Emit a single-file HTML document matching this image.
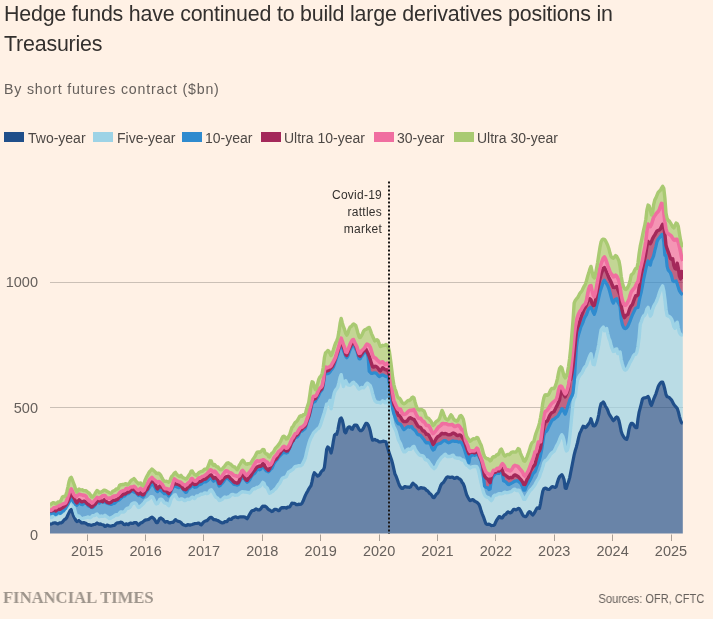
<!DOCTYPE html>
<html><head><meta charset="utf-8"><style>
html,body{margin:0;padding:0;background:#fff1e5;}
body{width:713px;height:619px;position:relative;overflow:hidden;-webkit-font-smoothing:antialiased;font-family:"Liberation Sans",Arial,sans-serif;color:#33302e;}
.chart{position:absolute;left:0;top:0;}
.t,.sub,.leg,.ft,.src,.chart{will-change:transform;}
.t{position:absolute;left:4px;top:-0.3px;font-size:21.4px;letter-spacing:-0.2px;line-height:29.6px;color:#33302e;margin:0;font-weight:normal;white-space:nowrap;}
.sub{position:absolute;left:4px;top:81px;font-size:14.2px;letter-spacing:0.8px;color:#66605c;white-space:nowrap;}
.leg{position:absolute;top:129.5px;left:0;font-size:14px;color:#4d4845;white-space:nowrap;}
.leg span{position:absolute;top:0;}
.leg i{position:absolute;top:1.6px;width:20px;height:10px;}
.ax text{font-family:"Liberation Sans",Arial,sans-serif;font-size:14.5px;fill:#66605c;}
.ann text{font-family:"Liberation Sans",Arial,sans-serif;font-size:12px;letter-spacing:0.25px;fill:#33302e;}
.ft{position:absolute;left:3px;top:586.6px;font-family:"Liberation Serif",serif;font-weight:bold;font-size:17.4px;color:#9e958c;transform:scaleX(0.955);transform-origin:0 0;white-space:nowrap;}
.src{position:absolute;right:9px;top:592px;font-size:12.6px;color:#66605c;transform:scaleX(0.88);transform-origin:100% 0;white-space:nowrap;}
</style></head><body>
<svg class="chart" width="713" height="619" viewBox="0 0 713 619">
<defs><clipPath id="cl"><rect x="50" y="150" width="633" height="384"/></clipPath></defs>
<line x1="50" y1="282.5" x2="683" y2="282.5" stroke="#cbc0b6" stroke-width="1"/>
<line x1="50" y1="407.5" x2="683" y2="407.5" stroke="#cbc0b6" stroke-width="1"/>
<g clip-path="url(#cl)">
<polygon points="50.00,524.2 51.12,524.1 52.24,523.6 53.36,523.0 54.48,522.9 55.60,522.9 56.72,523.6 57.84,524.0 58.96,523.2 60.08,522.8 61.20,522.9 62.32,522.2 63.44,520.8 64.56,519.5 65.68,519.0 66.80,517.5 67.92,514.9 69.04,512.6 70.16,510.4 71.28,509.4 72.40,512.3 73.52,515.7 74.64,517.9 75.76,520.2 76.88,521.6 78.00,521.1 79.12,520.5 80.24,521.5 81.36,522.8 82.48,522.9 83.60,522.6 84.72,522.9 85.84,523.3 86.96,524.2 88.08,524.9 89.20,524.7 90.32,525.0 91.44,525.4 92.56,524.9 93.68,524.5 94.80,524.5 95.92,523.8 97.04,523.0 98.16,523.8 99.28,524.3 100.40,523.9 101.52,524.5 102.64,524.8 103.76,525.1 104.88,526.4 106.00,526.1 107.12,525.0 108.24,525.5 109.36,526.0 110.48,526.1 111.60,526.0 112.72,525.6 113.84,525.5 114.96,525.0 116.08,523.6 117.20,522.9 118.32,522.9 119.44,522.7 120.56,522.2 121.68,522.3 122.80,523.2 123.92,524.5 125.04,524.6 126.16,523.8 127.28,524.3 128.40,524.7 129.52,523.4 130.64,523.0 131.76,523.4 132.88,523.5 134.00,522.7 135.12,522.5 136.24,522.7 137.36,523.9 138.48,525.0 139.60,524.0 140.72,522.9 141.84,522.6 142.96,521.9 144.08,520.9 145.20,520.1 146.32,519.8 147.44,519.7 148.56,519.5 149.68,518.6 150.80,517.6 151.92,517.1 153.04,517.8 154.16,518.9 155.28,520.7 156.40,522.6 157.52,522.6 158.64,520.4 159.76,518.4 160.88,517.9 162.00,518.8 163.12,519.6 164.24,521.1 165.36,522.2 166.48,521.5 167.60,521.5 168.72,522.7 169.84,523.0 170.96,522.5 172.08,522.3 173.20,522.3 174.32,520.8 175.44,519.6 176.56,520.5 177.68,521.2 178.80,521.4 179.92,521.8 181.04,522.5 182.16,523.9 183.28,524.8 184.40,525.1 185.52,525.6 186.64,525.4 187.76,524.6 188.88,524.8 190.00,525.1 191.12,524.8 192.24,524.5 193.36,524.1 194.48,523.7 195.60,523.5 196.72,523.5 197.84,523.2 198.96,523.0 200.08,524.3 201.20,524.9 202.32,523.6 203.44,522.3 204.56,521.4 205.68,520.9 206.80,520.7 207.92,519.7 209.04,518.5 210.16,517.6 211.28,517.3 212.40,518.2 213.52,519.6 214.64,519.6 215.76,519.8 216.88,520.3 218.00,520.6 219.12,521.4 220.24,522.0 221.36,522.6 222.48,522.9 223.60,522.7 224.72,521.7 225.84,521.5 226.96,521.6 228.08,519.9 229.20,518.8 230.32,519.5 231.44,519.3 232.56,517.9 233.68,517.4 234.80,517.0 235.92,516.8 237.04,517.5 238.16,517.7 239.28,517.0 240.40,516.8 241.52,516.8 242.64,516.8 243.76,516.9 244.88,517.0 246.00,518.0 247.12,518.8 248.24,516.9 249.36,514.8 250.48,512.9 251.60,511.1 252.72,510.5 253.84,510.3 254.96,509.6 256.08,508.9 257.20,509.4 258.32,510.0 259.44,510.0 260.56,509.1 261.68,507.4 262.80,506.2 263.92,506.4 265.04,506.2 266.16,506.8 267.28,508.1 268.40,509.4 269.52,510.0 270.64,510.6 271.76,511.6 272.88,511.1 274.00,509.8 275.12,509.3 276.24,509.3 277.36,509.9 278.48,510.7 279.60,510.2 280.72,508.3 281.84,507.6 282.96,508.0 284.08,507.6 285.20,507.6 286.32,508.2 287.44,507.2 288.56,507.1 289.68,507.0 290.80,505.2 291.92,503.1 293.04,503.3 294.16,503.3 295.28,503.7 296.40,504.7 297.52,504.7 298.64,504.2 299.76,504.4 300.88,504.2 302.00,503.3 303.12,501.1 304.24,498.1 305.36,495.4 306.48,493.1 307.60,491.2 308.72,489.1 309.84,487.2 310.96,485.8 312.08,481.4 313.20,475.8 314.32,472.7 315.44,473.8 316.56,474.9 317.68,476.2 318.80,475.6 319.92,474.2 321.04,472.0 322.16,470.7 323.28,470.1 324.40,467.3 325.52,458.7 326.64,449.5 327.76,446.9 328.88,448.0 330.00,449.9 331.12,453.0 332.24,448.2 333.36,441.3 334.48,435.3 335.60,434.0 336.72,434.3 337.84,430.1 338.96,423.9 340.08,418.9 341.20,417.9 342.32,420.2 343.44,425.1 344.56,431.6 345.68,432.9 346.80,430.1 347.92,427.6 349.04,426.9 350.16,427.1 351.28,428.9 352.40,429.3 353.52,426.7 354.64,425.0 355.76,425.1 356.88,425.4 358.00,427.4 359.12,429.5 360.24,430.7 361.36,430.6 362.48,429.8 363.60,427.9 364.72,425.5 365.84,423.4 366.96,423.4 368.08,424.7 369.20,427.3 370.32,431.2 371.44,436.8 372.56,440.2 373.68,439.9 374.80,439.4 375.92,440.2 377.04,440.3 378.16,441.1 379.28,441.8 380.40,441.9 381.52,441.7 382.64,441.4 383.76,441.2 384.88,441.5 386.00,441.8 387.12,446.1 388.24,449.9 389.36,453.4 390.48,456.8 391.60,460.0 392.72,464.1 393.84,469.2 394.96,474.1 396.08,476.2 397.20,479.2 398.32,482.5 399.44,485.3 400.56,487.1 401.68,488.3 402.80,488.3 403.92,487.1 405.04,486.5 406.16,486.9 407.28,487.2 408.40,487.2 409.52,487.4 410.64,486.8 411.76,484.7 412.88,483.1 414.00,484.1 415.12,485.1 416.24,486.0 417.36,487.9 418.48,488.9 419.60,488.3 420.72,487.6 421.84,487.9 422.96,488.2 424.08,488.1 425.20,488.8 426.32,490.2 427.44,490.7 428.56,492.0 429.68,493.5 430.80,494.1 431.92,495.6 433.04,497.4 434.16,497.6 435.28,495.9 436.40,494.2 437.52,493.3 438.64,491.6 439.76,488.2 440.88,485.1 442.00,483.5 443.12,482.7 444.24,481.3 445.36,479.4 446.48,477.6 447.60,476.9 448.72,477.0 449.84,477.4 450.96,477.3 452.08,477.0 453.20,477.5 454.32,478.4 455.44,478.1 456.56,477.3 457.68,477.6 458.80,478.7 459.92,479.1 461.04,480.2 462.16,482.4 463.28,483.8 464.40,486.7 465.52,490.8 466.64,494.8 467.76,497.0 468.88,499.0 470.00,500.6 471.12,500.3 472.24,499.6 473.36,499.9 474.48,501.0 475.60,501.6 476.72,502.2 477.84,503.1 478.96,504.3 480.08,507.1 481.20,511.2 482.32,514.1 483.44,516.8 484.56,520.1 485.68,523.3 486.80,524.4 487.92,524.4 489.04,524.1 490.16,524.6 491.28,525.6 492.40,525.5 493.52,525.4 494.64,524.7 495.76,521.9 496.88,519.7 498.00,518.4 499.12,516.6 500.24,516.9 501.36,518.0 502.48,517.8 503.60,515.8 504.72,514.7 505.84,514.3 506.96,512.7 508.08,511.8 509.20,512.5 510.32,513.0 511.44,512.3 512.56,510.8 513.68,509.3 514.80,509.3 515.92,509.9 517.04,509.3 518.16,508.4 519.28,508.5 520.40,510.3 521.52,512.5 522.64,514.8 523.76,516.1 524.88,516.6 526.00,516.6 527.12,515.1 528.24,512.8 529.36,511.6 530.48,512.2 531.60,513.8 532.72,515.0 533.84,513.8 534.96,511.9 536.08,509.6 537.20,507.9 538.32,508.2 539.44,508.3 540.56,503.3 541.68,496.7 542.80,491.1 543.92,488.6 545.04,488.1 546.16,488.3 547.28,489.2 548.40,489.5 549.52,489.3 550.64,488.0 551.76,486.8 552.88,486.6 554.00,487.1 555.12,487.5 556.24,486.6 557.36,482.4 558.48,479.0 559.60,476.7 560.72,475.6 561.84,474.6 562.96,476.5 564.08,479.7 565.20,488.1 566.32,488.4 567.44,484.5 568.56,481.7 569.68,477.6 570.80,472.0 571.92,466.2 573.04,460.5 574.16,454.9 575.28,450.5 576.40,446.9 577.52,442.7 578.64,437.6 579.76,433.4 580.88,431.1 582.00,428.6 583.12,426.2 584.24,426.5 585.36,427.5 586.48,426.9 587.60,425.2 588.72,423.8 589.84,422.2 590.96,418.7 592.08,422.4 593.20,425.6 594.32,425.9 595.44,425.1 596.56,422.8 597.68,419.5 598.80,414.5 599.92,407.8 601.04,403.7 602.16,403.1 603.28,401.9 604.40,403.7 605.52,406.4 606.64,407.9 607.76,410.3 608.88,413.5 610.00,415.5 611.12,417.2 612.24,419.0 613.36,420.7 614.48,419.6 615.60,417.8 616.72,416.9 617.84,417.8 618.96,420.6 620.08,425.7 621.20,431.4 622.32,434.5 623.44,436.4 624.56,438.1 625.68,439.0 626.80,439.4 627.92,435.7 629.04,429.4 630.16,425.4 631.28,423.3 632.40,423.4 633.52,424.5 634.64,426.4 635.76,427.6 636.88,427.7 638.00,418.8 639.12,412.1 640.24,407.9 641.36,403.6 642.48,399.0 643.60,398.1 644.72,397.8 645.84,397.7 646.96,397.1 648.08,396.5 649.20,398.8 650.32,403.4 651.44,405.4 652.56,402.5 653.68,399.1 654.80,396.5 655.92,393.8 657.04,390.2 658.16,386.8 659.28,384.6 660.40,383.0 661.52,382.1 662.64,382.0 663.76,385.1 664.88,389.5 666.00,394.5 667.12,396.7 668.24,397.0 669.36,397.7 670.48,398.8 671.60,400.1 672.72,402.3 673.84,404.4 674.96,405.9 676.08,407.1 677.20,408.3 678.32,411.7 679.44,416.3 680.56,420.4 681.68,422.9 682.80,423.3 682.80,533.6 681.68,533.6 680.56,533.6 679.44,533.6 678.32,533.6 677.20,533.6 676.08,533.6 674.96,533.6 673.84,533.6 672.72,533.6 671.60,533.6 670.48,533.6 669.36,533.6 668.24,533.6 667.12,533.6 666.00,533.6 664.88,533.6 663.76,533.6 662.64,533.6 661.52,533.6 660.40,533.6 659.28,533.6 658.16,533.6 657.04,533.6 655.92,533.6 654.80,533.6 653.68,533.6 652.56,533.6 651.44,533.6 650.32,533.6 649.20,533.6 648.08,533.6 646.96,533.6 645.84,533.6 644.72,533.6 643.60,533.6 642.48,533.6 641.36,533.6 640.24,533.6 639.12,533.6 638.00,533.6 636.88,533.6 635.76,533.6 634.64,533.6 633.52,533.6 632.40,533.6 631.28,533.6 630.16,533.6 629.04,533.6 627.92,533.6 626.80,533.6 625.68,533.6 624.56,533.6 623.44,533.6 622.32,533.6 621.20,533.6 620.08,533.6 618.96,533.6 617.84,533.6 616.72,533.6 615.60,533.6 614.48,533.6 613.36,533.6 612.24,533.6 611.12,533.6 610.00,533.6 608.88,533.6 607.76,533.6 606.64,533.6 605.52,533.6 604.40,533.6 603.28,533.6 602.16,533.6 601.04,533.6 599.92,533.6 598.80,533.6 597.68,533.6 596.56,533.6 595.44,533.6 594.32,533.6 593.20,533.6 592.08,533.6 590.96,533.6 589.84,533.6 588.72,533.6 587.60,533.6 586.48,533.6 585.36,533.6 584.24,533.6 583.12,533.6 582.00,533.6 580.88,533.6 579.76,533.6 578.64,533.6 577.52,533.6 576.40,533.6 575.28,533.6 574.16,533.6 573.04,533.6 571.92,533.6 570.80,533.6 569.68,533.6 568.56,533.6 567.44,533.6 566.32,533.6 565.20,533.6 564.08,533.6 562.96,533.6 561.84,533.6 560.72,533.6 559.60,533.6 558.48,533.6 557.36,533.6 556.24,533.6 555.12,533.6 554.00,533.6 552.88,533.6 551.76,533.6 550.64,533.6 549.52,533.6 548.40,533.6 547.28,533.6 546.16,533.6 545.04,533.6 543.92,533.6 542.80,533.6 541.68,533.6 540.56,533.6 539.44,533.6 538.32,533.6 537.20,533.6 536.08,533.6 534.96,533.6 533.84,533.6 532.72,533.6 531.60,533.6 530.48,533.6 529.36,533.6 528.24,533.6 527.12,533.6 526.00,533.6 524.88,533.6 523.76,533.6 522.64,533.6 521.52,533.6 520.40,533.6 519.28,533.6 518.16,533.6 517.04,533.6 515.92,533.6 514.80,533.6 513.68,533.6 512.56,533.6 511.44,533.6 510.32,533.6 509.20,533.6 508.08,533.6 506.96,533.6 505.84,533.6 504.72,533.6 503.60,533.6 502.48,533.6 501.36,533.6 500.24,533.6 499.12,533.6 498.00,533.6 496.88,533.6 495.76,533.6 494.64,533.6 493.52,533.6 492.40,533.6 491.28,533.6 490.16,533.6 489.04,533.6 487.92,533.6 486.80,533.6 485.68,533.6 484.56,533.6 483.44,533.6 482.32,533.6 481.20,533.6 480.08,533.6 478.96,533.6 477.84,533.6 476.72,533.6 475.60,533.6 474.48,533.6 473.36,533.6 472.24,533.6 471.12,533.6 470.00,533.6 468.88,533.6 467.76,533.6 466.64,533.6 465.52,533.6 464.40,533.6 463.28,533.6 462.16,533.6 461.04,533.6 459.92,533.6 458.80,533.6 457.68,533.6 456.56,533.6 455.44,533.6 454.32,533.6 453.20,533.6 452.08,533.6 450.96,533.6 449.84,533.6 448.72,533.6 447.60,533.6 446.48,533.6 445.36,533.6 444.24,533.6 443.12,533.6 442.00,533.6 440.88,533.6 439.76,533.6 438.64,533.6 437.52,533.6 436.40,533.6 435.28,533.6 434.16,533.6 433.04,533.6 431.92,533.6 430.80,533.6 429.68,533.6 428.56,533.6 427.44,533.6 426.32,533.6 425.20,533.6 424.08,533.6 422.96,533.6 421.84,533.6 420.72,533.6 419.60,533.6 418.48,533.6 417.36,533.6 416.24,533.6 415.12,533.6 414.00,533.6 412.88,533.6 411.76,533.6 410.64,533.6 409.52,533.6 408.40,533.6 407.28,533.6 406.16,533.6 405.04,533.6 403.92,533.6 402.80,533.6 401.68,533.6 400.56,533.6 399.44,533.6 398.32,533.6 397.20,533.6 396.08,533.6 394.96,533.6 393.84,533.6 392.72,533.6 391.60,533.6 390.48,533.6 389.36,533.6 388.24,533.6 387.12,533.6 386.00,533.6 384.88,533.6 383.76,533.6 382.64,533.6 381.52,533.6 380.40,533.6 379.28,533.6 378.16,533.6 377.04,533.6 375.92,533.6 374.80,533.6 373.68,533.6 372.56,533.6 371.44,533.6 370.32,533.6 369.20,533.6 368.08,533.6 366.96,533.6 365.84,533.6 364.72,533.6 363.60,533.6 362.48,533.6 361.36,533.6 360.24,533.6 359.12,533.6 358.00,533.6 356.88,533.6 355.76,533.6 354.64,533.6 353.52,533.6 352.40,533.6 351.28,533.6 350.16,533.6 349.04,533.6 347.92,533.6 346.80,533.6 345.68,533.6 344.56,533.6 343.44,533.6 342.32,533.6 341.20,533.6 340.08,533.6 338.96,533.6 337.84,533.6 336.72,533.6 335.60,533.6 334.48,533.6 333.36,533.6 332.24,533.6 331.12,533.6 330.00,533.6 328.88,533.6 327.76,533.6 326.64,533.6 325.52,533.6 324.40,533.6 323.28,533.6 322.16,533.6 321.04,533.6 319.92,533.6 318.80,533.6 317.68,533.6 316.56,533.6 315.44,533.6 314.32,533.6 313.20,533.6 312.08,533.6 310.96,533.6 309.84,533.6 308.72,533.6 307.60,533.6 306.48,533.6 305.36,533.6 304.24,533.6 303.12,533.6 302.00,533.6 300.88,533.6 299.76,533.6 298.64,533.6 297.52,533.6 296.40,533.6 295.28,533.6 294.16,533.6 293.04,533.6 291.92,533.6 290.80,533.6 289.68,533.6 288.56,533.6 287.44,533.6 286.32,533.6 285.20,533.6 284.08,533.6 282.96,533.6 281.84,533.6 280.72,533.6 279.60,533.6 278.48,533.6 277.36,533.6 276.24,533.6 275.12,533.6 274.00,533.6 272.88,533.6 271.76,533.6 270.64,533.6 269.52,533.6 268.40,533.6 267.28,533.6 266.16,533.6 265.04,533.6 263.92,533.6 262.80,533.6 261.68,533.6 260.56,533.6 259.44,533.6 258.32,533.6 257.20,533.6 256.08,533.6 254.96,533.6 253.84,533.6 252.72,533.6 251.60,533.6 250.48,533.6 249.36,533.6 248.24,533.6 247.12,533.6 246.00,533.6 244.88,533.6 243.76,533.6 242.64,533.6 241.52,533.6 240.40,533.6 239.28,533.6 238.16,533.6 237.04,533.6 235.92,533.6 234.80,533.6 233.68,533.6 232.56,533.6 231.44,533.6 230.32,533.6 229.20,533.6 228.08,533.6 226.96,533.6 225.84,533.6 224.72,533.6 223.60,533.6 222.48,533.6 221.36,533.6 220.24,533.6 219.12,533.6 218.00,533.6 216.88,533.6 215.76,533.6 214.64,533.6 213.52,533.6 212.40,533.6 211.28,533.6 210.16,533.6 209.04,533.6 207.92,533.6 206.80,533.6 205.68,533.6 204.56,533.6 203.44,533.6 202.32,533.6 201.20,533.6 200.08,533.6 198.96,533.6 197.84,533.6 196.72,533.6 195.60,533.6 194.48,533.6 193.36,533.6 192.24,533.6 191.12,533.6 190.00,533.6 188.88,533.6 187.76,533.6 186.64,533.6 185.52,533.6 184.40,533.6 183.28,533.6 182.16,533.6 181.04,533.6 179.92,533.6 178.80,533.6 177.68,533.6 176.56,533.6 175.44,533.6 174.32,533.6 173.20,533.6 172.08,533.6 170.96,533.6 169.84,533.6 168.72,533.6 167.60,533.6 166.48,533.6 165.36,533.6 164.24,533.6 163.12,533.6 162.00,533.6 160.88,533.6 159.76,533.6 158.64,533.6 157.52,533.6 156.40,533.6 155.28,533.6 154.16,533.6 153.04,533.6 151.92,533.6 150.80,533.6 149.68,533.6 148.56,533.6 147.44,533.6 146.32,533.6 145.20,533.6 144.08,533.6 142.96,533.6 141.84,533.6 140.72,533.6 139.60,533.6 138.48,533.6 137.36,533.6 136.24,533.6 135.12,533.6 134.00,533.6 132.88,533.6 131.76,533.6 130.64,533.6 129.52,533.6 128.40,533.6 127.28,533.6 126.16,533.6 125.04,533.6 123.92,533.6 122.80,533.6 121.68,533.6 120.56,533.6 119.44,533.6 118.32,533.6 117.20,533.6 116.08,533.6 114.96,533.6 113.84,533.6 112.72,533.6 111.60,533.6 110.48,533.6 109.36,533.6 108.24,533.6 107.12,533.6 106.00,533.6 104.88,533.6 103.76,533.6 102.64,533.6 101.52,533.6 100.40,533.6 99.28,533.6 98.16,533.6 97.04,533.6 95.92,533.6 94.80,533.6 93.68,533.6 92.56,533.6 91.44,533.6 90.32,533.6 89.20,533.6 88.08,533.6 86.96,533.6 85.84,533.6 84.72,533.6 83.60,533.6 82.48,533.6 81.36,533.6 80.24,533.6 79.12,533.6 78.00,533.6 76.88,533.6 75.76,533.6 74.64,533.6 73.52,533.6 72.40,533.6 71.28,533.6 70.16,533.6 69.04,533.6 67.92,533.6 66.80,533.6 65.68,533.6 64.56,533.6 63.44,533.6 62.32,533.6 61.20,533.6 60.08,533.6 58.96,533.6 57.84,533.6 56.72,533.6 55.60,533.6 54.48,533.6 53.36,533.6 52.24,533.6 51.12,533.6 50.00,533.6" fill="#204f8a" fill-opacity="0.675"/><polygon points="50.00,517.1 51.12,517.5 52.24,517.1 53.36,515.8 54.48,515.0 55.60,515.6 56.72,515.0 57.84,514.1 58.96,514.1 60.08,513.6 61.20,512.8 62.32,512.3 63.44,511.4 64.56,509.5 65.68,508.4 66.80,507.7 67.92,505.4 69.04,502.3 70.16,500.3 71.28,499.5 72.40,501.9 73.52,505.8 74.64,509.7 75.76,513.7 76.88,516.2 78.00,516.0 79.12,516.2 80.24,517.5 81.36,518.6 82.48,518.8 83.60,518.2 84.72,517.9 85.84,517.8 86.96,517.3 88.08,517.0 89.20,517.6 90.32,517.7 91.44,516.9 92.56,515.7 93.68,515.6 94.80,515.6 95.92,514.6 97.04,514.0 98.16,515.3 99.28,516.7 100.40,516.3 101.52,516.0 102.64,516.4 103.76,516.1 104.88,515.3 106.00,515.9 107.12,516.9 108.24,517.7 109.36,518.5 110.48,518.3 111.60,517.5 112.72,516.9 113.84,516.4 114.96,515.3 116.08,514.7 117.20,515.1 118.32,514.8 119.44,513.2 120.56,512.0 121.68,512.0 122.80,512.1 123.92,511.8 125.04,510.9 126.16,509.1 127.28,508.3 128.40,508.2 129.52,507.6 130.64,506.2 131.76,504.2 132.88,503.3 134.00,502.9 135.12,503.0 136.24,503.8 137.36,506.0 138.48,507.5 139.60,507.1 140.72,505.9 141.84,505.1 142.96,504.1 144.08,502.8 145.20,501.1 146.32,500.2 147.44,499.9 148.56,499.1 149.68,498.2 150.80,496.7 151.92,496.6 153.04,497.6 154.16,500.0 155.28,502.4 156.40,503.9 157.52,503.5 158.64,501.7 159.76,499.4 160.88,499.2 162.00,499.6 163.12,501.0 164.24,502.8 165.36,503.3 166.48,503.2 167.60,504.5 168.72,505.7 169.84,503.3 170.96,499.6 172.08,497.3 173.20,496.3 174.32,495.0 175.44,494.8 176.56,497.4 177.68,499.2 178.80,499.5 179.92,499.6 181.04,498.8 182.16,499.0 183.28,499.7 184.40,500.6 185.52,500.5 186.64,499.6 187.76,499.1 188.88,499.5 190.00,499.2 191.12,497.9 192.24,497.1 193.36,497.7 194.48,498.5 195.60,497.3 196.72,495.9 197.84,495.9 198.96,495.7 200.08,494.7 201.20,494.1 202.32,494.2 203.44,493.8 204.56,493.0 205.68,492.9 206.80,493.7 207.92,493.4 209.04,492.0 210.16,490.3 211.28,489.8 212.40,491.4 213.52,493.2 214.64,495.3 215.76,497.2 216.88,497.7 218.00,498.6 219.12,500.5 220.24,500.4 221.36,499.7 222.48,499.2 223.60,497.9 224.72,496.9 225.84,497.5 226.96,497.6 228.08,497.0 229.20,496.8 230.32,495.9 231.44,494.7 232.56,494.4 233.68,494.7 234.80,495.2 235.92,495.1 237.04,495.0 238.16,494.8 239.28,493.7 240.40,492.9 241.52,492.1 242.64,491.6 243.76,491.8 244.88,492.0 246.00,492.2 247.12,492.4 248.24,492.5 249.36,493.0 250.48,492.3 251.60,490.8 252.72,489.4 253.84,488.7 254.96,488.7 256.08,488.0 257.20,487.3 258.32,487.1 259.44,486.7 260.56,485.8 261.68,484.1 262.80,482.4 263.92,483.2 265.04,486.3 266.16,487.1 267.28,488.2 268.40,490.9 269.52,493.3 270.64,492.7 271.76,491.7 272.88,491.3 274.00,490.0 275.12,489.1 276.24,488.2 277.36,486.2 278.48,484.5 279.60,483.3 280.72,481.3 281.84,478.9 282.96,477.8 284.08,477.5 285.20,477.2 286.32,476.5 287.44,474.3 288.56,472.0 289.68,471.5 290.80,470.8 291.92,469.9 293.04,469.3 294.16,467.7 295.28,466.5 296.40,466.6 297.52,466.0 298.64,465.6 299.76,465.8 300.88,465.7 302.00,464.9 303.12,462.7 304.24,460.6 305.36,458.0 306.48,452.9 307.60,448.1 308.72,444.1 309.84,440.5 310.96,437.8 312.08,436.0 313.20,433.6 314.32,432.1 315.44,431.2 316.56,429.9 317.68,428.8 318.80,428.2 319.92,426.2 321.04,423.1 322.16,419.6 323.28,415.9 324.40,412.4 325.52,408.6 326.64,404.1 327.76,404.0 328.88,403.2 330.00,400.4 331.12,408.8 332.24,402.8 333.36,397.2 334.48,392.4 335.60,390.1 336.72,388.7 337.84,387.0 338.96,382.7 340.08,377.6 341.20,374.7 342.32,380.8 343.44,386.6 344.56,383.1 345.68,380.8 346.80,383.3 347.92,384.9 349.04,385.1 350.16,385.2 351.28,384.3 352.40,382.7 353.52,382.2 354.64,383.5 355.76,384.4 356.88,385.6 358.00,387.8 359.12,389.1 360.24,388.4 361.36,387.4 362.48,387.6 363.60,387.9 364.72,386.7 365.84,384.6 366.96,383.2 368.08,383.6 369.20,384.8 370.32,385.8 371.44,389.0 372.56,393.6 373.68,397.5 374.80,400.5 375.92,401.7 377.04,402.4 378.16,402.3 379.28,402.5 380.40,403.0 381.52,401.9 382.64,400.8 383.76,401.3 384.88,402.7 386.00,402.8 387.12,400.4 388.24,399.6 389.36,405.7 390.48,411.7 391.60,417.8 392.72,423.5 393.84,426.8 394.96,428.9 396.08,431.4 397.20,435.5 398.32,439.5 399.44,441.7 400.56,443.8 401.68,447.0 402.80,449.9 403.92,451.8 405.04,451.8 406.16,450.9 407.28,449.5 408.40,449.0 409.52,449.4 410.64,449.4 411.76,448.2 412.88,446.8 414.00,446.4 415.12,448.9 416.24,451.1 417.36,452.6 418.48,454.1 419.60,455.1 420.72,455.5 421.84,455.6 422.96,455.9 424.08,457.2 425.20,459.5 426.32,460.1 427.44,460.0 428.56,461.3 429.68,463.1 430.80,464.8 431.92,466.5 433.04,467.5 434.16,468.6 435.28,467.6 436.40,465.5 437.52,463.2 438.64,461.2 439.76,459.9 440.88,458.1 442.00,457.0 443.12,456.3 444.24,454.9 445.36,454.2 446.48,455.8 447.60,456.7 448.72,456.5 449.84,456.5 450.96,456.3 452.08,455.4 453.20,455.3 454.32,457.0 455.44,457.9 456.56,457.9 457.68,458.3 458.80,458.1 459.92,458.1 461.04,459.4 462.16,460.0 463.28,459.9 464.40,461.1 465.52,463.8 466.64,465.2 467.76,465.6 468.88,467.0 470.00,468.0 471.12,467.2 472.24,466.8 473.36,466.7 474.48,466.4 475.60,466.5 476.72,466.7 477.84,468.6 478.96,472.6 480.08,477.8 481.20,483.2 482.32,487.6 483.44,492.1 484.56,495.0 485.68,496.3 486.80,497.2 487.92,497.4 489.04,498.0 490.16,499.5 491.28,500.6 492.40,499.2 493.52,496.3 494.64,495.3 495.76,495.2 496.88,494.9 498.00,494.0 499.12,493.6 500.24,493.7 501.36,493.9 502.48,493.7 503.60,492.8 504.72,492.1 505.84,492.6 506.96,492.7 508.08,492.5 509.20,492.2 510.32,491.8 511.44,491.6 512.56,490.6 513.68,489.4 514.80,489.2 515.92,490.1 517.04,490.6 518.16,490.1 519.28,490.4 520.40,492.4 521.52,494.2 522.64,496.4 523.76,499.4 524.88,499.4 526.00,497.3 527.12,495.2 528.24,493.4 529.36,491.6 530.48,490.1 531.60,489.2 532.72,487.8 533.84,486.2 534.96,484.8 536.08,482.5 537.20,480.5 538.32,478.9 539.44,476.8 540.56,473.1 541.68,470.3 542.80,466.7 543.92,462.6 545.04,460.9 546.16,460.4 547.28,459.3 548.40,457.8 549.52,456.0 550.64,454.2 551.76,453.0 552.88,452.1 554.00,451.4 555.12,449.3 556.24,446.7 557.36,444.7 558.48,442.5 559.60,439.5 560.72,436.8 561.84,434.8 562.96,436.7 564.08,440.7 565.20,447.0 566.32,450.9 567.44,449.9 568.56,445.8 569.68,437.6 570.80,426.2 571.92,414.4 573.04,403.2 574.16,398.4 575.28,396.6 576.40,386.7 577.52,380.1 578.64,377.3 579.76,375.4 580.88,374.0 582.00,372.8 583.12,370.6 584.24,367.9 585.36,366.7 586.48,365.1 587.60,361.9 588.72,358.7 589.84,355.8 590.96,353.7 592.08,359.2 593.20,364.4 594.32,364.7 595.44,360.2 596.56,354.7 597.68,350.1 598.80,344.6 599.92,337.0 601.04,330.2 602.16,328.3 603.28,327.1 604.40,330.7 605.52,330.2 606.64,328.5 607.76,333.8 608.88,338.4 610.00,340.8 611.12,345.7 612.24,348.8 613.36,351.5 614.48,351.1 615.60,349.1 616.72,349.0 617.84,353.6 618.96,352.7 620.08,352.1 621.20,359.6 622.32,364.0 623.44,367.7 624.56,369.8 625.68,370.1 626.80,369.0 627.92,367.0 629.04,364.6 630.16,362.1 631.28,360.3 632.40,358.2 633.52,355.6 634.64,354.5 635.76,354.3 636.88,352.0 638.00,346.3 639.12,337.6 640.24,324.4 641.36,321.6 642.48,318.3 643.60,315.9 644.72,315.2 645.84,312.9 646.96,308.9 648.08,307.4 649.20,311.8 650.32,316.0 651.44,314.4 652.56,309.6 653.68,306.4 654.80,304.4 655.92,302.5 657.04,300.0 658.16,296.8 659.28,293.2 660.40,290.1 661.52,287.8 662.64,285.9 663.76,290.8 664.88,299.0 666.00,309.5 667.12,315.7 668.24,316.0 669.36,316.5 670.48,317.5 671.60,319.2 672.72,322.2 673.84,326.5 674.96,328.3 676.08,323.8 677.20,322.2 678.32,328.1 679.44,332.6 680.56,334.3 681.68,335.0 682.80,335.4 682.80,423.3 681.68,422.9 680.56,420.4 679.44,416.3 678.32,411.7 677.20,408.3 676.08,407.1 674.96,405.9 673.84,404.4 672.72,402.3 671.60,400.1 670.48,398.8 669.36,397.7 668.24,397.0 667.12,396.7 666.00,394.5 664.88,389.5 663.76,385.1 662.64,382.0 661.52,382.1 660.40,383.0 659.28,384.6 658.16,386.8 657.04,390.2 655.92,393.8 654.80,396.5 653.68,399.1 652.56,402.5 651.44,405.4 650.32,403.4 649.20,398.8 648.08,396.5 646.96,397.1 645.84,397.7 644.72,397.8 643.60,398.1 642.48,399.0 641.36,403.6 640.24,407.9 639.12,412.1 638.00,418.8 636.88,427.7 635.76,427.6 634.64,426.4 633.52,424.5 632.40,423.4 631.28,423.3 630.16,425.4 629.04,429.4 627.92,435.7 626.80,439.4 625.68,439.0 624.56,438.1 623.44,436.4 622.32,434.5 621.20,431.4 620.08,425.7 618.96,420.6 617.84,417.8 616.72,416.9 615.60,417.8 614.48,419.6 613.36,420.7 612.24,419.0 611.12,417.2 610.00,415.5 608.88,413.5 607.76,410.3 606.64,407.9 605.52,406.4 604.40,403.7 603.28,401.9 602.16,403.1 601.04,403.7 599.92,407.8 598.80,414.5 597.68,419.5 596.56,422.8 595.44,425.1 594.32,425.9 593.20,425.6 592.08,422.4 590.96,418.7 589.84,422.2 588.72,423.8 587.60,425.2 586.48,426.9 585.36,427.5 584.24,426.5 583.12,426.2 582.00,428.6 580.88,431.1 579.76,433.4 578.64,437.6 577.52,442.7 576.40,446.9 575.28,450.5 574.16,454.9 573.04,460.5 571.92,466.2 570.80,472.0 569.68,477.6 568.56,481.7 567.44,484.5 566.32,488.4 565.20,488.1 564.08,479.7 562.96,476.5 561.84,474.6 560.72,475.6 559.60,476.7 558.48,479.0 557.36,482.4 556.24,486.6 555.12,487.5 554.00,487.1 552.88,486.6 551.76,486.8 550.64,488.0 549.52,489.3 548.40,489.5 547.28,489.2 546.16,488.3 545.04,488.1 543.92,488.6 542.80,491.1 541.68,496.7 540.56,503.3 539.44,508.3 538.32,508.2 537.20,507.9 536.08,509.6 534.96,511.9 533.84,513.8 532.72,515.0 531.60,513.8 530.48,512.2 529.36,511.6 528.24,512.8 527.12,515.1 526.00,516.6 524.88,516.6 523.76,516.1 522.64,514.8 521.52,512.5 520.40,510.3 519.28,508.5 518.16,508.4 517.04,509.3 515.92,509.9 514.80,509.3 513.68,509.3 512.56,510.8 511.44,512.3 510.32,513.0 509.20,512.5 508.08,511.8 506.96,512.7 505.84,514.3 504.72,514.7 503.60,515.8 502.48,517.8 501.36,518.0 500.24,516.9 499.12,516.6 498.00,518.4 496.88,519.7 495.76,521.9 494.64,524.7 493.52,525.4 492.40,525.5 491.28,525.6 490.16,524.6 489.04,524.1 487.92,524.4 486.80,524.4 485.68,523.3 484.56,520.1 483.44,516.8 482.32,514.1 481.20,511.2 480.08,507.1 478.96,504.3 477.84,503.1 476.72,502.2 475.60,501.6 474.48,501.0 473.36,499.9 472.24,499.6 471.12,500.3 470.00,500.6 468.88,499.0 467.76,497.0 466.64,494.8 465.52,490.8 464.40,486.7 463.28,483.8 462.16,482.4 461.04,480.2 459.92,479.1 458.80,478.7 457.68,477.6 456.56,477.3 455.44,478.1 454.32,478.4 453.20,477.5 452.08,477.0 450.96,477.3 449.84,477.4 448.72,477.0 447.60,476.9 446.48,477.6 445.36,479.4 444.24,481.3 443.12,482.7 442.00,483.5 440.88,485.1 439.76,488.2 438.64,491.6 437.52,493.3 436.40,494.2 435.28,495.9 434.16,497.6 433.04,497.4 431.92,495.6 430.80,494.1 429.68,493.5 428.56,492.0 427.44,490.7 426.32,490.2 425.20,488.8 424.08,488.1 422.96,488.2 421.84,487.9 420.72,487.6 419.60,488.3 418.48,488.9 417.36,487.9 416.24,486.0 415.12,485.1 414.00,484.1 412.88,483.1 411.76,484.7 410.64,486.8 409.52,487.4 408.40,487.2 407.28,487.2 406.16,486.9 405.04,486.5 403.92,487.1 402.80,488.3 401.68,488.3 400.56,487.1 399.44,485.3 398.32,482.5 397.20,479.2 396.08,476.2 394.96,474.1 393.84,469.2 392.72,464.1 391.60,460.0 390.48,456.8 389.36,453.4 388.24,449.9 387.12,446.1 386.00,441.8 384.88,441.5 383.76,441.2 382.64,441.4 381.52,441.7 380.40,441.9 379.28,441.8 378.16,441.1 377.04,440.3 375.92,440.2 374.80,439.4 373.68,439.9 372.56,440.2 371.44,436.8 370.32,431.2 369.20,427.3 368.08,424.7 366.96,423.4 365.84,423.4 364.72,425.5 363.60,427.9 362.48,429.8 361.36,430.6 360.24,430.7 359.12,429.5 358.00,427.4 356.88,425.4 355.76,425.1 354.64,425.0 353.52,426.7 352.40,429.3 351.28,428.9 350.16,427.1 349.04,426.9 347.92,427.6 346.80,430.1 345.68,432.9 344.56,431.6 343.44,425.1 342.32,420.2 341.20,417.9 340.08,418.9 338.96,423.9 337.84,430.1 336.72,434.3 335.60,434.0 334.48,435.3 333.36,441.3 332.24,448.2 331.12,453.0 330.00,449.9 328.88,448.0 327.76,446.9 326.64,449.5 325.52,458.7 324.40,467.3 323.28,470.1 322.16,470.7 321.04,472.0 319.92,474.2 318.80,475.6 317.68,476.2 316.56,474.9 315.44,473.8 314.32,472.7 313.20,475.8 312.08,481.4 310.96,485.8 309.84,487.2 308.72,489.1 307.60,491.2 306.48,493.1 305.36,495.4 304.24,498.1 303.12,501.1 302.00,503.3 300.88,504.2 299.76,504.4 298.64,504.2 297.52,504.7 296.40,504.7 295.28,503.7 294.16,503.3 293.04,503.3 291.92,503.1 290.80,505.2 289.68,507.0 288.56,507.1 287.44,507.2 286.32,508.2 285.20,507.6 284.08,507.6 282.96,508.0 281.84,507.6 280.72,508.3 279.60,510.2 278.48,510.7 277.36,509.9 276.24,509.3 275.12,509.3 274.00,509.8 272.88,511.1 271.76,511.6 270.64,510.6 269.52,510.0 268.40,509.4 267.28,508.1 266.16,506.8 265.04,506.2 263.92,506.4 262.80,506.2 261.68,507.4 260.56,509.1 259.44,510.0 258.32,510.0 257.20,509.4 256.08,508.9 254.96,509.6 253.84,510.3 252.72,510.5 251.60,511.1 250.48,512.9 249.36,514.8 248.24,516.9 247.12,518.8 246.00,518.0 244.88,517.0 243.76,516.9 242.64,516.8 241.52,516.8 240.40,516.8 239.28,517.0 238.16,517.7 237.04,517.5 235.92,516.8 234.80,517.0 233.68,517.4 232.56,517.9 231.44,519.3 230.32,519.5 229.20,518.8 228.08,519.9 226.96,521.6 225.84,521.5 224.72,521.7 223.60,522.7 222.48,522.9 221.36,522.6 220.24,522.0 219.12,521.4 218.00,520.6 216.88,520.3 215.76,519.8 214.64,519.6 213.52,519.6 212.40,518.2 211.28,517.3 210.16,517.6 209.04,518.5 207.92,519.7 206.80,520.7 205.68,520.9 204.56,521.4 203.44,522.3 202.32,523.6 201.20,524.9 200.08,524.3 198.96,523.0 197.84,523.2 196.72,523.5 195.60,523.5 194.48,523.7 193.36,524.1 192.24,524.5 191.12,524.8 190.00,525.1 188.88,524.8 187.76,524.6 186.64,525.4 185.52,525.6 184.40,525.1 183.28,524.8 182.16,523.9 181.04,522.5 179.92,521.8 178.80,521.4 177.68,521.2 176.56,520.5 175.44,519.6 174.32,520.8 173.20,522.3 172.08,522.3 170.96,522.5 169.84,523.0 168.72,522.7 167.60,521.5 166.48,521.5 165.36,522.2 164.24,521.1 163.12,519.6 162.00,518.8 160.88,517.9 159.76,518.4 158.64,520.4 157.52,522.6 156.40,522.6 155.28,520.7 154.16,518.9 153.04,517.8 151.92,517.1 150.80,517.6 149.68,518.6 148.56,519.5 147.44,519.7 146.32,519.8 145.20,520.1 144.08,520.9 142.96,521.9 141.84,522.6 140.72,522.9 139.60,524.0 138.48,525.0 137.36,523.9 136.24,522.7 135.12,522.5 134.00,522.7 132.88,523.5 131.76,523.4 130.64,523.0 129.52,523.4 128.40,524.7 127.28,524.3 126.16,523.8 125.04,524.6 123.92,524.5 122.80,523.2 121.68,522.3 120.56,522.2 119.44,522.7 118.32,522.9 117.20,522.9 116.08,523.6 114.96,525.0 113.84,525.5 112.72,525.6 111.60,526.0 110.48,526.1 109.36,526.0 108.24,525.5 107.12,525.0 106.00,526.1 104.88,526.4 103.76,525.1 102.64,524.8 101.52,524.5 100.40,523.9 99.28,524.3 98.16,523.8 97.04,523.0 95.92,523.8 94.80,524.5 93.68,524.5 92.56,524.9 91.44,525.4 90.32,525.0 89.20,524.7 88.08,524.9 86.96,524.2 85.84,523.3 84.72,522.9 83.60,522.6 82.48,522.9 81.36,522.8 80.24,521.5 79.12,520.5 78.00,521.1 76.88,521.6 75.76,520.2 74.64,517.9 73.52,515.7 72.40,512.3 71.28,509.4 70.16,510.4 69.04,512.6 67.92,514.9 66.80,517.5 65.68,519.0 64.56,519.5 63.44,520.8 62.32,522.2 61.20,522.9 60.08,522.8 58.96,523.2 57.84,524.0 56.72,523.6 55.60,522.9 54.48,522.9 53.36,523.0 52.24,523.6 51.12,524.1 50.00,524.2" fill="#9dd3e6" fill-opacity="0.7"/><polygon points="50.00,513.9 51.12,513.4 52.24,513.1 53.36,512.8 54.48,513.5 55.60,514.6 56.72,514.0 57.84,512.7 58.96,512.8 60.08,513.5 61.20,512.8 62.32,511.4 63.44,511.0 64.56,509.5 65.68,508.3 66.80,506.3 67.92,504.4 69.04,502.2 70.16,499.9 71.28,498.8 72.40,500.4 73.52,502.1 74.64,503.2 75.76,504.7 76.88,505.3 78.00,503.8 79.12,503.0 80.24,503.6 81.36,504.4 82.48,504.6 83.60,503.8 84.72,503.2 85.84,503.1 86.96,503.9 88.08,505.6 89.20,506.3 90.32,506.6 91.44,507.4 92.56,507.6 93.68,506.7 94.80,505.4 95.92,503.4 97.04,501.4 98.16,502.1 99.28,503.1 100.40,501.7 101.52,501.5 102.64,502.1 103.76,501.9 104.88,501.9 106.00,502.6 107.12,503.3 108.24,503.6 109.36,503.8 110.48,504.4 111.60,504.3 112.72,503.7 113.84,503.5 114.96,503.0 116.08,501.8 117.20,500.8 118.32,500.5 119.44,499.7 120.56,498.6 121.68,497.6 122.80,496.5 123.92,496.2 125.04,495.7 126.16,494.1 127.28,493.8 128.40,493.7 129.52,492.6 130.64,491.4 131.76,491.0 132.88,491.5 134.00,491.9 135.12,492.6 136.24,493.0 137.36,494.2 138.48,495.6 139.60,495.5 140.72,495.4 141.84,496.5 142.96,497.2 144.08,495.8 145.20,493.2 146.32,491.9 147.44,490.4 148.56,488.6 149.68,487.1 150.80,485.0 151.92,483.1 153.04,484.5 154.16,486.2 155.28,487.9 156.40,490.6 157.52,491.6 158.64,490.3 159.76,489.9 160.88,490.6 162.00,491.5 163.12,492.5 164.24,493.7 165.36,493.7 166.48,493.1 167.60,494.3 168.72,496.0 169.84,494.4 170.96,491.7 172.08,488.9 173.20,486.9 174.32,486.1 175.44,486.3 176.56,486.6 177.68,487.3 178.80,487.6 179.92,486.8 181.04,486.8 182.16,488.1 183.28,489.7 184.40,490.9 185.52,492.4 186.64,492.1 187.76,489.6 188.88,488.6 190.00,488.1 191.12,485.8 192.24,485.1 193.36,486.4 194.48,487.3 195.60,487.2 196.72,486.9 197.84,485.8 198.96,484.7 200.08,484.6 201.20,484.1 202.32,482.9 203.44,482.1 204.56,482.0 205.68,481.9 206.80,481.1 207.92,480.4 209.04,479.2 210.16,478.1 211.28,478.4 212.40,479.9 213.52,481.2 214.64,479.1 215.76,478.9 216.88,480.8 218.00,483.4 219.12,486.1 220.24,485.6 221.36,484.1 222.48,483.1 223.60,481.6 224.72,479.6 225.84,478.5 226.96,478.2 228.08,478.4 229.20,479.7 230.32,480.8 231.44,481.8 232.56,483.0 233.68,484.2 234.80,484.6 235.92,484.5 237.04,485.1 238.16,484.8 239.28,482.4 240.40,480.0 241.52,478.5 242.64,477.9 243.76,478.2 244.88,479.3 246.00,481.0 247.12,482.3 248.24,481.4 249.36,480.2 250.48,478.2 251.60,476.1 252.72,474.9 253.84,473.9 254.96,473.0 256.08,471.1 257.20,469.2 258.32,469.2 259.44,469.8 260.56,469.4 261.68,467.9 262.80,466.1 263.92,466.4 265.04,469.4 266.16,470.9 267.28,471.1 268.40,471.8 269.52,470.8 270.64,469.2 271.76,468.4 272.88,466.2 274.00,463.7 275.12,461.9 276.24,460.4 277.36,459.1 278.48,457.4 279.60,456.1 280.72,455.1 281.84,453.8 282.96,452.7 284.08,452.4 285.20,452.6 286.32,453.1 287.44,452.6 288.56,450.0 289.68,447.5 290.80,445.2 291.92,442.6 293.04,440.7 294.16,438.7 295.28,437.5 296.40,437.4 297.52,436.7 298.64,434.9 299.76,432.4 300.88,430.9 302.00,431.2 303.12,430.1 304.24,429.3 305.36,428.1 306.48,424.4 307.60,420.5 308.72,417.4 309.84,413.7 310.96,409.1 312.08,404.0 313.20,401.7 314.32,401.9 315.44,401.1 316.56,398.8 317.68,397.1 318.80,395.1 319.92,392.6 321.04,391.1 322.16,389.7 323.28,385.4 324.40,376.2 325.52,372.2 326.64,373.5 327.76,373.7 328.88,373.1 330.00,371.9 331.12,370.1 332.24,368.9 333.36,367.2 334.48,364.2 335.60,360.7 336.72,357.3 337.84,353.9 338.96,349.4 340.08,344.9 341.20,343.3 342.32,347.0 343.44,350.7 344.56,353.1 345.68,356.3 346.80,357.8 347.92,355.9 349.04,352.6 350.16,349.7 351.28,347.4 352.40,344.6 353.52,344.0 354.64,346.7 355.76,348.9 356.88,351.1 358.00,355.2 359.12,358.9 360.24,358.8 361.36,356.6 362.48,355.2 363.60,353.3 364.72,351.8 365.84,350.4 366.96,353.0 368.08,356.8 369.20,371.4 370.32,372.4 371.44,373.5 372.56,373.3 373.68,372.9 374.80,372.8 375.92,373.0 377.04,374.1 378.16,375.6 379.28,376.6 380.40,375.9 381.52,375.0 382.64,374.9 383.76,375.2 384.88,376.1 386.00,376.6 387.12,376.4 388.24,377.1 389.36,383.6 390.48,393.0 391.60,401.6 392.72,409.2 393.84,413.8 394.96,417.1 396.08,420.2 397.20,422.3 398.32,423.9 399.44,423.8 400.56,424.4 401.68,426.1 402.80,428.3 403.92,429.6 405.04,428.9 406.16,427.8 407.28,426.9 408.40,426.5 409.52,427.3 410.64,426.8 411.76,426.6 412.88,428.7 414.00,429.6 415.12,430.4 416.24,432.2 417.36,434.2 418.48,434.9 419.60,434.9 420.72,435.6 421.84,437.1 422.96,438.5 424.08,439.8 425.20,441.6 426.32,442.8 427.44,442.6 428.56,442.8 429.68,443.1 430.80,444.9 431.92,448.1 433.04,450.0 434.16,449.4 435.28,447.2 436.40,445.1 437.52,444.4 438.64,443.9 439.76,443.4 440.88,443.0 442.00,442.1 443.12,441.1 444.24,440.5 445.36,440.6 446.48,441.4 447.60,442.3 448.72,442.8 449.84,442.3 450.96,441.6 452.08,441.1 453.20,440.9 454.32,441.3 455.44,441.4 456.56,441.3 457.68,441.8 458.80,442.1 459.92,441.8 461.04,442.2 462.16,444.0 463.28,446.2 464.40,449.3 465.52,452.9 466.64,456.4 467.76,459.5 468.88,462.8 470.00,456.2 471.12,456.0 472.24,454.7 473.36,454.9 474.48,455.4 475.60,454.6 476.72,454.3 477.84,454.9 478.96,456.3 480.08,458.8 481.20,461.9 482.32,465.7 483.44,475.8 484.56,486.1 485.68,487.2 486.80,487.6 487.92,487.9 489.04,489.5 490.16,489.1 491.28,479.7 492.40,477.6 493.52,475.6 494.64,474.6 495.76,473.4 496.88,472.5 498.00,473.5 499.12,473.4 500.24,470.9 501.36,469.6 502.48,474.7 503.60,480.9 504.72,481.4 505.84,481.9 506.96,483.1 508.08,484.4 509.20,484.6 510.32,483.7 511.44,483.2 512.56,482.6 513.68,481.9 514.80,481.2 515.92,481.1 517.04,480.7 518.16,481.2 519.28,482.2 520.40,483.0 521.52,485.1 522.64,487.4 523.76,490.2 524.88,490.2 526.00,487.1 527.12,484.7 528.24,483.2 529.36,481.3 530.48,479.3 531.60,476.9 532.72,474.2 533.84,472.8 534.96,471.8 536.08,469.0 537.20,465.6 538.32,462.9 539.44,460.0 540.56,455.3 541.68,449.8 542.80,442.7 543.92,435.1 545.04,432.2 546.16,431.6 547.28,430.1 548.40,427.6 549.52,425.3 550.64,423.1 551.76,420.8 552.88,419.6 554.00,419.2 555.12,418.2 556.24,417.3 557.36,416.7 558.48,415.1 559.60,413.0 560.72,411.2 561.84,408.6 562.96,409.4 564.08,412.2 565.20,414.1 566.32,411.3 567.44,407.4 568.56,403.7 569.68,400.3 570.80,398.0 571.92,395.8 573.04,392.9 574.16,382.1 575.28,365.1 576.40,347.6 577.52,338.9 578.64,334.4 579.76,330.7 580.88,326.8 582.00,324.5 583.12,322.1 584.24,318.6 585.36,316.5 586.48,314.7 587.60,311.4 588.72,308.9 589.84,307.8 590.96,307.2 592.08,309.5 593.20,312.5 594.32,314.3 595.44,311.3 596.56,306.3 597.68,302.1 598.80,297.4 599.92,292.4 601.04,288.6 602.16,285.4 603.28,281.6 604.40,280.3 605.52,282.2 606.64,283.9 607.76,285.8 608.88,288.7 610.00,292.5 611.12,296.9 612.24,301.2 613.36,303.1 614.48,300.5 615.60,299.1 616.72,298.6 617.84,302.0 618.96,303.8 620.08,306.5 621.20,319.0 622.32,324.3 623.44,327.1 624.56,328.4 625.68,328.6 626.80,327.7 627.92,326.0 629.04,323.5 630.16,320.8 631.28,317.8 632.40,314.9 633.52,312.6 634.64,310.2 635.76,308.1 636.88,307.6 638.00,307.5 639.12,301.4 640.24,296.0 641.36,291.5 642.48,285.6 643.60,279.4 644.72,274.1 645.84,268.9 646.96,263.6 648.08,261.0 649.20,264.4 650.32,265.1 651.44,260.4 652.56,258.5 653.68,255.6 654.80,250.6 655.92,246.3 657.04,241.5 658.16,239.2 659.28,238.0 660.40,236.4 661.52,234.8 662.64,234.3 663.76,242.0 664.88,255.4 666.00,255.3 667.12,266.4 668.24,270.2 669.36,271.4 670.48,272.9 671.60,276.1 672.72,280.6 673.84,281.6 674.96,281.3 676.08,281.0 677.20,283.9 678.32,287.6 679.44,290.9 680.56,292.5 681.68,293.9 682.80,294.6 682.80,335.4 681.68,335.0 680.56,334.3 679.44,332.6 678.32,328.1 677.20,322.2 676.08,323.8 674.96,328.3 673.84,326.5 672.72,322.2 671.60,319.2 670.48,317.5 669.36,316.5 668.24,316.0 667.12,315.7 666.00,309.5 664.88,299.0 663.76,290.8 662.64,285.9 661.52,287.8 660.40,290.1 659.28,293.2 658.16,296.8 657.04,300.0 655.92,302.5 654.80,304.4 653.68,306.4 652.56,309.6 651.44,314.4 650.32,316.0 649.20,311.8 648.08,307.4 646.96,308.9 645.84,312.9 644.72,315.2 643.60,315.9 642.48,318.3 641.36,321.6 640.24,324.4 639.12,337.6 638.00,346.3 636.88,352.0 635.76,354.3 634.64,354.5 633.52,355.6 632.40,358.2 631.28,360.3 630.16,362.1 629.04,364.6 627.92,367.0 626.80,369.0 625.68,370.1 624.56,369.8 623.44,367.7 622.32,364.0 621.20,359.6 620.08,352.1 618.96,352.7 617.84,353.6 616.72,349.0 615.60,349.1 614.48,351.1 613.36,351.5 612.24,348.8 611.12,345.7 610.00,340.8 608.88,338.4 607.76,333.8 606.64,328.5 605.52,330.2 604.40,330.7 603.28,327.1 602.16,328.3 601.04,330.2 599.92,337.0 598.80,344.6 597.68,350.1 596.56,354.7 595.44,360.2 594.32,364.7 593.20,364.4 592.08,359.2 590.96,353.7 589.84,355.8 588.72,358.7 587.60,361.9 586.48,365.1 585.36,366.7 584.24,367.9 583.12,370.6 582.00,372.8 580.88,374.0 579.76,375.4 578.64,377.3 577.52,380.1 576.40,386.7 575.28,396.6 574.16,398.4 573.04,403.2 571.92,414.4 570.80,426.2 569.68,437.6 568.56,445.8 567.44,449.9 566.32,450.9 565.20,447.0 564.08,440.7 562.96,436.7 561.84,434.8 560.72,436.8 559.60,439.5 558.48,442.5 557.36,444.7 556.24,446.7 555.12,449.3 554.00,451.4 552.88,452.1 551.76,453.0 550.64,454.2 549.52,456.0 548.40,457.8 547.28,459.3 546.16,460.4 545.04,460.9 543.92,462.6 542.80,466.7 541.68,470.3 540.56,473.1 539.44,476.8 538.32,478.9 537.20,480.5 536.08,482.5 534.96,484.8 533.84,486.2 532.72,487.8 531.60,489.2 530.48,490.1 529.36,491.6 528.24,493.4 527.12,495.2 526.00,497.3 524.88,499.4 523.76,499.4 522.64,496.4 521.52,494.2 520.40,492.4 519.28,490.4 518.16,490.1 517.04,490.6 515.92,490.1 514.80,489.2 513.68,489.4 512.56,490.6 511.44,491.6 510.32,491.8 509.20,492.2 508.08,492.5 506.96,492.7 505.84,492.6 504.72,492.1 503.60,492.8 502.48,493.7 501.36,493.9 500.24,493.7 499.12,493.6 498.00,494.0 496.88,494.9 495.76,495.2 494.64,495.3 493.52,496.3 492.40,499.2 491.28,500.6 490.16,499.5 489.04,498.0 487.92,497.4 486.80,497.2 485.68,496.3 484.56,495.0 483.44,492.1 482.32,487.6 481.20,483.2 480.08,477.8 478.96,472.6 477.84,468.6 476.72,466.7 475.60,466.5 474.48,466.4 473.36,466.7 472.24,466.8 471.12,467.2 470.00,468.0 468.88,467.0 467.76,465.6 466.64,465.2 465.52,463.8 464.40,461.1 463.28,459.9 462.16,460.0 461.04,459.4 459.92,458.1 458.80,458.1 457.68,458.3 456.56,457.9 455.44,457.9 454.32,457.0 453.20,455.3 452.08,455.4 450.96,456.3 449.84,456.5 448.72,456.5 447.60,456.7 446.48,455.8 445.36,454.2 444.24,454.9 443.12,456.3 442.00,457.0 440.88,458.1 439.76,459.9 438.64,461.2 437.52,463.2 436.40,465.5 435.28,467.6 434.16,468.6 433.04,467.5 431.92,466.5 430.80,464.8 429.68,463.1 428.56,461.3 427.44,460.0 426.32,460.1 425.20,459.5 424.08,457.2 422.96,455.9 421.84,455.6 420.72,455.5 419.60,455.1 418.48,454.1 417.36,452.6 416.24,451.1 415.12,448.9 414.00,446.4 412.88,446.8 411.76,448.2 410.64,449.4 409.52,449.4 408.40,449.0 407.28,449.5 406.16,450.9 405.04,451.8 403.92,451.8 402.80,449.9 401.68,447.0 400.56,443.8 399.44,441.7 398.32,439.5 397.20,435.5 396.08,431.4 394.96,428.9 393.84,426.8 392.72,423.5 391.60,417.8 390.48,411.7 389.36,405.7 388.24,399.6 387.12,400.4 386.00,402.8 384.88,402.7 383.76,401.3 382.64,400.8 381.52,401.9 380.40,403.0 379.28,402.5 378.16,402.3 377.04,402.4 375.92,401.7 374.80,400.5 373.68,397.5 372.56,393.6 371.44,389.0 370.32,385.8 369.20,384.8 368.08,383.6 366.96,383.2 365.84,384.6 364.72,386.7 363.60,387.9 362.48,387.6 361.36,387.4 360.24,388.4 359.12,389.1 358.00,387.8 356.88,385.6 355.76,384.4 354.64,383.5 353.52,382.2 352.40,382.7 351.28,384.3 350.16,385.2 349.04,385.1 347.92,384.9 346.80,383.3 345.68,380.8 344.56,383.1 343.44,386.6 342.32,380.8 341.20,374.7 340.08,377.6 338.96,382.7 337.84,387.0 336.72,388.7 335.60,390.1 334.48,392.4 333.36,397.2 332.24,402.8 331.12,408.8 330.00,400.4 328.88,403.2 327.76,404.0 326.64,404.1 325.52,408.6 324.40,412.4 323.28,415.9 322.16,419.6 321.04,423.1 319.92,426.2 318.80,428.2 317.68,428.8 316.56,429.9 315.44,431.2 314.32,432.1 313.20,433.6 312.08,436.0 310.96,437.8 309.84,440.5 308.72,444.1 307.60,448.1 306.48,452.9 305.36,458.0 304.24,460.6 303.12,462.7 302.00,464.9 300.88,465.7 299.76,465.8 298.64,465.6 297.52,466.0 296.40,466.6 295.28,466.5 294.16,467.7 293.04,469.3 291.92,469.9 290.80,470.8 289.68,471.5 288.56,472.0 287.44,474.3 286.32,476.5 285.20,477.2 284.08,477.5 282.96,477.8 281.84,478.9 280.72,481.3 279.60,483.3 278.48,484.5 277.36,486.2 276.24,488.2 275.12,489.1 274.00,490.0 272.88,491.3 271.76,491.7 270.64,492.7 269.52,493.3 268.40,490.9 267.28,488.2 266.16,487.1 265.04,486.3 263.92,483.2 262.80,482.4 261.68,484.1 260.56,485.8 259.44,486.7 258.32,487.1 257.20,487.3 256.08,488.0 254.96,488.7 253.84,488.7 252.72,489.4 251.60,490.8 250.48,492.3 249.36,493.0 248.24,492.5 247.12,492.4 246.00,492.2 244.88,492.0 243.76,491.8 242.64,491.6 241.52,492.1 240.40,492.9 239.28,493.7 238.16,494.8 237.04,495.0 235.92,495.1 234.80,495.2 233.68,494.7 232.56,494.4 231.44,494.7 230.32,495.9 229.20,496.8 228.08,497.0 226.96,497.6 225.84,497.5 224.72,496.9 223.60,497.9 222.48,499.2 221.36,499.7 220.24,500.4 219.12,500.5 218.00,498.6 216.88,497.7 215.76,497.2 214.64,495.3 213.52,493.2 212.40,491.4 211.28,489.8 210.16,490.3 209.04,492.0 207.92,493.4 206.80,493.7 205.68,492.9 204.56,493.0 203.44,493.8 202.32,494.2 201.20,494.1 200.08,494.7 198.96,495.7 197.84,495.9 196.72,495.9 195.60,497.3 194.48,498.5 193.36,497.7 192.24,497.1 191.12,497.9 190.00,499.2 188.88,499.5 187.76,499.1 186.64,499.6 185.52,500.5 184.40,500.6 183.28,499.7 182.16,499.0 181.04,498.8 179.92,499.6 178.80,499.5 177.68,499.2 176.56,497.4 175.44,494.8 174.32,495.0 173.20,496.3 172.08,497.3 170.96,499.6 169.84,503.3 168.72,505.7 167.60,504.5 166.48,503.2 165.36,503.3 164.24,502.8 163.12,501.0 162.00,499.6 160.88,499.2 159.76,499.4 158.64,501.7 157.52,503.5 156.40,503.9 155.28,502.4 154.16,500.0 153.04,497.6 151.92,496.6 150.80,496.7 149.68,498.2 148.56,499.1 147.44,499.9 146.32,500.2 145.20,501.1 144.08,502.8 142.96,504.1 141.84,505.1 140.72,505.9 139.60,507.1 138.48,507.5 137.36,506.0 136.24,503.8 135.12,503.0 134.00,502.9 132.88,503.3 131.76,504.2 130.64,506.2 129.52,507.6 128.40,508.2 127.28,508.3 126.16,509.1 125.04,510.9 123.92,511.8 122.80,512.1 121.68,512.0 120.56,512.0 119.44,513.2 118.32,514.8 117.20,515.1 116.08,514.7 114.96,515.3 113.84,516.4 112.72,516.9 111.60,517.5 110.48,518.3 109.36,518.5 108.24,517.7 107.12,516.9 106.00,515.9 104.88,515.3 103.76,516.1 102.64,516.4 101.52,516.0 100.40,516.3 99.28,516.7 98.16,515.3 97.04,514.0 95.92,514.6 94.80,515.6 93.68,515.6 92.56,515.7 91.44,516.9 90.32,517.7 89.20,517.6 88.08,517.0 86.96,517.3 85.84,517.8 84.72,517.9 83.60,518.2 82.48,518.8 81.36,518.6 80.24,517.5 79.12,516.2 78.00,516.0 76.88,516.2 75.76,513.7 74.64,509.7 73.52,505.8 72.40,501.9 71.28,499.5 70.16,500.3 69.04,502.3 67.92,505.4 66.80,507.7 65.68,508.4 64.56,509.5 63.44,511.4 62.32,512.3 61.20,512.8 60.08,513.6 58.96,514.1 57.84,514.1 56.72,515.0 55.60,515.6 54.48,515.0 53.36,515.8 52.24,517.1 51.12,517.5 50.00,517.1" fill="#2f8bcf" fill-opacity="0.7"/><polygon points="50.00,511.3 51.12,510.9 52.24,510.9 53.36,510.3 54.48,510.1 55.60,511.0 56.72,510.3 57.84,508.9 58.96,509.2 60.08,509.3 61.20,508.6 62.32,507.7 63.44,507.0 64.56,506.2 65.68,505.1 66.80,503.3 67.92,501.2 69.04,498.4 70.16,495.4 71.28,493.6 72.40,495.4 73.52,497.6 74.64,499.1 75.76,501.6 76.88,503.0 78.00,501.2 79.12,499.8 80.24,500.8 81.36,501.8 82.48,501.7 83.60,501.2 84.72,501.1 85.84,502.3 86.96,503.5 88.08,504.4 89.20,504.9 90.32,505.9 91.44,507.0 92.56,506.6 93.68,505.1 94.80,504.3 95.92,503.4 97.04,500.9 98.16,500.4 99.28,501.0 100.40,500.5 101.52,501.4 102.64,501.7 103.76,500.1 104.88,499.5 106.00,501.1 107.12,502.3 108.24,502.8 109.36,503.0 110.48,502.6 111.60,501.9 112.72,500.7 113.84,500.4 114.96,500.4 116.08,499.8 117.20,499.6 118.32,498.4 119.44,496.6 120.56,496.3 121.68,496.1 122.80,494.6 123.92,493.7 125.04,494.0 126.16,493.4 127.28,492.3 128.40,492.0 129.52,491.9 130.64,490.7 131.76,489.4 132.88,489.2 134.00,489.4 135.12,490.4 136.24,491.5 137.36,493.3 138.48,494.1 139.60,492.7 140.72,492.9 141.84,494.4 142.96,494.9 144.08,493.9 145.20,491.2 146.32,489.9 147.44,488.9 148.56,485.7 149.68,483.2 150.80,482.4 151.92,480.9 153.04,481.1 154.16,482.1 155.28,484.1 156.40,487.5 157.52,489.0 158.64,487.2 159.76,486.1 160.88,486.9 162.00,487.5 163.12,488.5 164.24,490.6 165.36,490.8 166.48,490.8 167.60,492.5 168.72,493.6 169.84,491.9 170.96,489.7 172.08,487.3 173.20,485.0 174.32,483.5 175.44,483.6 176.56,484.1 177.68,484.1 178.80,484.6 179.92,485.5 181.04,486.0 182.16,487.1 183.28,489.0 184.40,489.4 185.52,489.7 186.64,489.1 187.76,487.2 188.88,486.9 190.00,486.0 191.12,483.2 192.24,482.6 193.36,483.9 194.48,484.5 195.60,484.4 196.72,483.9 197.84,482.5 198.96,481.7 200.08,481.6 201.20,481.2 202.32,480.3 203.44,479.4 204.56,479.3 205.68,478.9 206.80,478.0 207.92,476.7 209.04,475.9 210.16,475.2 211.28,475.0 212.40,476.6 213.52,478.5 214.64,477.5 215.76,477.8 216.88,478.6 218.00,480.5 219.12,483.6 220.24,483.3 221.36,481.7 222.48,480.2 223.60,478.8 224.72,477.5 225.84,477.0 226.96,476.7 228.08,476.2 229.20,477.0 230.32,478.4 231.44,479.4 232.56,480.5 233.68,481.8 234.80,482.5 235.92,482.7 237.04,483.2 238.16,482.9 239.28,480.9 240.40,477.6 241.52,474.5 242.64,474.0 243.76,476.0 244.88,478.3 246.00,479.9 247.12,480.3 248.24,478.5 249.36,477.4 250.48,476.3 251.60,474.3 252.72,472.2 253.84,471.1 254.96,469.9 256.08,468.0 257.20,467.1 258.32,466.5 259.44,466.0 260.56,466.4 261.68,465.6 262.80,463.6 263.92,463.9 265.04,466.9 266.16,468.2 267.28,469.2 268.40,470.3 269.52,469.0 270.64,466.6 271.76,464.9 272.88,462.8 274.00,460.7 275.12,459.6 276.24,458.8 277.36,457.1 278.48,455.2 279.60,454.0 280.72,452.4 281.84,450.5 282.96,449.5 284.08,449.7 285.20,450.4 286.32,451.1 287.44,450.9 288.56,449.5 289.68,447.4 290.80,444.3 291.92,441.8 293.04,440.7 294.16,438.2 295.28,436.1 296.40,435.4 297.52,434.5 298.64,433.0 299.76,431.3 300.88,429.8 302.00,429.0 303.12,427.6 304.24,427.0 305.36,425.9 306.48,422.4 307.60,419.1 308.72,416.6 309.84,412.1 310.96,406.5 312.08,401.5 313.20,399.1 314.32,399.1 315.44,398.5 316.56,396.1 317.68,394.0 318.80,392.2 319.92,390.5 321.04,389.7 322.16,387.8 323.28,382.9 324.40,374.1 325.52,370.1 326.64,370.6 327.76,370.7 328.88,370.2 330.00,368.8 331.12,367.7 332.24,366.4 333.36,364.1 334.48,361.4 335.60,357.9 336.72,354.5 337.84,351.7 338.96,348.0 340.08,343.4 341.20,341.1 342.32,344.3 343.44,347.4 344.56,350.2 345.68,354.4 346.80,355.4 347.92,352.4 349.04,349.2 350.16,347.0 351.28,344.9 352.40,342.5 353.52,342.0 354.64,343.9 355.76,346.2 356.88,349.0 358.00,352.5 359.12,355.6 360.24,356.2 361.36,354.4 362.48,352.7 363.60,350.8 364.72,349.6 365.84,349.0 366.96,351.6 368.08,353.6 369.20,356.4 370.32,359.8 371.44,363.4 372.56,366.6 373.68,367.1 374.80,366.3 375.92,366.4 377.04,367.1 378.16,368.3 379.28,370.1 380.40,371.0 381.52,369.4 382.64,367.8 383.76,368.5 384.88,369.7 386.00,369.9 387.12,369.8 388.24,371.6 389.36,375.1 390.48,382.1 391.60,391.0 392.72,398.7 393.84,404.4 394.96,406.7 396.08,408.9 397.20,412.7 398.32,415.3 399.44,415.7 400.56,417.1 401.68,419.3 402.80,420.8 403.92,421.6 405.04,421.5 406.16,421.5 407.28,420.9 408.40,419.1 409.52,417.9 410.64,417.8 411.76,418.6 412.88,419.2 414.00,419.4 415.12,421.4 416.24,423.3 417.36,425.4 418.48,426.8 419.60,427.1 420.72,427.5 421.84,429.5 422.96,431.0 424.08,431.0 425.20,432.5 426.32,434.4 427.44,434.3 428.56,434.9 429.68,437.0 430.80,438.9 431.92,441.7 433.04,444.4 434.16,443.1 435.28,440.3 436.40,438.4 437.52,437.0 438.64,436.2 439.76,435.6 440.88,434.2 442.00,433.3 443.12,433.9 444.24,433.8 445.36,433.5 446.48,433.9 447.60,434.6 448.72,434.8 449.84,434.8 450.96,434.6 452.08,433.5 453.20,433.0 454.32,433.4 455.44,434.2 456.56,435.1 457.68,435.6 458.80,435.2 459.92,434.9 461.04,435.7 462.16,437.2 463.28,439.0 464.40,441.5 465.52,444.5 466.64,448.0 467.76,451.0 468.88,453.7 470.00,452.1 471.12,452.3 472.24,452.4 473.36,452.3 474.48,452.9 475.60,452.4 476.72,451.1 477.84,451.7 478.96,454.7 480.08,457.6 481.20,459.9 482.32,463.8 483.44,470.2 484.56,475.9 485.68,477.7 486.80,478.5 487.92,479.2 489.04,481.2 490.16,482.6 491.28,476.6 492.40,473.9 493.52,472.6 494.64,472.4 495.76,472.1 496.88,470.9 498.00,470.8 499.12,471.0 500.24,469.5 501.36,467.9 502.48,470.8 503.60,474.6 504.72,474.7 505.84,475.6 506.96,476.4 508.08,477.3 509.20,478.1 510.32,477.5 511.44,477.7 512.56,477.3 513.68,475.7 514.80,474.9 515.92,475.4 517.04,475.9 518.16,476.5 519.28,477.9 520.40,479.1 521.52,480.4 522.64,482.1 523.76,484.4 524.88,484.5 526.00,482.0 527.12,479.3 528.24,477.6 529.36,474.4 530.48,470.9 531.60,468.8 532.72,466.8 533.84,465.9 534.96,464.6 536.08,459.9 537.20,455.5 538.32,452.3 539.44,450.9 540.56,448.1 541.68,441.1 542.80,433.4 543.92,425.8 545.04,422.2 546.16,421.6 547.28,420.9 548.40,418.7 549.52,415.9 550.64,414.0 551.76,412.7 552.88,412.2 554.00,411.6 555.12,409.5 556.24,407.1 557.36,405.1 558.48,402.4 559.60,399.8 560.72,391.8 561.84,390.1 562.96,392.0 564.08,395.1 565.20,396.9 566.32,394.4 567.44,391.7 568.56,387.6 569.68,380.2 570.80,379.2 571.92,373.3 573.04,365.5 574.16,355.0 575.28,343.2 576.40,332.0 577.52,327.6 578.64,324.8 579.76,321.2 580.88,317.7 582.00,314.5 583.12,311.4 584.24,308.8 585.36,307.2 586.48,304.8 587.60,301.4 588.72,299.4 589.84,298.8 590.96,299.8 592.08,303.4 593.20,305.6 594.32,305.4 595.44,300.7 596.56,294.2 597.68,289.2 598.80,283.9 599.92,278.7 601.04,274.5 602.16,271.4 603.28,268.4 604.40,267.6 605.52,269.8 606.64,272.0 607.76,274.9 608.88,277.8 610.00,279.9 611.12,282.1 612.24,285.1 613.36,287.4 614.48,287.5 615.60,287.2 616.72,286.5 617.84,289.7 618.96,292.3 620.08,295.2 621.20,305.7 622.32,311.3 623.44,315.5 624.56,317.6 625.68,315.8 626.80,314.9 627.92,314.2 629.04,310.7 630.16,307.6 631.28,305.7 632.40,304.6 633.52,301.4 634.64,298.3 635.76,295.6 636.88,295.7 638.00,295.1 639.12,287.4 640.24,279.8 641.36,273.7 642.48,268.6 643.60,263.7 644.72,258.9 645.84,253.2 646.96,245.9 648.08,241.4 649.20,243.0 650.32,243.7 651.44,241.6 652.56,238.6 653.68,236.6 654.80,235.1 655.92,232.8 657.04,231.0 658.16,230.4 659.28,230.2 660.40,229.0 661.52,226.4 662.64,224.3 663.76,226.4 664.88,234.2 666.00,245.2 667.12,248.9 668.24,251.8 669.36,254.9 670.48,258.6 671.60,259.3 672.72,258.8 673.84,265.4 674.96,268.4 676.08,269.0 677.20,263.2 678.32,268.2 679.44,276.2 680.56,278.9 681.68,271.4 682.80,279.1 682.80,294.6 681.68,293.9 680.56,292.5 679.44,290.9 678.32,287.6 677.20,283.9 676.08,281.0 674.96,281.3 673.84,281.6 672.72,280.6 671.60,276.1 670.48,272.9 669.36,271.4 668.24,270.2 667.12,266.4 666.00,255.3 664.88,255.4 663.76,242.0 662.64,234.3 661.52,234.8 660.40,236.4 659.28,238.0 658.16,239.2 657.04,241.5 655.92,246.3 654.80,250.6 653.68,255.6 652.56,258.5 651.44,260.4 650.32,265.1 649.20,264.4 648.08,261.0 646.96,263.6 645.84,268.9 644.72,274.1 643.60,279.4 642.48,285.6 641.36,291.5 640.24,296.0 639.12,301.4 638.00,307.5 636.88,307.6 635.76,308.1 634.64,310.2 633.52,312.6 632.40,314.9 631.28,317.8 630.16,320.8 629.04,323.5 627.92,326.0 626.80,327.7 625.68,328.6 624.56,328.4 623.44,327.1 622.32,324.3 621.20,319.0 620.08,306.5 618.96,303.8 617.84,302.0 616.72,298.6 615.60,299.1 614.48,300.5 613.36,303.1 612.24,301.2 611.12,296.9 610.00,292.5 608.88,288.7 607.76,285.8 606.64,283.9 605.52,282.2 604.40,280.3 603.28,281.6 602.16,285.4 601.04,288.6 599.92,292.4 598.80,297.4 597.68,302.1 596.56,306.3 595.44,311.3 594.32,314.3 593.20,312.5 592.08,309.5 590.96,307.2 589.84,307.8 588.72,308.9 587.60,311.4 586.48,314.7 585.36,316.5 584.24,318.6 583.12,322.1 582.00,324.5 580.88,326.8 579.76,330.7 578.64,334.4 577.52,338.9 576.40,347.6 575.28,365.1 574.16,382.1 573.04,392.9 571.92,395.8 570.80,398.0 569.68,400.3 568.56,403.7 567.44,407.4 566.32,411.3 565.20,414.1 564.08,412.2 562.96,409.4 561.84,408.6 560.72,411.2 559.60,413.0 558.48,415.1 557.36,416.7 556.24,417.3 555.12,418.2 554.00,419.2 552.88,419.6 551.76,420.8 550.64,423.1 549.52,425.3 548.40,427.6 547.28,430.1 546.16,431.6 545.04,432.2 543.92,435.1 542.80,442.7 541.68,449.8 540.56,455.3 539.44,460.0 538.32,462.9 537.20,465.6 536.08,469.0 534.96,471.8 533.84,472.8 532.72,474.2 531.60,476.9 530.48,479.3 529.36,481.3 528.24,483.2 527.12,484.7 526.00,487.1 524.88,490.2 523.76,490.2 522.64,487.4 521.52,485.1 520.40,483.0 519.28,482.2 518.16,481.2 517.04,480.7 515.92,481.1 514.80,481.2 513.68,481.9 512.56,482.6 511.44,483.2 510.32,483.7 509.20,484.6 508.08,484.4 506.96,483.1 505.84,481.9 504.72,481.4 503.60,480.9 502.48,474.7 501.36,469.6 500.24,470.9 499.12,473.4 498.00,473.5 496.88,472.5 495.76,473.4 494.64,474.6 493.52,475.6 492.40,477.6 491.28,479.7 490.16,489.1 489.04,489.5 487.92,487.9 486.80,487.6 485.68,487.2 484.56,486.1 483.44,475.8 482.32,465.7 481.20,461.9 480.08,458.8 478.96,456.3 477.84,454.9 476.72,454.3 475.60,454.6 474.48,455.4 473.36,454.9 472.24,454.7 471.12,456.0 470.00,456.2 468.88,462.8 467.76,459.5 466.64,456.4 465.52,452.9 464.40,449.3 463.28,446.2 462.16,444.0 461.04,442.2 459.92,441.8 458.80,442.1 457.68,441.8 456.56,441.3 455.44,441.4 454.32,441.3 453.20,440.9 452.08,441.1 450.96,441.6 449.84,442.3 448.72,442.8 447.60,442.3 446.48,441.4 445.36,440.6 444.24,440.5 443.12,441.1 442.00,442.1 440.88,443.0 439.76,443.4 438.64,443.9 437.52,444.4 436.40,445.1 435.28,447.2 434.16,449.4 433.04,450.0 431.92,448.1 430.80,444.9 429.68,443.1 428.56,442.8 427.44,442.6 426.32,442.8 425.20,441.6 424.08,439.8 422.96,438.5 421.84,437.1 420.72,435.6 419.60,434.9 418.48,434.9 417.36,434.2 416.24,432.2 415.12,430.4 414.00,429.6 412.88,428.7 411.76,426.6 410.64,426.8 409.52,427.3 408.40,426.5 407.28,426.9 406.16,427.8 405.04,428.9 403.92,429.6 402.80,428.3 401.68,426.1 400.56,424.4 399.44,423.8 398.32,423.9 397.20,422.3 396.08,420.2 394.96,417.1 393.84,413.8 392.72,409.2 391.60,401.6 390.48,393.0 389.36,383.6 388.24,377.1 387.12,376.4 386.00,376.6 384.88,376.1 383.76,375.2 382.64,374.9 381.52,375.0 380.40,375.9 379.28,376.6 378.16,375.6 377.04,374.1 375.92,373.0 374.80,372.8 373.68,372.9 372.56,373.3 371.44,373.5 370.32,372.4 369.20,371.4 368.08,356.8 366.96,353.0 365.84,350.4 364.72,351.8 363.60,353.3 362.48,355.2 361.36,356.6 360.24,358.8 359.12,358.9 358.00,355.2 356.88,351.1 355.76,348.9 354.64,346.7 353.52,344.0 352.40,344.6 351.28,347.4 350.16,349.7 349.04,352.6 347.92,355.9 346.80,357.8 345.68,356.3 344.56,353.1 343.44,350.7 342.32,347.0 341.20,343.3 340.08,344.9 338.96,349.4 337.84,353.9 336.72,357.3 335.60,360.7 334.48,364.2 333.36,367.2 332.24,368.9 331.12,370.1 330.00,371.9 328.88,373.1 327.76,373.7 326.64,373.5 325.52,372.2 324.40,376.2 323.28,385.4 322.16,389.7 321.04,391.1 319.92,392.6 318.80,395.1 317.68,397.1 316.56,398.8 315.44,401.1 314.32,401.9 313.20,401.7 312.08,404.0 310.96,409.1 309.84,413.7 308.72,417.4 307.60,420.5 306.48,424.4 305.36,428.1 304.24,429.3 303.12,430.1 302.00,431.2 300.88,430.9 299.76,432.4 298.64,434.9 297.52,436.7 296.40,437.4 295.28,437.5 294.16,438.7 293.04,440.7 291.92,442.6 290.80,445.2 289.68,447.5 288.56,450.0 287.44,452.6 286.32,453.1 285.20,452.6 284.08,452.4 282.96,452.7 281.84,453.8 280.72,455.1 279.60,456.1 278.48,457.4 277.36,459.1 276.24,460.4 275.12,461.9 274.00,463.7 272.88,466.2 271.76,468.4 270.64,469.2 269.52,470.8 268.40,471.8 267.28,471.1 266.16,470.9 265.04,469.4 263.92,466.4 262.80,466.1 261.68,467.9 260.56,469.4 259.44,469.8 258.32,469.2 257.20,469.2 256.08,471.1 254.96,473.0 253.84,473.9 252.72,474.9 251.60,476.1 250.48,478.2 249.36,480.2 248.24,481.4 247.12,482.3 246.00,481.0 244.88,479.3 243.76,478.2 242.64,477.9 241.52,478.5 240.40,480.0 239.28,482.4 238.16,484.8 237.04,485.1 235.92,484.5 234.80,484.6 233.68,484.2 232.56,483.0 231.44,481.8 230.32,480.8 229.20,479.7 228.08,478.4 226.96,478.2 225.84,478.5 224.72,479.6 223.60,481.6 222.48,483.1 221.36,484.1 220.24,485.6 219.12,486.1 218.00,483.4 216.88,480.8 215.76,478.9 214.64,479.1 213.52,481.2 212.40,479.9 211.28,478.4 210.16,478.1 209.04,479.2 207.92,480.4 206.80,481.1 205.68,481.9 204.56,482.0 203.44,482.1 202.32,482.9 201.20,484.1 200.08,484.6 198.96,484.7 197.84,485.8 196.72,486.9 195.60,487.2 194.48,487.3 193.36,486.4 192.24,485.1 191.12,485.8 190.00,488.1 188.88,488.6 187.76,489.6 186.64,492.1 185.52,492.4 184.40,490.9 183.28,489.7 182.16,488.1 181.04,486.8 179.92,486.8 178.80,487.6 177.68,487.3 176.56,486.6 175.44,486.3 174.32,486.1 173.20,486.9 172.08,488.9 170.96,491.7 169.84,494.4 168.72,496.0 167.60,494.3 166.48,493.1 165.36,493.7 164.24,493.7 163.12,492.5 162.00,491.5 160.88,490.6 159.76,489.9 158.64,490.3 157.52,491.6 156.40,490.6 155.28,487.9 154.16,486.2 153.04,484.5 151.92,483.1 150.80,485.0 149.68,487.1 148.56,488.6 147.44,490.4 146.32,491.9 145.20,493.2 144.08,495.8 142.96,497.2 141.84,496.5 140.72,495.4 139.60,495.5 138.48,495.6 137.36,494.2 136.24,493.0 135.12,492.6 134.00,491.9 132.88,491.5 131.76,491.0 130.64,491.4 129.52,492.6 128.40,493.7 127.28,493.8 126.16,494.1 125.04,495.7 123.92,496.2 122.80,496.5 121.68,497.6 120.56,498.6 119.44,499.7 118.32,500.5 117.20,500.8 116.08,501.8 114.96,503.0 113.84,503.5 112.72,503.7 111.60,504.3 110.48,504.4 109.36,503.8 108.24,503.6 107.12,503.3 106.00,502.6 104.88,501.9 103.76,501.9 102.64,502.1 101.52,501.5 100.40,501.7 99.28,503.1 98.16,502.1 97.04,501.4 95.92,503.4 94.80,505.4 93.68,506.7 92.56,507.6 91.44,507.4 90.32,506.6 89.20,506.3 88.08,505.6 86.96,503.9 85.84,503.1 84.72,503.2 83.60,503.8 82.48,504.6 81.36,504.4 80.24,503.6 79.12,503.0 78.00,503.8 76.88,505.3 75.76,504.7 74.64,503.2 73.52,502.1 72.40,500.4 71.28,498.8 70.16,499.9 69.04,502.2 67.92,504.4 66.80,506.3 65.68,508.3 64.56,509.5 63.44,511.0 62.32,511.4 61.20,512.8 60.08,513.5 58.96,512.8 57.84,512.7 56.72,514.0 55.60,514.6 54.48,513.5 53.36,512.8 52.24,513.1 51.12,513.4 50.00,513.9" fill="#a4285a" fill-opacity="0.7"/><polygon points="50.00,510.1 51.12,510.1 52.24,509.4 53.36,508.3 54.48,507.5 55.60,507.8 56.72,507.2 57.84,505.4 58.96,505.1 60.08,505.4 61.20,504.7 62.32,504.0 63.44,503.9 64.56,503.5 65.68,502.9 66.80,500.2 67.92,496.6 69.04,493.1 70.16,490.4 71.28,488.9 72.40,491.0 73.52,493.8 74.64,495.5 75.76,496.6 76.88,496.3 78.00,494.7 79.12,494.1 80.24,494.5 81.36,494.8 82.48,495.0 83.60,495.5 84.72,495.4 85.84,496.0 86.96,498.0 88.08,499.5 89.20,500.1 90.32,501.3 91.44,502.6 92.56,502.9 93.68,501.5 94.80,500.1 95.92,498.9 97.04,497.3 98.16,497.8 99.28,498.5 100.40,497.6 101.52,496.5 102.64,495.8 103.76,495.5 104.88,495.5 106.00,496.8 107.12,498.3 108.24,498.4 109.36,498.1 110.48,498.1 111.60,497.7 112.72,496.7 113.84,496.1 114.96,496.0 116.08,495.9 117.20,495.6 118.32,494.6 119.44,493.0 120.56,491.9 121.68,491.4 122.80,490.9 123.92,490.8 125.04,490.1 126.16,488.5 127.28,488.3 128.40,489.0 129.52,488.0 130.64,487.0 131.76,487.0 132.88,486.9 134.00,486.3 135.12,487.1 136.24,488.6 137.36,489.9 138.48,490.4 139.60,489.1 140.72,488.2 141.84,489.3 142.96,490.8 144.08,490.2 145.20,487.3 146.32,485.1 147.44,483.7 148.56,481.5 149.68,479.6 150.80,478.6 151.92,477.4 153.04,478.8 154.16,479.6 155.28,480.4 156.40,482.1 157.52,482.2 158.64,481.5 159.76,481.9 160.88,483.2 162.00,484.1 163.12,485.7 164.24,487.9 165.36,488.8 166.48,488.6 167.60,488.9 168.72,489.3 169.84,490.1 170.96,489.2 172.08,486.1 173.20,481.9 174.32,478.9 175.44,479.7 176.56,480.8 177.68,481.2 178.80,481.7 179.92,482.0 181.04,482.5 182.16,483.6 183.28,484.7 184.40,484.8 185.52,485.2 186.64,484.8 187.76,483.3 188.88,482.5 190.00,481.6 191.12,479.0 192.24,478.5 193.36,480.0 194.48,480.8 195.60,481.1 196.72,480.4 197.84,478.6 198.96,477.8 200.08,477.9 201.20,477.2 202.32,476.5 203.44,476.1 204.56,475.6 205.68,474.8 206.80,474.0 207.92,472.6 209.04,470.9 210.16,469.9 211.28,470.0 212.40,471.1 213.52,472.0 214.64,471.2 215.76,472.2 216.88,473.7 218.00,474.9 219.12,477.1 220.24,477.9 221.36,477.3 222.48,475.4 223.60,473.8 224.72,472.0 225.84,470.8 226.96,471.0 228.08,471.5 229.20,472.5 230.32,472.9 231.44,473.0 232.56,474.0 233.68,475.2 234.80,475.7 235.92,475.8 237.04,476.2 238.16,476.5 239.28,475.7 240.40,473.9 241.52,471.4 242.64,470.5 243.76,471.8 244.88,473.5 246.00,474.9 247.12,475.2 248.24,473.3 249.36,472.3 250.48,471.1 251.60,469.3 252.72,467.3 253.84,465.1 254.96,463.3 256.08,461.5 257.20,460.8 258.32,461.2 259.44,461.1 260.56,460.6 261.68,460.5 262.80,459.9 263.92,459.9 265.04,460.7 266.16,461.9 267.28,462.0 268.40,463.6 269.52,465.1 270.64,464.6 271.76,462.8 272.88,460.1 274.00,457.5 275.12,456.1 276.24,455.2 277.36,453.7 278.48,451.7 279.60,450.8 280.72,450.0 281.84,448.6 282.96,447.0 284.08,446.3 285.20,447.0 286.32,448.3 287.44,447.9 288.56,446.1 289.68,444.3 290.80,441.6 291.92,438.8 293.04,437.5 294.16,435.5 295.28,433.8 296.40,433.4 297.52,432.2 298.64,430.1 299.76,428.4 300.88,427.3 302.00,427.2 303.12,426.1 304.24,425.1 305.36,423.6 306.48,420.3 307.60,417.2 308.72,413.3 309.84,408.4 310.96,404.5 312.08,399.7 313.20,396.5 314.32,396.2 315.44,396.1 316.56,394.9 317.68,392.3 318.80,389.5 319.92,388.1 321.04,387.3 322.16,385.7 323.28,380.2 324.40,370.6 325.52,367.0 326.64,367.9 327.76,367.6 328.88,367.0 330.00,366.7 331.12,365.6 332.24,363.5 333.36,361.6 334.48,359.4 335.60,357.0 336.72,353.3 337.84,349.5 338.96,346.0 340.08,341.1 341.20,338.1 342.32,341.4 343.44,344.6 344.56,347.4 345.68,351.8 346.80,352.4 347.92,349.8 349.04,347.0 350.16,343.9 351.28,341.7 352.40,339.9 353.52,339.6 354.64,342.2 355.76,344.7 356.88,346.7 358.00,350.4 359.12,353.4 360.24,353.0 361.36,351.1 362.48,350.0 363.60,349.0 364.72,347.6 365.84,345.6 366.96,344.1 368.08,344.7 369.20,345.4 370.32,347.3 371.44,351.1 372.56,355.1 373.68,357.4 374.80,357.8 375.92,358.4 377.04,359.8 378.16,360.8 379.28,362.0 380.40,362.8 381.52,362.2 382.64,361.8 383.76,363.0 384.88,364.5 386.00,364.3 387.12,363.2 388.24,364.3 389.36,367.2 390.48,374.8 391.60,384.7 392.72,393.3 393.84,400.4 394.96,403.0 396.08,405.6 397.20,408.1 398.32,409.6 399.44,408.9 400.56,409.3 401.68,412.0 402.80,414.0 403.92,414.4 405.04,414.2 406.16,413.6 407.28,412.4 408.40,411.2 409.52,410.5 410.64,410.3 411.76,410.5 412.88,410.0 414.00,409.6 415.12,412.1 416.24,414.5 417.36,416.6 418.48,418.3 419.60,418.5 420.72,418.4 421.84,420.2 422.96,421.6 424.08,421.6 425.20,423.4 426.32,425.5 427.44,425.4 428.56,425.6 429.68,427.1 430.80,429.4 431.92,432.1 433.04,433.6 434.16,432.7 435.28,431.4 436.40,430.0 437.52,428.2 438.64,426.9 439.76,426.2 440.88,425.3 442.00,423.8 443.12,423.5 444.24,423.7 445.36,423.8 446.48,423.8 447.60,424.4 448.72,424.7 449.84,424.8 450.96,424.7 452.08,424.4 453.20,425.2 454.32,426.4 455.44,426.4 456.56,425.8 457.68,425.3 458.80,425.6 459.92,426.9 461.04,428.7 462.16,429.9 463.28,430.0 464.40,433.5 465.52,440.1 466.64,443.0 467.76,445.6 468.88,449.3 470.00,451.4 471.12,450.8 472.24,450.7 473.36,450.9 474.48,450.9 475.60,449.9 476.72,448.2 477.84,448.8 478.96,452.5 480.08,455.7 481.20,458.2 482.32,461.6 483.44,465.6 484.56,468.9 485.68,471.7 486.80,473.2 487.92,473.4 489.04,474.4 490.16,475.7 491.28,475.1 492.40,472.6 493.52,470.3 494.64,470.2 495.76,470.1 496.88,468.5 498.00,468.3 499.12,468.7 500.24,467.3 501.36,465.1 502.48,463.7 503.60,464.9 504.72,466.9 505.84,469.3 506.96,469.9 508.08,469.9 509.20,470.6 510.32,470.9 511.44,469.9 512.56,468.1 513.68,466.2 514.80,465.4 515.92,465.8 517.04,466.0 518.16,466.6 519.28,468.2 520.40,469.6 521.52,470.8 522.64,472.4 523.76,475.1 524.88,476.1 526.00,474.6 527.12,472.9 528.24,471.0 529.36,468.1 530.48,465.1 531.60,462.1 532.72,459.5 533.84,456.4 534.96,451.9 536.08,451.9 537.20,446.9 538.32,442.1 539.44,442.1 540.56,441.7 541.68,433.5 542.80,424.6 543.92,415.8 545.04,411.7 546.16,411.2 547.28,410.2 548.40,408.5 549.52,406.6 550.64,404.9 551.76,403.5 552.88,402.5 554.00,401.6 555.12,400.7 556.24,399.5 557.36,396.2 558.48,390.6 559.60,386.8 560.72,386.0 561.84,386.8 562.96,389.1 564.08,391.8 565.20,393.9 566.32,392.4 567.44,389.0 568.56,384.7 569.68,378.6 570.80,369.9 571.92,358.7 573.04,347.3 574.16,335.3 575.28,326.8 576.40,320.9 577.52,316.8 578.64,313.7 579.76,311.5 580.88,310.2 582.00,308.0 583.12,306.0 584.24,304.8 585.36,303.7 586.48,300.4 587.60,294.1 588.72,288.9 589.84,286.0 590.96,285.7 592.08,290.9 593.20,295.0 594.32,296.8 595.44,293.1 596.56,286.7 597.68,280.2 598.80,273.6 599.92,268.2 601.04,263.9 602.16,261.0 603.28,258.1 604.40,256.8 605.52,258.9 606.64,262.1 607.76,265.5 608.88,268.6 610.00,271.8 611.12,273.8 612.24,275.0 613.36,276.9 614.48,276.5 615.60,275.2 616.72,276.2 617.84,278.2 618.96,281.0 620.08,286.5 621.20,295.2 622.32,300.1 623.44,303.6 624.56,305.2 625.68,305.2 626.80,303.6 627.92,301.6 629.04,299.2 630.16,295.0 631.28,291.8 632.40,290.3 633.52,288.8 634.64,287.8 635.76,285.4 636.88,283.1 638.00,281.6 639.12,275.1 640.24,268.9 641.36,264.9 642.48,260.2 643.60,253.7 644.72,248.2 645.84,241.5 646.96,230.8 648.08,224.1 649.20,226.0 650.32,226.6 651.44,224.5 652.56,220.7 653.68,217.1 654.80,215.6 655.92,213.9 657.04,212.6 658.16,211.5 659.28,209.8 660.40,206.3 661.52,203.4 662.64,203.7 663.76,212.3 664.88,222.0 666.00,228.9 667.12,232.8 668.24,233.6 669.36,234.5 670.48,235.2 671.60,236.3 672.72,238.3 673.84,240.0 674.96,240.2 676.08,239.2 677.20,239.2 678.32,242.3 679.44,246.9 680.56,252.0 681.68,258.0 682.80,260.9 682.80,279.1 681.68,271.4 680.56,278.9 679.44,276.2 678.32,268.2 677.20,263.2 676.08,269.0 674.96,268.4 673.84,265.4 672.72,258.8 671.60,259.3 670.48,258.6 669.36,254.9 668.24,251.8 667.12,248.9 666.00,245.2 664.88,234.2 663.76,226.4 662.64,224.3 661.52,226.4 660.40,229.0 659.28,230.2 658.16,230.4 657.04,231.0 655.92,232.8 654.80,235.1 653.68,236.6 652.56,238.6 651.44,241.6 650.32,243.7 649.20,243.0 648.08,241.4 646.96,245.9 645.84,253.2 644.72,258.9 643.60,263.7 642.48,268.6 641.36,273.7 640.24,279.8 639.12,287.4 638.00,295.1 636.88,295.7 635.76,295.6 634.64,298.3 633.52,301.4 632.40,304.6 631.28,305.7 630.16,307.6 629.04,310.7 627.92,314.2 626.80,314.9 625.68,315.8 624.56,317.6 623.44,315.5 622.32,311.3 621.20,305.7 620.08,295.2 618.96,292.3 617.84,289.7 616.72,286.5 615.60,287.2 614.48,287.5 613.36,287.4 612.24,285.1 611.12,282.1 610.00,279.9 608.88,277.8 607.76,274.9 606.64,272.0 605.52,269.8 604.40,267.6 603.28,268.4 602.16,271.4 601.04,274.5 599.92,278.7 598.80,283.9 597.68,289.2 596.56,294.2 595.44,300.7 594.32,305.4 593.20,305.6 592.08,303.4 590.96,299.8 589.84,298.8 588.72,299.4 587.60,301.4 586.48,304.8 585.36,307.2 584.24,308.8 583.12,311.4 582.00,314.5 580.88,317.7 579.76,321.2 578.64,324.8 577.52,327.6 576.40,332.0 575.28,343.2 574.16,355.0 573.04,365.5 571.92,373.3 570.80,379.2 569.68,380.2 568.56,387.6 567.44,391.7 566.32,394.4 565.20,396.9 564.08,395.1 562.96,392.0 561.84,390.1 560.72,391.8 559.60,399.8 558.48,402.4 557.36,405.1 556.24,407.1 555.12,409.5 554.00,411.6 552.88,412.2 551.76,412.7 550.64,414.0 549.52,415.9 548.40,418.7 547.28,420.9 546.16,421.6 545.04,422.2 543.92,425.8 542.80,433.4 541.68,441.1 540.56,448.1 539.44,450.9 538.32,452.3 537.20,455.5 536.08,459.9 534.96,464.6 533.84,465.9 532.72,466.8 531.60,468.8 530.48,470.9 529.36,474.4 528.24,477.6 527.12,479.3 526.00,482.0 524.88,484.5 523.76,484.4 522.64,482.1 521.52,480.4 520.40,479.1 519.28,477.9 518.16,476.5 517.04,475.9 515.92,475.4 514.80,474.9 513.68,475.7 512.56,477.3 511.44,477.7 510.32,477.5 509.20,478.1 508.08,477.3 506.96,476.4 505.84,475.6 504.72,474.7 503.60,474.6 502.48,470.8 501.36,467.9 500.24,469.5 499.12,471.0 498.00,470.8 496.88,470.9 495.76,472.1 494.64,472.4 493.52,472.6 492.40,473.9 491.28,476.6 490.16,482.6 489.04,481.2 487.92,479.2 486.80,478.5 485.68,477.7 484.56,475.9 483.44,470.2 482.32,463.8 481.20,459.9 480.08,457.6 478.96,454.7 477.84,451.7 476.72,451.1 475.60,452.4 474.48,452.9 473.36,452.3 472.24,452.4 471.12,452.3 470.00,452.1 468.88,453.7 467.76,451.0 466.64,448.0 465.52,444.5 464.40,441.5 463.28,439.0 462.16,437.2 461.04,435.7 459.92,434.9 458.80,435.2 457.68,435.6 456.56,435.1 455.44,434.2 454.32,433.4 453.20,433.0 452.08,433.5 450.96,434.6 449.84,434.8 448.72,434.8 447.60,434.6 446.48,433.9 445.36,433.5 444.24,433.8 443.12,433.9 442.00,433.3 440.88,434.2 439.76,435.6 438.64,436.2 437.52,437.0 436.40,438.4 435.28,440.3 434.16,443.1 433.04,444.4 431.92,441.7 430.80,438.9 429.68,437.0 428.56,434.9 427.44,434.3 426.32,434.4 425.20,432.5 424.08,431.0 422.96,431.0 421.84,429.5 420.72,427.5 419.60,427.1 418.48,426.8 417.36,425.4 416.24,423.3 415.12,421.4 414.00,419.4 412.88,419.2 411.76,418.6 410.64,417.8 409.52,417.9 408.40,419.1 407.28,420.9 406.16,421.5 405.04,421.5 403.92,421.6 402.80,420.8 401.68,419.3 400.56,417.1 399.44,415.7 398.32,415.3 397.20,412.7 396.08,408.9 394.96,406.7 393.84,404.4 392.72,398.7 391.60,391.0 390.48,382.1 389.36,375.1 388.24,371.6 387.12,369.8 386.00,369.9 384.88,369.7 383.76,368.5 382.64,367.8 381.52,369.4 380.40,371.0 379.28,370.1 378.16,368.3 377.04,367.1 375.92,366.4 374.80,366.3 373.68,367.1 372.56,366.6 371.44,363.4 370.32,359.8 369.20,356.4 368.08,353.6 366.96,351.6 365.84,349.0 364.72,349.6 363.60,350.8 362.48,352.7 361.36,354.4 360.24,356.2 359.12,355.6 358.00,352.5 356.88,349.0 355.76,346.2 354.64,343.9 353.52,342.0 352.40,342.5 351.28,344.9 350.16,347.0 349.04,349.2 347.92,352.4 346.80,355.4 345.68,354.4 344.56,350.2 343.44,347.4 342.32,344.3 341.20,341.1 340.08,343.4 338.96,348.0 337.84,351.7 336.72,354.5 335.60,357.9 334.48,361.4 333.36,364.1 332.24,366.4 331.12,367.7 330.00,368.8 328.88,370.2 327.76,370.7 326.64,370.6 325.52,370.1 324.40,374.1 323.28,382.9 322.16,387.8 321.04,389.7 319.92,390.5 318.80,392.2 317.68,394.0 316.56,396.1 315.44,398.5 314.32,399.1 313.20,399.1 312.08,401.5 310.96,406.5 309.84,412.1 308.72,416.6 307.60,419.1 306.48,422.4 305.36,425.9 304.24,427.0 303.12,427.6 302.00,429.0 300.88,429.8 299.76,431.3 298.64,433.0 297.52,434.5 296.40,435.4 295.28,436.1 294.16,438.2 293.04,440.7 291.92,441.8 290.80,444.3 289.68,447.4 288.56,449.5 287.44,450.9 286.32,451.1 285.20,450.4 284.08,449.7 282.96,449.5 281.84,450.5 280.72,452.4 279.60,454.0 278.48,455.2 277.36,457.1 276.24,458.8 275.12,459.6 274.00,460.7 272.88,462.8 271.76,464.9 270.64,466.6 269.52,469.0 268.40,470.3 267.28,469.2 266.16,468.2 265.04,466.9 263.92,463.9 262.80,463.6 261.68,465.6 260.56,466.4 259.44,466.0 258.32,466.5 257.20,467.1 256.08,468.0 254.96,469.9 253.84,471.1 252.72,472.2 251.60,474.3 250.48,476.3 249.36,477.4 248.24,478.5 247.12,480.3 246.00,479.9 244.88,478.3 243.76,476.0 242.64,474.0 241.52,474.5 240.40,477.6 239.28,480.9 238.16,482.9 237.04,483.2 235.92,482.7 234.80,482.5 233.68,481.8 232.56,480.5 231.44,479.4 230.32,478.4 229.20,477.0 228.08,476.2 226.96,476.7 225.84,477.0 224.72,477.5 223.60,478.8 222.48,480.2 221.36,481.7 220.24,483.3 219.12,483.6 218.00,480.5 216.88,478.6 215.76,477.8 214.64,477.5 213.52,478.5 212.40,476.6 211.28,475.0 210.16,475.2 209.04,475.9 207.92,476.7 206.80,478.0 205.68,478.9 204.56,479.3 203.44,479.4 202.32,480.3 201.20,481.2 200.08,481.6 198.96,481.7 197.84,482.5 196.72,483.9 195.60,484.4 194.48,484.5 193.36,483.9 192.24,482.6 191.12,483.2 190.00,486.0 188.88,486.9 187.76,487.2 186.64,489.1 185.52,489.7 184.40,489.4 183.28,489.0 182.16,487.1 181.04,486.0 179.92,485.5 178.80,484.6 177.68,484.1 176.56,484.1 175.44,483.6 174.32,483.5 173.20,485.0 172.08,487.3 170.96,489.7 169.84,491.9 168.72,493.6 167.60,492.5 166.48,490.8 165.36,490.8 164.24,490.6 163.12,488.5 162.00,487.5 160.88,486.9 159.76,486.1 158.64,487.2 157.52,489.0 156.40,487.5 155.28,484.1 154.16,482.1 153.04,481.1 151.92,480.9 150.80,482.4 149.68,483.2 148.56,485.7 147.44,488.9 146.32,489.9 145.20,491.2 144.08,493.9 142.96,494.9 141.84,494.4 140.72,492.9 139.60,492.7 138.48,494.1 137.36,493.3 136.24,491.5 135.12,490.4 134.00,489.4 132.88,489.2 131.76,489.4 130.64,490.7 129.52,491.9 128.40,492.0 127.28,492.3 126.16,493.4 125.04,494.0 123.92,493.7 122.80,494.6 121.68,496.1 120.56,496.3 119.44,496.6 118.32,498.4 117.20,499.6 116.08,499.8 114.96,500.4 113.84,500.4 112.72,500.7 111.60,501.9 110.48,502.6 109.36,503.0 108.24,502.8 107.12,502.3 106.00,501.1 104.88,499.5 103.76,500.1 102.64,501.7 101.52,501.4 100.40,500.5 99.28,501.0 98.16,500.4 97.04,500.9 95.92,503.4 94.80,504.3 93.68,505.1 92.56,506.6 91.44,507.0 90.32,505.9 89.20,504.9 88.08,504.4 86.96,503.5 85.84,502.3 84.72,501.1 83.60,501.2 82.48,501.7 81.36,501.8 80.24,500.8 79.12,499.8 78.00,501.2 76.88,503.0 75.76,501.6 74.64,499.1 73.52,497.6 72.40,495.4 71.28,493.6 70.16,495.4 69.04,498.4 67.92,501.2 66.80,503.3 65.68,505.1 64.56,506.2 63.44,507.0 62.32,507.7 61.20,508.6 60.08,509.3 58.96,509.2 57.84,508.9 56.72,510.3 55.60,511.0 54.48,510.1 53.36,510.3 52.24,510.9 51.12,510.9 50.00,511.3" fill="#f06ea0" fill-opacity="0.7"/><polygon points="50.00,504.9 51.12,504.1 52.24,503.2 53.36,502.6 54.48,502.8 55.60,503.8 56.72,503.4 57.84,501.9 58.96,501.9 60.08,501.8 61.20,499.8 62.32,497.2 63.44,496.4 64.56,496.5 65.68,495.5 66.80,491.9 67.92,487.1 69.04,481.5 70.16,478.3 71.28,477.3 72.40,480.0 73.52,483.0 74.64,485.9 75.76,489.8 76.88,492.0 78.00,490.2 79.12,489.0 80.24,489.9 81.36,489.9 82.48,489.8 83.60,490.6 84.72,490.6 85.84,490.7 86.96,491.6 88.08,492.6 89.20,493.1 90.32,494.8 91.44,496.9 92.56,497.0 93.68,495.7 94.80,494.1 95.92,492.1 97.04,490.5 98.16,491.2 99.28,492.6 100.40,492.4 101.52,491.8 102.64,491.3 103.76,490.2 104.88,490.1 106.00,490.8 107.12,491.5 108.24,492.1 109.36,492.7 110.48,493.2 111.60,492.8 112.72,491.3 113.84,490.8 114.96,490.4 116.08,489.0 117.20,489.0 118.32,488.4 119.44,485.5 120.56,484.8 121.68,484.9 122.80,484.4 123.92,484.6 125.04,483.8 126.16,483.8 127.28,484.7 128.40,484.2 129.52,482.6 130.64,480.9 131.76,479.9 132.88,479.5 134.00,478.6 135.12,479.9 136.24,481.6 137.36,482.6 138.48,483.7 139.60,483.2 140.72,483.0 141.84,484.9 142.96,485.4 144.08,483.2 145.20,479.9 146.32,477.4 147.44,475.4 148.56,473.2 149.68,471.5 150.80,470.4 151.92,469.0 153.04,470.0 154.16,471.0 155.28,472.0 156.40,473.4 157.52,473.6 158.64,473.1 159.76,474.0 160.88,475.5 162.00,477.9 163.12,479.9 164.24,481.3 165.36,481.4 166.48,481.2 167.60,481.7 168.72,482.2 169.84,481.0 170.96,477.9 172.08,475.9 173.20,474.9 174.32,473.1 175.44,472.4 176.56,474.2 177.68,475.3 178.80,476.1 179.92,476.6 181.04,475.4 182.16,477.0 183.28,477.9 184.40,478.1 185.52,479.1 186.64,478.9 187.76,477.0 188.88,475.3 190.00,473.6 191.12,471.2 192.24,471.0 193.36,473.0 194.48,474.4 195.60,475.0 196.72,475.3 197.84,473.8 198.96,472.5 200.08,472.0 201.20,471.5 202.32,471.3 203.44,470.4 204.56,469.1 205.68,469.2 206.80,468.8 207.92,466.8 209.04,463.9 210.16,460.8 211.28,461.0 212.40,464.1 213.52,465.2 214.64,464.6 215.76,466.0 216.88,466.8 218.00,467.0 219.12,468.7 220.24,469.5 221.36,469.8 222.48,468.8 223.60,467.3 224.72,466.0 225.84,464.5 226.96,463.1 228.08,462.8 229.20,463.5 230.32,464.0 231.44,464.8 232.56,466.1 233.68,466.8 234.80,467.0 235.92,468.3 237.04,469.8 238.16,468.1 239.28,465.2 240.40,463.6 241.52,461.6 242.64,460.2 243.76,461.1 244.88,463.0 246.00,464.0 247.12,464.2 248.24,463.6 249.36,463.7 250.48,463.5 251.60,461.8 252.72,459.8 253.84,458.1 254.96,456.5 256.08,454.1 257.20,452.1 258.32,451.9 259.44,452.4 260.56,451.7 261.68,450.7 262.80,449.5 263.92,449.6 265.04,452.9 266.16,454.0 267.28,453.9 268.40,456.4 269.52,457.0 270.64,454.6 271.76,453.3 272.88,452.7 274.00,451.0 275.12,448.6 276.24,447.4 277.36,446.3 278.48,444.8 279.60,443.3 280.72,441.2 281.84,438.6 282.96,436.5 284.08,436.1 285.20,437.2 286.32,439.0 287.44,438.6 288.56,436.4 289.68,434.8 290.80,431.1 291.92,427.5 293.04,426.5 294.16,424.2 295.28,422.4 296.40,421.7 297.52,420.4 298.64,418.3 299.76,416.3 300.88,415.8 302.00,416.3 303.12,414.8 304.24,414.9 305.36,414.0 306.48,409.3 307.60,405.9 308.72,402.5 309.84,395.0 310.96,386.9 312.08,381.8 313.20,382.5 314.32,386.9 315.44,389.7 316.56,387.6 317.68,383.4 318.80,379.2 319.92,376.9 321.04,375.9 322.16,373.3 323.28,367.2 324.40,357.7 325.52,353.0 326.64,351.8 327.76,350.5 328.88,351.2 330.00,353.5 331.12,355.6 332.24,353.1 333.36,349.8 334.48,346.2 335.60,343.1 336.72,340.9 337.84,337.8 338.96,331.4 340.08,323.4 341.20,318.5 342.32,323.0 343.44,326.7 344.56,329.5 345.68,333.4 346.80,335.1 347.92,333.0 349.04,329.3 350.16,327.1 351.28,326.5 352.40,325.0 353.52,323.9 354.64,324.7 355.76,325.6 356.88,329.2 358.00,333.6 359.12,337.1 360.24,337.6 361.36,335.9 362.48,333.7 363.60,331.1 364.72,329.8 365.84,329.4 366.96,328.9 368.08,327.8 369.20,327.5 370.32,330.1 371.44,333.6 372.56,336.0 373.68,338.6 374.80,340.9 375.92,340.5 377.04,339.7 378.16,340.8 379.28,343.8 380.40,346.5 381.52,346.2 382.64,345.3 383.76,345.6 384.88,345.3 386.00,344.5 387.12,345.2 388.24,347.0 389.36,351.5 390.48,359.4 391.60,368.5 392.72,377.9 393.84,384.6 394.96,388.8 396.08,391.7 397.20,395.7 398.32,398.0 399.44,398.2 400.56,399.5 401.68,401.9 402.80,403.3 403.92,403.8 405.04,403.2 406.16,402.4 407.28,401.2 408.40,400.4 409.52,400.6 410.64,399.6 411.76,397.8 412.88,397.1 414.00,397.9 415.12,402.2 416.24,406.1 417.36,408.7 418.48,409.8 419.60,410.1 420.72,409.4 421.84,409.6 422.96,410.5 424.08,411.1 425.20,413.7 426.32,417.1 427.44,417.9 428.56,418.3 429.68,419.8 430.80,421.0 431.92,423.3 433.04,425.6 434.16,424.6 435.28,422.7 436.40,421.4 437.52,420.7 438.64,419.9 439.76,417.8 440.88,414.1 442.00,410.4 443.12,412.5 444.24,415.8 445.36,418.3 446.48,419.1 447.60,419.9 448.72,418.9 449.84,416.7 450.96,414.8 452.08,416.1 453.20,418.4 454.32,420.2 455.44,420.2 456.56,421.1 457.68,420.9 458.80,418.4 459.92,416.1 461.04,415.6 462.16,416.9 463.28,419.2 464.40,424.7 465.52,431.9 466.64,436.3 467.76,438.2 468.88,439.5 470.00,441.3 471.12,440.6 472.24,439.5 473.36,438.8 474.48,438.9 475.60,438.7 476.72,437.5 477.84,437.8 478.96,440.5 480.08,443.0 481.20,445.2 482.32,449.1 483.44,453.7 484.56,456.5 485.68,457.8 486.80,458.8 487.92,458.8 489.04,459.5 490.16,460.9 491.28,460.1 492.40,457.5 493.52,456.6 494.64,457.0 495.76,456.0 496.88,454.7 498.00,454.8 499.12,453.0 500.24,450.1 501.36,449.1 502.48,451.4 503.60,454.4 504.72,456.1 505.84,455.6 506.96,454.6 508.08,454.4 509.20,454.7 510.32,453.7 511.44,452.4 512.56,452.0 513.68,452.0 514.80,452.1 515.92,452.1 517.04,450.4 518.16,448.6 519.28,449.3 520.40,453.1 521.52,455.7 522.64,457.8 523.76,460.8 524.88,461.2 526.00,459.3 527.12,456.6 528.24,453.7 529.36,450.4 530.48,446.4 531.60,443.5 532.72,442.1 533.84,441.4 534.96,436.8 536.08,433.0 537.20,430.0 538.32,427.1 539.44,423.1 540.56,417.5 541.68,411.0 542.80,403.0 543.92,397.6 545.04,394.9 546.16,394.8 547.28,395.4 548.40,394.6 549.52,392.6 550.64,389.9 551.76,388.4 552.88,388.4 554.00,388.5 555.12,386.5 556.24,383.3 557.36,379.1 558.48,373.1 559.60,368.5 560.72,366.9 561.84,367.8 562.96,372.0 564.08,376.1 565.20,377.9 566.32,375.9 567.44,372.4 568.56,366.3 569.68,358.2 570.80,347.5 571.92,333.6 573.04,320.1 574.16,303.1 575.28,300.4 576.40,298.9 577.52,297.8 578.64,295.9 579.76,293.5 580.88,292.2 582.00,290.8 583.12,288.2 584.24,286.1 585.36,284.3 586.48,280.8 587.60,276.6 588.72,273.1 589.84,269.2 590.96,266.4 592.08,271.6 593.20,276.7 594.32,278.0 595.44,274.1 596.56,268.2 597.68,262.2 598.80,254.8 599.92,247.7 601.04,242.0 602.16,239.7 603.28,239.1 604.40,239.3 605.52,240.8 606.64,243.0 607.76,245.5 608.88,248.7 610.00,253.3 611.12,256.6 612.24,257.7 613.36,258.2 614.48,257.0 615.60,255.6 616.72,256.4 617.84,258.6 618.96,260.9 620.08,266.7 621.20,276.2 622.32,282.6 623.44,286.5 624.56,288.6 625.68,289.6 626.80,288.9 627.92,286.9 629.04,284.4 630.16,280.2 631.28,274.9 632.40,274.1 633.52,273.0 634.64,270.2 635.76,268.5 636.88,268.4 638.00,262.8 639.12,253.5 640.24,246.2 641.36,241.0 642.48,235.5 643.60,230.2 644.72,225.5 645.84,219.2 646.96,209.8 648.08,205.1 649.20,205.9 650.32,210.0 651.44,214.9 652.56,212.9 653.68,204.6 654.80,199.9 655.92,197.9 657.04,195.1 658.16,192.4 659.28,191.3 660.40,190.2 661.52,188.1 662.64,186.3 663.76,188.3 664.88,197.9 666.00,213.1 667.12,218.5 668.24,220.3 669.36,221.2 670.48,222.9 671.60,224.8 672.72,226.8 673.84,227.9 674.96,225.7 676.08,223.1 677.20,223.7 678.32,226.5 679.44,233.7 680.56,240.2 681.68,244.6 682.80,247.2 682.80,260.9 681.68,258.0 680.56,252.0 679.44,246.9 678.32,242.3 677.20,239.2 676.08,239.2 674.96,240.2 673.84,240.0 672.72,238.3 671.60,236.3 670.48,235.2 669.36,234.5 668.24,233.6 667.12,232.8 666.00,228.9 664.88,222.0 663.76,212.3 662.64,203.7 661.52,203.4 660.40,206.3 659.28,209.8 658.16,211.5 657.04,212.6 655.92,213.9 654.80,215.6 653.68,217.1 652.56,220.7 651.44,224.5 650.32,226.6 649.20,226.0 648.08,224.1 646.96,230.8 645.84,241.5 644.72,248.2 643.60,253.7 642.48,260.2 641.36,264.9 640.24,268.9 639.12,275.1 638.00,281.6 636.88,283.1 635.76,285.4 634.64,287.8 633.52,288.8 632.40,290.3 631.28,291.8 630.16,295.0 629.04,299.2 627.92,301.6 626.80,303.6 625.68,305.2 624.56,305.2 623.44,303.6 622.32,300.1 621.20,295.2 620.08,286.5 618.96,281.0 617.84,278.2 616.72,276.2 615.60,275.2 614.48,276.5 613.36,276.9 612.24,275.0 611.12,273.8 610.00,271.8 608.88,268.6 607.76,265.5 606.64,262.1 605.52,258.9 604.40,256.8 603.28,258.1 602.16,261.0 601.04,263.9 599.92,268.2 598.80,273.6 597.68,280.2 596.56,286.7 595.44,293.1 594.32,296.8 593.20,295.0 592.08,290.9 590.96,285.7 589.84,286.0 588.72,288.9 587.60,294.1 586.48,300.4 585.36,303.7 584.24,304.8 583.12,306.0 582.00,308.0 580.88,310.2 579.76,311.5 578.64,313.7 577.52,316.8 576.40,320.9 575.28,326.8 574.16,335.3 573.04,347.3 571.92,358.7 570.80,369.9 569.68,378.6 568.56,384.7 567.44,389.0 566.32,392.4 565.20,393.9 564.08,391.8 562.96,389.1 561.84,386.8 560.72,386.0 559.60,386.8 558.48,390.6 557.36,396.2 556.24,399.5 555.12,400.7 554.00,401.6 552.88,402.5 551.76,403.5 550.64,404.9 549.52,406.6 548.40,408.5 547.28,410.2 546.16,411.2 545.04,411.7 543.92,415.8 542.80,424.6 541.68,433.5 540.56,441.7 539.44,442.1 538.32,442.1 537.20,446.9 536.08,451.9 534.96,451.9 533.84,456.4 532.72,459.5 531.60,462.1 530.48,465.1 529.36,468.1 528.24,471.0 527.12,472.9 526.00,474.6 524.88,476.1 523.76,475.1 522.64,472.4 521.52,470.8 520.40,469.6 519.28,468.2 518.16,466.6 517.04,466.0 515.92,465.8 514.80,465.4 513.68,466.2 512.56,468.1 511.44,469.9 510.32,470.9 509.20,470.6 508.08,469.9 506.96,469.9 505.84,469.3 504.72,466.9 503.60,464.9 502.48,463.7 501.36,465.1 500.24,467.3 499.12,468.7 498.00,468.3 496.88,468.5 495.76,470.1 494.64,470.2 493.52,470.3 492.40,472.6 491.28,475.1 490.16,475.7 489.04,474.4 487.92,473.4 486.80,473.2 485.68,471.7 484.56,468.9 483.44,465.6 482.32,461.6 481.20,458.2 480.08,455.7 478.96,452.5 477.84,448.8 476.72,448.2 475.60,449.9 474.48,450.9 473.36,450.9 472.24,450.7 471.12,450.8 470.00,451.4 468.88,449.3 467.76,445.6 466.64,443.0 465.52,440.1 464.40,433.5 463.28,430.0 462.16,429.9 461.04,428.7 459.92,426.9 458.80,425.6 457.68,425.3 456.56,425.8 455.44,426.4 454.32,426.4 453.20,425.2 452.08,424.4 450.96,424.7 449.84,424.8 448.72,424.7 447.60,424.4 446.48,423.8 445.36,423.8 444.24,423.7 443.12,423.5 442.00,423.8 440.88,425.3 439.76,426.2 438.64,426.9 437.52,428.2 436.40,430.0 435.28,431.4 434.16,432.7 433.04,433.6 431.92,432.1 430.80,429.4 429.68,427.1 428.56,425.6 427.44,425.4 426.32,425.5 425.20,423.4 424.08,421.6 422.96,421.6 421.84,420.2 420.72,418.4 419.60,418.5 418.48,418.3 417.36,416.6 416.24,414.5 415.12,412.1 414.00,409.6 412.88,410.0 411.76,410.5 410.64,410.3 409.52,410.5 408.40,411.2 407.28,412.4 406.16,413.6 405.04,414.2 403.92,414.4 402.80,414.0 401.68,412.0 400.56,409.3 399.44,408.9 398.32,409.6 397.20,408.1 396.08,405.6 394.96,403.0 393.84,400.4 392.72,393.3 391.60,384.7 390.48,374.8 389.36,367.2 388.24,364.3 387.12,363.2 386.00,364.3 384.88,364.5 383.76,363.0 382.64,361.8 381.52,362.2 380.40,362.8 379.28,362.0 378.16,360.8 377.04,359.8 375.92,358.4 374.80,357.8 373.68,357.4 372.56,355.1 371.44,351.1 370.32,347.3 369.20,345.4 368.08,344.7 366.96,344.1 365.84,345.6 364.72,347.6 363.60,349.0 362.48,350.0 361.36,351.1 360.24,353.0 359.12,353.4 358.00,350.4 356.88,346.7 355.76,344.7 354.64,342.2 353.52,339.6 352.40,339.9 351.28,341.7 350.16,343.9 349.04,347.0 347.92,349.8 346.80,352.4 345.68,351.8 344.56,347.4 343.44,344.6 342.32,341.4 341.20,338.1 340.08,341.1 338.96,346.0 337.84,349.5 336.72,353.3 335.60,357.0 334.48,359.4 333.36,361.6 332.24,363.5 331.12,365.6 330.00,366.7 328.88,367.0 327.76,367.6 326.64,367.9 325.52,367.0 324.40,370.6 323.28,380.2 322.16,385.7 321.04,387.3 319.92,388.1 318.80,389.5 317.68,392.3 316.56,394.9 315.44,396.1 314.32,396.2 313.20,396.5 312.08,399.7 310.96,404.5 309.84,408.4 308.72,413.3 307.60,417.2 306.48,420.3 305.36,423.6 304.24,425.1 303.12,426.1 302.00,427.2 300.88,427.3 299.76,428.4 298.64,430.1 297.52,432.2 296.40,433.4 295.28,433.8 294.16,435.5 293.04,437.5 291.92,438.8 290.80,441.6 289.68,444.3 288.56,446.1 287.44,447.9 286.32,448.3 285.20,447.0 284.08,446.3 282.96,447.0 281.84,448.6 280.72,450.0 279.60,450.8 278.48,451.7 277.36,453.7 276.24,455.2 275.12,456.1 274.00,457.5 272.88,460.1 271.76,462.8 270.64,464.6 269.52,465.1 268.40,463.6 267.28,462.0 266.16,461.9 265.04,460.7 263.92,459.9 262.80,459.9 261.68,460.5 260.56,460.6 259.44,461.1 258.32,461.2 257.20,460.8 256.08,461.5 254.96,463.3 253.84,465.1 252.72,467.3 251.60,469.3 250.48,471.1 249.36,472.3 248.24,473.3 247.12,475.2 246.00,474.9 244.88,473.5 243.76,471.8 242.64,470.5 241.52,471.4 240.40,473.9 239.28,475.7 238.16,476.5 237.04,476.2 235.92,475.8 234.80,475.7 233.68,475.2 232.56,474.0 231.44,473.0 230.32,472.9 229.20,472.5 228.08,471.5 226.96,471.0 225.84,470.8 224.72,472.0 223.60,473.8 222.48,475.4 221.36,477.3 220.24,477.9 219.12,477.1 218.00,474.9 216.88,473.7 215.76,472.2 214.64,471.2 213.52,472.0 212.40,471.1 211.28,470.0 210.16,469.9 209.04,470.9 207.92,472.6 206.80,474.0 205.68,474.8 204.56,475.6 203.44,476.1 202.32,476.5 201.20,477.2 200.08,477.9 198.96,477.8 197.84,478.6 196.72,480.4 195.60,481.1 194.48,480.8 193.36,480.0 192.24,478.5 191.12,479.0 190.00,481.6 188.88,482.5 187.76,483.3 186.64,484.8 185.52,485.2 184.40,484.8 183.28,484.7 182.16,483.6 181.04,482.5 179.92,482.0 178.80,481.7 177.68,481.2 176.56,480.8 175.44,479.7 174.32,478.9 173.20,481.9 172.08,486.1 170.96,489.2 169.84,490.1 168.72,489.3 167.60,488.9 166.48,488.6 165.36,488.8 164.24,487.9 163.12,485.7 162.00,484.1 160.88,483.2 159.76,481.9 158.64,481.5 157.52,482.2 156.40,482.1 155.28,480.4 154.16,479.6 153.04,478.8 151.92,477.4 150.80,478.6 149.68,479.6 148.56,481.5 147.44,483.7 146.32,485.1 145.20,487.3 144.08,490.2 142.96,490.8 141.84,489.3 140.72,488.2 139.60,489.1 138.48,490.4 137.36,489.9 136.24,488.6 135.12,487.1 134.00,486.3 132.88,486.9 131.76,487.0 130.64,487.0 129.52,488.0 128.40,489.0 127.28,488.3 126.16,488.5 125.04,490.1 123.92,490.8 122.80,490.9 121.68,491.4 120.56,491.9 119.44,493.0 118.32,494.6 117.20,495.6 116.08,495.9 114.96,496.0 113.84,496.1 112.72,496.7 111.60,497.7 110.48,498.1 109.36,498.1 108.24,498.4 107.12,498.3 106.00,496.8 104.88,495.5 103.76,495.5 102.64,495.8 101.52,496.5 100.40,497.6 99.28,498.5 98.16,497.8 97.04,497.3 95.92,498.9 94.80,500.1 93.68,501.5 92.56,502.9 91.44,502.6 90.32,501.3 89.20,500.1 88.08,499.5 86.96,498.0 85.84,496.0 84.72,495.4 83.60,495.5 82.48,495.0 81.36,494.8 80.24,494.5 79.12,494.1 78.00,494.7 76.88,496.3 75.76,496.6 74.64,495.5 73.52,493.8 72.40,491.0 71.28,488.9 70.16,490.4 69.04,493.1 67.92,496.6 66.80,500.2 65.68,502.9 64.56,503.5 63.44,503.9 62.32,504.0 61.20,504.7 60.08,505.4 58.96,505.1 57.84,505.4 56.72,507.2 55.60,507.8 54.48,507.5 53.36,508.3 52.24,509.4 51.12,510.1 50.00,510.1" fill="#a9ca72" fill-opacity="0.7"/><polyline points="50.00,524.2 51.12,524.1 52.24,523.6 53.36,523.0 54.48,522.9 55.60,522.9 56.72,523.6 57.84,524.0 58.96,523.2 60.08,522.8 61.20,522.9 62.32,522.2 63.44,520.8 64.56,519.5 65.68,519.0 66.80,517.5 67.92,514.9 69.04,512.6 70.16,510.4 71.28,509.4 72.40,512.3 73.52,515.7 74.64,517.9 75.76,520.2 76.88,521.6 78.00,521.1 79.12,520.5 80.24,521.5 81.36,522.8 82.48,522.9 83.60,522.6 84.72,522.9 85.84,523.3 86.96,524.2 88.08,524.9 89.20,524.7 90.32,525.0 91.44,525.4 92.56,524.9 93.68,524.5 94.80,524.5 95.92,523.8 97.04,523.0 98.16,523.8 99.28,524.3 100.40,523.9 101.52,524.5 102.64,524.8 103.76,525.1 104.88,526.4 106.00,526.1 107.12,525.0 108.24,525.5 109.36,526.0 110.48,526.1 111.60,526.0 112.72,525.6 113.84,525.5 114.96,525.0 116.08,523.6 117.20,522.9 118.32,522.9 119.44,522.7 120.56,522.2 121.68,522.3 122.80,523.2 123.92,524.5 125.04,524.6 126.16,523.8 127.28,524.3 128.40,524.7 129.52,523.4 130.64,523.0 131.76,523.4 132.88,523.5 134.00,522.7 135.12,522.5 136.24,522.7 137.36,523.9 138.48,525.0 139.60,524.0 140.72,522.9 141.84,522.6 142.96,521.9 144.08,520.9 145.20,520.1 146.32,519.8 147.44,519.7 148.56,519.5 149.68,518.6 150.80,517.6 151.92,517.1 153.04,517.8 154.16,518.9 155.28,520.7 156.40,522.6 157.52,522.6 158.64,520.4 159.76,518.4 160.88,517.9 162.00,518.8 163.12,519.6 164.24,521.1 165.36,522.2 166.48,521.5 167.60,521.5 168.72,522.7 169.84,523.0 170.96,522.5 172.08,522.3 173.20,522.3 174.32,520.8 175.44,519.6 176.56,520.5 177.68,521.2 178.80,521.4 179.92,521.8 181.04,522.5 182.16,523.9 183.28,524.8 184.40,525.1 185.52,525.6 186.64,525.4 187.76,524.6 188.88,524.8 190.00,525.1 191.12,524.8 192.24,524.5 193.36,524.1 194.48,523.7 195.60,523.5 196.72,523.5 197.84,523.2 198.96,523.0 200.08,524.3 201.20,524.9 202.32,523.6 203.44,522.3 204.56,521.4 205.68,520.9 206.80,520.7 207.92,519.7 209.04,518.5 210.16,517.6 211.28,517.3 212.40,518.2 213.52,519.6 214.64,519.6 215.76,519.8 216.88,520.3 218.00,520.6 219.12,521.4 220.24,522.0 221.36,522.6 222.48,522.9 223.60,522.7 224.72,521.7 225.84,521.5 226.96,521.6 228.08,519.9 229.20,518.8 230.32,519.5 231.44,519.3 232.56,517.9 233.68,517.4 234.80,517.0 235.92,516.8 237.04,517.5 238.16,517.7 239.28,517.0 240.40,516.8 241.52,516.8 242.64,516.8 243.76,516.9 244.88,517.0 246.00,518.0 247.12,518.8 248.24,516.9 249.36,514.8 250.48,512.9 251.60,511.1 252.72,510.5 253.84,510.3 254.96,509.6 256.08,508.9 257.20,509.4 258.32,510.0 259.44,510.0 260.56,509.1 261.68,507.4 262.80,506.2 263.92,506.4 265.04,506.2 266.16,506.8 267.28,508.1 268.40,509.4 269.52,510.0 270.64,510.6 271.76,511.6 272.88,511.1 274.00,509.8 275.12,509.3 276.24,509.3 277.36,509.9 278.48,510.7 279.60,510.2 280.72,508.3 281.84,507.6 282.96,508.0 284.08,507.6 285.20,507.6 286.32,508.2 287.44,507.2 288.56,507.1 289.68,507.0 290.80,505.2 291.92,503.1 293.04,503.3 294.16,503.3 295.28,503.7 296.40,504.7 297.52,504.7 298.64,504.2 299.76,504.4 300.88,504.2 302.00,503.3 303.12,501.1 304.24,498.1 305.36,495.4 306.48,493.1 307.60,491.2 308.72,489.1 309.84,487.2 310.96,485.8 312.08,481.4 313.20,475.8 314.32,472.7 315.44,473.8 316.56,474.9 317.68,476.2 318.80,475.6 319.92,474.2 321.04,472.0 322.16,470.7 323.28,470.1 324.40,467.3 325.52,458.7 326.64,449.5 327.76,446.9 328.88,448.0 330.00,449.9 331.12,453.0 332.24,448.2 333.36,441.3 334.48,435.3 335.60,434.0 336.72,434.3 337.84,430.1 338.96,423.9 340.08,418.9 341.20,417.9 342.32,420.2 343.44,425.1 344.56,431.6 345.68,432.9 346.80,430.1 347.92,427.6 349.04,426.9 350.16,427.1 351.28,428.9 352.40,429.3 353.52,426.7 354.64,425.0 355.76,425.1 356.88,425.4 358.00,427.4 359.12,429.5 360.24,430.7 361.36,430.6 362.48,429.8 363.60,427.9 364.72,425.5 365.84,423.4 366.96,423.4 368.08,424.7 369.20,427.3 370.32,431.2 371.44,436.8 372.56,440.2 373.68,439.9 374.80,439.4 375.92,440.2 377.04,440.3 378.16,441.1 379.28,441.8 380.40,441.9 381.52,441.7 382.64,441.4 383.76,441.2 384.88,441.5 386.00,441.8 387.12,446.1 388.24,449.9 389.36,453.4 390.48,456.8 391.60,460.0 392.72,464.1 393.84,469.2 394.96,474.1 396.08,476.2 397.20,479.2 398.32,482.5 399.44,485.3 400.56,487.1 401.68,488.3 402.80,488.3 403.92,487.1 405.04,486.5 406.16,486.9 407.28,487.2 408.40,487.2 409.52,487.4 410.64,486.8 411.76,484.7 412.88,483.1 414.00,484.1 415.12,485.1 416.24,486.0 417.36,487.9 418.48,488.9 419.60,488.3 420.72,487.6 421.84,487.9 422.96,488.2 424.08,488.1 425.20,488.8 426.32,490.2 427.44,490.7 428.56,492.0 429.68,493.5 430.80,494.1 431.92,495.6 433.04,497.4 434.16,497.6 435.28,495.9 436.40,494.2 437.52,493.3 438.64,491.6 439.76,488.2 440.88,485.1 442.00,483.5 443.12,482.7 444.24,481.3 445.36,479.4 446.48,477.6 447.60,476.9 448.72,477.0 449.84,477.4 450.96,477.3 452.08,477.0 453.20,477.5 454.32,478.4 455.44,478.1 456.56,477.3 457.68,477.6 458.80,478.7 459.92,479.1 461.04,480.2 462.16,482.4 463.28,483.8 464.40,486.7 465.52,490.8 466.64,494.8 467.76,497.0 468.88,499.0 470.00,500.6 471.12,500.3 472.24,499.6 473.36,499.9 474.48,501.0 475.60,501.6 476.72,502.2 477.84,503.1 478.96,504.3 480.08,507.1 481.20,511.2 482.32,514.1 483.44,516.8 484.56,520.1 485.68,523.3 486.80,524.4 487.92,524.4 489.04,524.1 490.16,524.6 491.28,525.6 492.40,525.5 493.52,525.4 494.64,524.7 495.76,521.9 496.88,519.7 498.00,518.4 499.12,516.6 500.24,516.9 501.36,518.0 502.48,517.8 503.60,515.8 504.72,514.7 505.84,514.3 506.96,512.7 508.08,511.8 509.20,512.5 510.32,513.0 511.44,512.3 512.56,510.8 513.68,509.3 514.80,509.3 515.92,509.9 517.04,509.3 518.16,508.4 519.28,508.5 520.40,510.3 521.52,512.5 522.64,514.8 523.76,516.1 524.88,516.6 526.00,516.6 527.12,515.1 528.24,512.8 529.36,511.6 530.48,512.2 531.60,513.8 532.72,515.0 533.84,513.8 534.96,511.9 536.08,509.6 537.20,507.9 538.32,508.2 539.44,508.3 540.56,503.3 541.68,496.7 542.80,491.1 543.92,488.6 545.04,488.1 546.16,488.3 547.28,489.2 548.40,489.5 549.52,489.3 550.64,488.0 551.76,486.8 552.88,486.6 554.00,487.1 555.12,487.5 556.24,486.6 557.36,482.4 558.48,479.0 559.60,476.7 560.72,475.6 561.84,474.6 562.96,476.5 564.08,479.7 565.20,488.1 566.32,488.4 567.44,484.5 568.56,481.7 569.68,477.6 570.80,472.0 571.92,466.2 573.04,460.5 574.16,454.9 575.28,450.5 576.40,446.9 577.52,442.7 578.64,437.6 579.76,433.4 580.88,431.1 582.00,428.6 583.12,426.2 584.24,426.5 585.36,427.5 586.48,426.9 587.60,425.2 588.72,423.8 589.84,422.2 590.96,418.7 592.08,422.4 593.20,425.6 594.32,425.9 595.44,425.1 596.56,422.8 597.68,419.5 598.80,414.5 599.92,407.8 601.04,403.7 602.16,403.1 603.28,401.9 604.40,403.7 605.52,406.4 606.64,407.9 607.76,410.3 608.88,413.5 610.00,415.5 611.12,417.2 612.24,419.0 613.36,420.7 614.48,419.6 615.60,417.8 616.72,416.9 617.84,417.8 618.96,420.6 620.08,425.7 621.20,431.4 622.32,434.5 623.44,436.4 624.56,438.1 625.68,439.0 626.80,439.4 627.92,435.7 629.04,429.4 630.16,425.4 631.28,423.3 632.40,423.4 633.52,424.5 634.64,426.4 635.76,427.6 636.88,427.7 638.00,418.8 639.12,412.1 640.24,407.9 641.36,403.6 642.48,399.0 643.60,398.1 644.72,397.8 645.84,397.7 646.96,397.1 648.08,396.5 649.20,398.8 650.32,403.4 651.44,405.4 652.56,402.5 653.68,399.1 654.80,396.5 655.92,393.8 657.04,390.2 658.16,386.8 659.28,384.6 660.40,383.0 661.52,382.1 662.64,382.0 663.76,385.1 664.88,389.5 666.00,394.5 667.12,396.7 668.24,397.0 669.36,397.7 670.48,398.8 671.60,400.1 672.72,402.3 673.84,404.4 674.96,405.9 676.08,407.1 677.20,408.3 678.32,411.7 679.44,416.3 680.56,420.4 681.68,422.9 682.80,423.3" fill="none" stroke="#204f8a" stroke-width="3.2" stroke-linejoin="round"/><polyline points="50.00,517.1 51.12,517.5 52.24,517.1 53.36,515.8 54.48,515.0 55.60,515.6 56.72,515.0 57.84,514.1 58.96,514.1 60.08,513.6 61.20,512.8 62.32,512.3 63.44,511.4 64.56,509.5 65.68,508.4 66.80,507.7 67.92,505.4 69.04,502.3 70.16,500.3 71.28,499.5 72.40,501.9 73.52,505.8 74.64,509.7 75.76,513.7 76.88,516.2 78.00,516.0 79.12,516.2 80.24,517.5 81.36,518.6 82.48,518.8 83.60,518.2 84.72,517.9 85.84,517.8 86.96,517.3 88.08,517.0 89.20,517.6 90.32,517.7 91.44,516.9 92.56,515.7 93.68,515.6 94.80,515.6 95.92,514.6 97.04,514.0 98.16,515.3 99.28,516.7 100.40,516.3 101.52,516.0 102.64,516.4 103.76,516.1 104.88,515.3 106.00,515.9 107.12,516.9 108.24,517.7 109.36,518.5 110.48,518.3 111.60,517.5 112.72,516.9 113.84,516.4 114.96,515.3 116.08,514.7 117.20,515.1 118.32,514.8 119.44,513.2 120.56,512.0 121.68,512.0 122.80,512.1 123.92,511.8 125.04,510.9 126.16,509.1 127.28,508.3 128.40,508.2 129.52,507.6 130.64,506.2 131.76,504.2 132.88,503.3 134.00,502.9 135.12,503.0 136.24,503.8 137.36,506.0 138.48,507.5 139.60,507.1 140.72,505.9 141.84,505.1 142.96,504.1 144.08,502.8 145.20,501.1 146.32,500.2 147.44,499.9 148.56,499.1 149.68,498.2 150.80,496.7 151.92,496.6 153.04,497.6 154.16,500.0 155.28,502.4 156.40,503.9 157.52,503.5 158.64,501.7 159.76,499.4 160.88,499.2 162.00,499.6 163.12,501.0 164.24,502.8 165.36,503.3 166.48,503.2 167.60,504.5 168.72,505.7 169.84,503.3 170.96,499.6 172.08,497.3 173.20,496.3 174.32,495.0 175.44,494.8 176.56,497.4 177.68,499.2 178.80,499.5 179.92,499.6 181.04,498.8 182.16,499.0 183.28,499.7 184.40,500.6 185.52,500.5 186.64,499.6 187.76,499.1 188.88,499.5 190.00,499.2 191.12,497.9 192.24,497.1 193.36,497.7 194.48,498.5 195.60,497.3 196.72,495.9 197.84,495.9 198.96,495.7 200.08,494.7 201.20,494.1 202.32,494.2 203.44,493.8 204.56,493.0 205.68,492.9 206.80,493.7 207.92,493.4 209.04,492.0 210.16,490.3 211.28,489.8 212.40,491.4 213.52,493.2 214.64,495.3 215.76,497.2 216.88,497.7 218.00,498.6 219.12,500.5 220.24,500.4 221.36,499.7 222.48,499.2 223.60,497.9 224.72,496.9 225.84,497.5 226.96,497.6 228.08,497.0 229.20,496.8 230.32,495.9 231.44,494.7 232.56,494.4 233.68,494.7 234.80,495.2 235.92,495.1 237.04,495.0 238.16,494.8 239.28,493.7 240.40,492.9 241.52,492.1 242.64,491.6 243.76,491.8 244.88,492.0 246.00,492.2 247.12,492.4 248.24,492.5 249.36,493.0 250.48,492.3 251.60,490.8 252.72,489.4 253.84,488.7 254.96,488.7 256.08,488.0 257.20,487.3 258.32,487.1 259.44,486.7 260.56,485.8 261.68,484.1 262.80,482.4 263.92,483.2 265.04,486.3 266.16,487.1 267.28,488.2 268.40,490.9 269.52,493.3 270.64,492.7 271.76,491.7 272.88,491.3 274.00,490.0 275.12,489.1 276.24,488.2 277.36,486.2 278.48,484.5 279.60,483.3 280.72,481.3 281.84,478.9 282.96,477.8 284.08,477.5 285.20,477.2 286.32,476.5 287.44,474.3 288.56,472.0 289.68,471.5 290.80,470.8 291.92,469.9 293.04,469.3 294.16,467.7 295.28,466.5 296.40,466.6 297.52,466.0 298.64,465.6 299.76,465.8 300.88,465.7 302.00,464.9 303.12,462.7 304.24,460.6 305.36,458.0 306.48,452.9 307.60,448.1 308.72,444.1 309.84,440.5 310.96,437.8 312.08,436.0 313.20,433.6 314.32,432.1 315.44,431.2 316.56,429.9 317.68,428.8 318.80,428.2 319.92,426.2 321.04,423.1 322.16,419.6 323.28,415.9 324.40,412.4 325.52,408.6 326.64,404.1 327.76,404.0 328.88,403.2 330.00,400.4 331.12,408.8 332.24,402.8 333.36,397.2 334.48,392.4 335.60,390.1 336.72,388.7 337.84,387.0 338.96,382.7 340.08,377.6 341.20,374.7 342.32,380.8 343.44,386.6 344.56,383.1 345.68,380.8 346.80,383.3 347.92,384.9 349.04,385.1 350.16,385.2 351.28,384.3 352.40,382.7 353.52,382.2 354.64,383.5 355.76,384.4 356.88,385.6 358.00,387.8 359.12,389.1 360.24,388.4 361.36,387.4 362.48,387.6 363.60,387.9 364.72,386.7 365.84,384.6 366.96,383.2 368.08,383.6 369.20,384.8 370.32,385.8 371.44,389.0 372.56,393.6 373.68,397.5 374.80,400.5 375.92,401.7 377.04,402.4 378.16,402.3 379.28,402.5 380.40,403.0 381.52,401.9 382.64,400.8 383.76,401.3 384.88,402.7 386.00,402.8 387.12,400.4 388.24,399.6 389.36,405.7 390.48,411.7 391.60,417.8 392.72,423.5 393.84,426.8 394.96,428.9 396.08,431.4 397.20,435.5 398.32,439.5 399.44,441.7 400.56,443.8 401.68,447.0 402.80,449.9 403.92,451.8 405.04,451.8 406.16,450.9 407.28,449.5 408.40,449.0 409.52,449.4 410.64,449.4 411.76,448.2 412.88,446.8 414.00,446.4 415.12,448.9 416.24,451.1 417.36,452.6 418.48,454.1 419.60,455.1 420.72,455.5 421.84,455.6 422.96,455.9 424.08,457.2 425.20,459.5 426.32,460.1 427.44,460.0 428.56,461.3 429.68,463.1 430.80,464.8 431.92,466.5 433.04,467.5 434.16,468.6 435.28,467.6 436.40,465.5 437.52,463.2 438.64,461.2 439.76,459.9 440.88,458.1 442.00,457.0 443.12,456.3 444.24,454.9 445.36,454.2 446.48,455.8 447.60,456.7 448.72,456.5 449.84,456.5 450.96,456.3 452.08,455.4 453.20,455.3 454.32,457.0 455.44,457.9 456.56,457.9 457.68,458.3 458.80,458.1 459.92,458.1 461.04,459.4 462.16,460.0 463.28,459.9 464.40,461.1 465.52,463.8 466.64,465.2 467.76,465.6 468.88,467.0 470.00,468.0 471.12,467.2 472.24,466.8 473.36,466.7 474.48,466.4 475.60,466.5 476.72,466.7 477.84,468.6 478.96,472.6 480.08,477.8 481.20,483.2 482.32,487.6 483.44,492.1 484.56,495.0 485.68,496.3 486.80,497.2 487.92,497.4 489.04,498.0 490.16,499.5 491.28,500.6 492.40,499.2 493.52,496.3 494.64,495.3 495.76,495.2 496.88,494.9 498.00,494.0 499.12,493.6 500.24,493.7 501.36,493.9 502.48,493.7 503.60,492.8 504.72,492.1 505.84,492.6 506.96,492.7 508.08,492.5 509.20,492.2 510.32,491.8 511.44,491.6 512.56,490.6 513.68,489.4 514.80,489.2 515.92,490.1 517.04,490.6 518.16,490.1 519.28,490.4 520.40,492.4 521.52,494.2 522.64,496.4 523.76,499.4 524.88,499.4 526.00,497.3 527.12,495.2 528.24,493.4 529.36,491.6 530.48,490.1 531.60,489.2 532.72,487.8 533.84,486.2 534.96,484.8 536.08,482.5 537.20,480.5 538.32,478.9 539.44,476.8 540.56,473.1 541.68,470.3 542.80,466.7 543.92,462.6 545.04,460.9 546.16,460.4 547.28,459.3 548.40,457.8 549.52,456.0 550.64,454.2 551.76,453.0 552.88,452.1 554.00,451.4 555.12,449.3 556.24,446.7 557.36,444.7 558.48,442.5 559.60,439.5 560.72,436.8 561.84,434.8 562.96,436.7 564.08,440.7 565.20,447.0 566.32,450.9 567.44,449.9 568.56,445.8 569.68,437.6 570.80,426.2 571.92,414.4 573.04,403.2 574.16,398.4 575.28,396.6 576.40,386.7 577.52,380.1 578.64,377.3 579.76,375.4 580.88,374.0 582.00,372.8 583.12,370.6 584.24,367.9 585.36,366.7 586.48,365.1 587.60,361.9 588.72,358.7 589.84,355.8 590.96,353.7 592.08,359.2 593.20,364.4 594.32,364.7 595.44,360.2 596.56,354.7 597.68,350.1 598.80,344.6 599.92,337.0 601.04,330.2 602.16,328.3 603.28,327.1 604.40,330.7 605.52,330.2 606.64,328.5 607.76,333.8 608.88,338.4 610.00,340.8 611.12,345.7 612.24,348.8 613.36,351.5 614.48,351.1 615.60,349.1 616.72,349.0 617.84,353.6 618.96,352.7 620.08,352.1 621.20,359.6 622.32,364.0 623.44,367.7 624.56,369.8 625.68,370.1 626.80,369.0 627.92,367.0 629.04,364.6 630.16,362.1 631.28,360.3 632.40,358.2 633.52,355.6 634.64,354.5 635.76,354.3 636.88,352.0 638.00,346.3 639.12,337.6 640.24,324.4 641.36,321.6 642.48,318.3 643.60,315.9 644.72,315.2 645.84,312.9 646.96,308.9 648.08,307.4 649.20,311.8 650.32,316.0 651.44,314.4 652.56,309.6 653.68,306.4 654.80,304.4 655.92,302.5 657.04,300.0 658.16,296.8 659.28,293.2 660.40,290.1 661.52,287.8 662.64,285.9 663.76,290.8 664.88,299.0 666.00,309.5 667.12,315.7 668.24,316.0 669.36,316.5 670.48,317.5 671.60,319.2 672.72,322.2 673.84,326.5 674.96,328.3 676.08,323.8 677.20,322.2 678.32,328.1 679.44,332.6 680.56,334.3 681.68,335.0 682.80,335.4" fill="none" stroke="#9dd3e6" stroke-width="3.4" stroke-linejoin="round"/><polyline points="50.00,513.9 51.12,513.4 52.24,513.1 53.36,512.8 54.48,513.5 55.60,514.6 56.72,514.0 57.84,512.7 58.96,512.8 60.08,513.5 61.20,512.8 62.32,511.4 63.44,511.0 64.56,509.5 65.68,508.3 66.80,506.3 67.92,504.4 69.04,502.2 70.16,499.9 71.28,498.8 72.40,500.4 73.52,502.1 74.64,503.2 75.76,504.7 76.88,505.3 78.00,503.8 79.12,503.0 80.24,503.6 81.36,504.4 82.48,504.6 83.60,503.8 84.72,503.2 85.84,503.1 86.96,503.9 88.08,505.6 89.20,506.3 90.32,506.6 91.44,507.4 92.56,507.6 93.68,506.7 94.80,505.4 95.92,503.4 97.04,501.4 98.16,502.1 99.28,503.1 100.40,501.7 101.52,501.5 102.64,502.1 103.76,501.9 104.88,501.9 106.00,502.6 107.12,503.3 108.24,503.6 109.36,503.8 110.48,504.4 111.60,504.3 112.72,503.7 113.84,503.5 114.96,503.0 116.08,501.8 117.20,500.8 118.32,500.5 119.44,499.7 120.56,498.6 121.68,497.6 122.80,496.5 123.92,496.2 125.04,495.7 126.16,494.1 127.28,493.8 128.40,493.7 129.52,492.6 130.64,491.4 131.76,491.0 132.88,491.5 134.00,491.9 135.12,492.6 136.24,493.0 137.36,494.2 138.48,495.6 139.60,495.5 140.72,495.4 141.84,496.5 142.96,497.2 144.08,495.8 145.20,493.2 146.32,491.9 147.44,490.4 148.56,488.6 149.68,487.1 150.80,485.0 151.92,483.1 153.04,484.5 154.16,486.2 155.28,487.9 156.40,490.6 157.52,491.6 158.64,490.3 159.76,489.9 160.88,490.6 162.00,491.5 163.12,492.5 164.24,493.7 165.36,493.7 166.48,493.1 167.60,494.3 168.72,496.0 169.84,494.4 170.96,491.7 172.08,488.9 173.20,486.9 174.32,486.1 175.44,486.3 176.56,486.6 177.68,487.3 178.80,487.6 179.92,486.8 181.04,486.8 182.16,488.1 183.28,489.7 184.40,490.9 185.52,492.4 186.64,492.1 187.76,489.6 188.88,488.6 190.00,488.1 191.12,485.8 192.24,485.1 193.36,486.4 194.48,487.3 195.60,487.2 196.72,486.9 197.84,485.8 198.96,484.7 200.08,484.6 201.20,484.1 202.32,482.9 203.44,482.1 204.56,482.0 205.68,481.9 206.80,481.1 207.92,480.4 209.04,479.2 210.16,478.1 211.28,478.4 212.40,479.9 213.52,481.2 214.64,479.1 215.76,478.9 216.88,480.8 218.00,483.4 219.12,486.1 220.24,485.6 221.36,484.1 222.48,483.1 223.60,481.6 224.72,479.6 225.84,478.5 226.96,478.2 228.08,478.4 229.20,479.7 230.32,480.8 231.44,481.8 232.56,483.0 233.68,484.2 234.80,484.6 235.92,484.5 237.04,485.1 238.16,484.8 239.28,482.4 240.40,480.0 241.52,478.5 242.64,477.9 243.76,478.2 244.88,479.3 246.00,481.0 247.12,482.3 248.24,481.4 249.36,480.2 250.48,478.2 251.60,476.1 252.72,474.9 253.84,473.9 254.96,473.0 256.08,471.1 257.20,469.2 258.32,469.2 259.44,469.8 260.56,469.4 261.68,467.9 262.80,466.1 263.92,466.4 265.04,469.4 266.16,470.9 267.28,471.1 268.40,471.8 269.52,470.8 270.64,469.2 271.76,468.4 272.88,466.2 274.00,463.7 275.12,461.9 276.24,460.4 277.36,459.1 278.48,457.4 279.60,456.1 280.72,455.1 281.84,453.8 282.96,452.7 284.08,452.4 285.20,452.6 286.32,453.1 287.44,452.6 288.56,450.0 289.68,447.5 290.80,445.2 291.92,442.6 293.04,440.7 294.16,438.7 295.28,437.5 296.40,437.4 297.52,436.7 298.64,434.9 299.76,432.4 300.88,430.9 302.00,431.2 303.12,430.1 304.24,429.3 305.36,428.1 306.48,424.4 307.60,420.5 308.72,417.4 309.84,413.7 310.96,409.1 312.08,404.0 313.20,401.7 314.32,401.9 315.44,401.1 316.56,398.8 317.68,397.1 318.80,395.1 319.92,392.6 321.04,391.1 322.16,389.7 323.28,385.4 324.40,376.2 325.52,372.2 326.64,373.5 327.76,373.7 328.88,373.1 330.00,371.9 331.12,370.1 332.24,368.9 333.36,367.2 334.48,364.2 335.60,360.7 336.72,357.3 337.84,353.9 338.96,349.4 340.08,344.9 341.20,343.3 342.32,347.0 343.44,350.7 344.56,353.1 345.68,356.3 346.80,357.8 347.92,355.9 349.04,352.6 350.16,349.7 351.28,347.4 352.40,344.6 353.52,344.0 354.64,346.7 355.76,348.9 356.88,351.1 358.00,355.2 359.12,358.9 360.24,358.8 361.36,356.6 362.48,355.2 363.60,353.3 364.72,351.8 365.84,350.4 366.96,353.0 368.08,356.8 369.20,371.4 370.32,372.4 371.44,373.5 372.56,373.3 373.68,372.9 374.80,372.8 375.92,373.0 377.04,374.1 378.16,375.6 379.28,376.6 380.40,375.9 381.52,375.0 382.64,374.9 383.76,375.2 384.88,376.1 386.00,376.6 387.12,376.4 388.24,377.1 389.36,383.6 390.48,393.0 391.60,401.6 392.72,409.2 393.84,413.8 394.96,417.1 396.08,420.2 397.20,422.3 398.32,423.9 399.44,423.8 400.56,424.4 401.68,426.1 402.80,428.3 403.92,429.6 405.04,428.9 406.16,427.8 407.28,426.9 408.40,426.5 409.52,427.3 410.64,426.8 411.76,426.6 412.88,428.7 414.00,429.6 415.12,430.4 416.24,432.2 417.36,434.2 418.48,434.9 419.60,434.9 420.72,435.6 421.84,437.1 422.96,438.5 424.08,439.8 425.20,441.6 426.32,442.8 427.44,442.6 428.56,442.8 429.68,443.1 430.80,444.9 431.92,448.1 433.04,450.0 434.16,449.4 435.28,447.2 436.40,445.1 437.52,444.4 438.64,443.9 439.76,443.4 440.88,443.0 442.00,442.1 443.12,441.1 444.24,440.5 445.36,440.6 446.48,441.4 447.60,442.3 448.72,442.8 449.84,442.3 450.96,441.6 452.08,441.1 453.20,440.9 454.32,441.3 455.44,441.4 456.56,441.3 457.68,441.8 458.80,442.1 459.92,441.8 461.04,442.2 462.16,444.0 463.28,446.2 464.40,449.3 465.52,452.9 466.64,456.4 467.76,459.5 468.88,462.8 470.00,456.2 471.12,456.0 472.24,454.7 473.36,454.9 474.48,455.4 475.60,454.6 476.72,454.3 477.84,454.9 478.96,456.3 480.08,458.8 481.20,461.9 482.32,465.7 483.44,475.8 484.56,486.1 485.68,487.2 486.80,487.6 487.92,487.9 489.04,489.5 490.16,489.1 491.28,479.7 492.40,477.6 493.52,475.6 494.64,474.6 495.76,473.4 496.88,472.5 498.00,473.5 499.12,473.4 500.24,470.9 501.36,469.6 502.48,474.7 503.60,480.9 504.72,481.4 505.84,481.9 506.96,483.1 508.08,484.4 509.20,484.6 510.32,483.7 511.44,483.2 512.56,482.6 513.68,481.9 514.80,481.2 515.92,481.1 517.04,480.7 518.16,481.2 519.28,482.2 520.40,483.0 521.52,485.1 522.64,487.4 523.76,490.2 524.88,490.2 526.00,487.1 527.12,484.7 528.24,483.2 529.36,481.3 530.48,479.3 531.60,476.9 532.72,474.2 533.84,472.8 534.96,471.8 536.08,469.0 537.20,465.6 538.32,462.9 539.44,460.0 540.56,455.3 541.68,449.8 542.80,442.7 543.92,435.1 545.04,432.2 546.16,431.6 547.28,430.1 548.40,427.6 549.52,425.3 550.64,423.1 551.76,420.8 552.88,419.6 554.00,419.2 555.12,418.2 556.24,417.3 557.36,416.7 558.48,415.1 559.60,413.0 560.72,411.2 561.84,408.6 562.96,409.4 564.08,412.2 565.20,414.1 566.32,411.3 567.44,407.4 568.56,403.7 569.68,400.3 570.80,398.0 571.92,395.8 573.04,392.9 574.16,382.1 575.28,365.1 576.40,347.6 577.52,338.9 578.64,334.4 579.76,330.7 580.88,326.8 582.00,324.5 583.12,322.1 584.24,318.6 585.36,316.5 586.48,314.7 587.60,311.4 588.72,308.9 589.84,307.8 590.96,307.2 592.08,309.5 593.20,312.5 594.32,314.3 595.44,311.3 596.56,306.3 597.68,302.1 598.80,297.4 599.92,292.4 601.04,288.6 602.16,285.4 603.28,281.6 604.40,280.3 605.52,282.2 606.64,283.9 607.76,285.8 608.88,288.7 610.00,292.5 611.12,296.9 612.24,301.2 613.36,303.1 614.48,300.5 615.60,299.1 616.72,298.6 617.84,302.0 618.96,303.8 620.08,306.5 621.20,319.0 622.32,324.3 623.44,327.1 624.56,328.4 625.68,328.6 626.80,327.7 627.92,326.0 629.04,323.5 630.16,320.8 631.28,317.8 632.40,314.9 633.52,312.6 634.64,310.2 635.76,308.1 636.88,307.6 638.00,307.5 639.12,301.4 640.24,296.0 641.36,291.5 642.48,285.6 643.60,279.4 644.72,274.1 645.84,268.9 646.96,263.6 648.08,261.0 649.20,264.4 650.32,265.1 651.44,260.4 652.56,258.5 653.68,255.6 654.80,250.6 655.92,246.3 657.04,241.5 658.16,239.2 659.28,238.0 660.40,236.4 661.52,234.8 662.64,234.3 663.76,242.0 664.88,255.4 666.00,255.3 667.12,266.4 668.24,270.2 669.36,271.4 670.48,272.9 671.60,276.1 672.72,280.6 673.84,281.6 674.96,281.3 676.08,281.0 677.20,283.9 678.32,287.6 679.44,290.9 680.56,292.5 681.68,293.9 682.80,294.6" fill="none" stroke="#2f8bcf" stroke-width="3.2" stroke-linejoin="round"/><polyline points="50.00,511.3 51.12,510.9 52.24,510.9 53.36,510.3 54.48,510.1 55.60,511.0 56.72,510.3 57.84,508.9 58.96,509.2 60.08,509.3 61.20,508.6 62.32,507.7 63.44,507.0 64.56,506.2 65.68,505.1 66.80,503.3 67.92,501.2 69.04,498.4 70.16,495.4 71.28,493.6 72.40,495.4 73.52,497.6 74.64,499.1 75.76,501.6 76.88,503.0 78.00,501.2 79.12,499.8 80.24,500.8 81.36,501.8 82.48,501.7 83.60,501.2 84.72,501.1 85.84,502.3 86.96,503.5 88.08,504.4 89.20,504.9 90.32,505.9 91.44,507.0 92.56,506.6 93.68,505.1 94.80,504.3 95.92,503.4 97.04,500.9 98.16,500.4 99.28,501.0 100.40,500.5 101.52,501.4 102.64,501.7 103.76,500.1 104.88,499.5 106.00,501.1 107.12,502.3 108.24,502.8 109.36,503.0 110.48,502.6 111.60,501.9 112.72,500.7 113.84,500.4 114.96,500.4 116.08,499.8 117.20,499.6 118.32,498.4 119.44,496.6 120.56,496.3 121.68,496.1 122.80,494.6 123.92,493.7 125.04,494.0 126.16,493.4 127.28,492.3 128.40,492.0 129.52,491.9 130.64,490.7 131.76,489.4 132.88,489.2 134.00,489.4 135.12,490.4 136.24,491.5 137.36,493.3 138.48,494.1 139.60,492.7 140.72,492.9 141.84,494.4 142.96,494.9 144.08,493.9 145.20,491.2 146.32,489.9 147.44,488.9 148.56,485.7 149.68,483.2 150.80,482.4 151.92,480.9 153.04,481.1 154.16,482.1 155.28,484.1 156.40,487.5 157.52,489.0 158.64,487.2 159.76,486.1 160.88,486.9 162.00,487.5 163.12,488.5 164.24,490.6 165.36,490.8 166.48,490.8 167.60,492.5 168.72,493.6 169.84,491.9 170.96,489.7 172.08,487.3 173.20,485.0 174.32,483.5 175.44,483.6 176.56,484.1 177.68,484.1 178.80,484.6 179.92,485.5 181.04,486.0 182.16,487.1 183.28,489.0 184.40,489.4 185.52,489.7 186.64,489.1 187.76,487.2 188.88,486.9 190.00,486.0 191.12,483.2 192.24,482.6 193.36,483.9 194.48,484.5 195.60,484.4 196.72,483.9 197.84,482.5 198.96,481.7 200.08,481.6 201.20,481.2 202.32,480.3 203.44,479.4 204.56,479.3 205.68,478.9 206.80,478.0 207.92,476.7 209.04,475.9 210.16,475.2 211.28,475.0 212.40,476.6 213.52,478.5 214.64,477.5 215.76,477.8 216.88,478.6 218.00,480.5 219.12,483.6 220.24,483.3 221.36,481.7 222.48,480.2 223.60,478.8 224.72,477.5 225.84,477.0 226.96,476.7 228.08,476.2 229.20,477.0 230.32,478.4 231.44,479.4 232.56,480.5 233.68,481.8 234.80,482.5 235.92,482.7 237.04,483.2 238.16,482.9 239.28,480.9 240.40,477.6 241.52,474.5 242.64,474.0 243.76,476.0 244.88,478.3 246.00,479.9 247.12,480.3 248.24,478.5 249.36,477.4 250.48,476.3 251.60,474.3 252.72,472.2 253.84,471.1 254.96,469.9 256.08,468.0 257.20,467.1 258.32,466.5 259.44,466.0 260.56,466.4 261.68,465.6 262.80,463.6 263.92,463.9 265.04,466.9 266.16,468.2 267.28,469.2 268.40,470.3 269.52,469.0 270.64,466.6 271.76,464.9 272.88,462.8 274.00,460.7 275.12,459.6 276.24,458.8 277.36,457.1 278.48,455.2 279.60,454.0 280.72,452.4 281.84,450.5 282.96,449.5 284.08,449.7 285.20,450.4 286.32,451.1 287.44,450.9 288.56,449.5 289.68,447.4 290.80,444.3 291.92,441.8 293.04,440.7 294.16,438.2 295.28,436.1 296.40,435.4 297.52,434.5 298.64,433.0 299.76,431.3 300.88,429.8 302.00,429.0 303.12,427.6 304.24,427.0 305.36,425.9 306.48,422.4 307.60,419.1 308.72,416.6 309.84,412.1 310.96,406.5 312.08,401.5 313.20,399.1 314.32,399.1 315.44,398.5 316.56,396.1 317.68,394.0 318.80,392.2 319.92,390.5 321.04,389.7 322.16,387.8 323.28,382.9 324.40,374.1 325.52,370.1 326.64,370.6 327.76,370.7 328.88,370.2 330.00,368.8 331.12,367.7 332.24,366.4 333.36,364.1 334.48,361.4 335.60,357.9 336.72,354.5 337.84,351.7 338.96,348.0 340.08,343.4 341.20,341.1 342.32,344.3 343.44,347.4 344.56,350.2 345.68,354.4 346.80,355.4 347.92,352.4 349.04,349.2 350.16,347.0 351.28,344.9 352.40,342.5 353.52,342.0 354.64,343.9 355.76,346.2 356.88,349.0 358.00,352.5 359.12,355.6 360.24,356.2 361.36,354.4 362.48,352.7 363.60,350.8 364.72,349.6 365.84,349.0 366.96,351.6 368.08,353.6 369.20,356.4 370.32,359.8 371.44,363.4 372.56,366.6 373.68,367.1 374.80,366.3 375.92,366.4 377.04,367.1 378.16,368.3 379.28,370.1 380.40,371.0 381.52,369.4 382.64,367.8 383.76,368.5 384.88,369.7 386.00,369.9 387.12,369.8 388.24,371.6 389.36,375.1 390.48,382.1 391.60,391.0 392.72,398.7 393.84,404.4 394.96,406.7 396.08,408.9 397.20,412.7 398.32,415.3 399.44,415.7 400.56,417.1 401.68,419.3 402.80,420.8 403.92,421.6 405.04,421.5 406.16,421.5 407.28,420.9 408.40,419.1 409.52,417.9 410.64,417.8 411.76,418.6 412.88,419.2 414.00,419.4 415.12,421.4 416.24,423.3 417.36,425.4 418.48,426.8 419.60,427.1 420.72,427.5 421.84,429.5 422.96,431.0 424.08,431.0 425.20,432.5 426.32,434.4 427.44,434.3 428.56,434.9 429.68,437.0 430.80,438.9 431.92,441.7 433.04,444.4 434.16,443.1 435.28,440.3 436.40,438.4 437.52,437.0 438.64,436.2 439.76,435.6 440.88,434.2 442.00,433.3 443.12,433.9 444.24,433.8 445.36,433.5 446.48,433.9 447.60,434.6 448.72,434.8 449.84,434.8 450.96,434.6 452.08,433.5 453.20,433.0 454.32,433.4 455.44,434.2 456.56,435.1 457.68,435.6 458.80,435.2 459.92,434.9 461.04,435.7 462.16,437.2 463.28,439.0 464.40,441.5 465.52,444.5 466.64,448.0 467.76,451.0 468.88,453.7 470.00,452.1 471.12,452.3 472.24,452.4 473.36,452.3 474.48,452.9 475.60,452.4 476.72,451.1 477.84,451.7 478.96,454.7 480.08,457.6 481.20,459.9 482.32,463.8 483.44,470.2 484.56,475.9 485.68,477.7 486.80,478.5 487.92,479.2 489.04,481.2 490.16,482.6 491.28,476.6 492.40,473.9 493.52,472.6 494.64,472.4 495.76,472.1 496.88,470.9 498.00,470.8 499.12,471.0 500.24,469.5 501.36,467.9 502.48,470.8 503.60,474.6 504.72,474.7 505.84,475.6 506.96,476.4 508.08,477.3 509.20,478.1 510.32,477.5 511.44,477.7 512.56,477.3 513.68,475.7 514.80,474.9 515.92,475.4 517.04,475.9 518.16,476.5 519.28,477.9 520.40,479.1 521.52,480.4 522.64,482.1 523.76,484.4 524.88,484.5 526.00,482.0 527.12,479.3 528.24,477.6 529.36,474.4 530.48,470.9 531.60,468.8 532.72,466.8 533.84,465.9 534.96,464.6 536.08,459.9 537.20,455.5 538.32,452.3 539.44,450.9 540.56,448.1 541.68,441.1 542.80,433.4 543.92,425.8 545.04,422.2 546.16,421.6 547.28,420.9 548.40,418.7 549.52,415.9 550.64,414.0 551.76,412.7 552.88,412.2 554.00,411.6 555.12,409.5 556.24,407.1 557.36,405.1 558.48,402.4 559.60,399.8 560.72,391.8 561.84,390.1 562.96,392.0 564.08,395.1 565.20,396.9 566.32,394.4 567.44,391.7 568.56,387.6 569.68,380.2 570.80,379.2 571.92,373.3 573.04,365.5 574.16,355.0 575.28,343.2 576.40,332.0 577.52,327.6 578.64,324.8 579.76,321.2 580.88,317.7 582.00,314.5 583.12,311.4 584.24,308.8 585.36,307.2 586.48,304.8 587.60,301.4 588.72,299.4 589.84,298.8 590.96,299.8 592.08,303.4 593.20,305.6 594.32,305.4 595.44,300.7 596.56,294.2 597.68,289.2 598.80,283.9 599.92,278.7 601.04,274.5 602.16,271.4 603.28,268.4 604.40,267.6 605.52,269.8 606.64,272.0 607.76,274.9 608.88,277.8 610.00,279.9 611.12,282.1 612.24,285.1 613.36,287.4 614.48,287.5 615.60,287.2 616.72,286.5 617.84,289.7 618.96,292.3 620.08,295.2 621.20,305.7 622.32,311.3 623.44,315.5 624.56,317.6 625.68,315.8 626.80,314.9 627.92,314.2 629.04,310.7 630.16,307.6 631.28,305.7 632.40,304.6 633.52,301.4 634.64,298.3 635.76,295.6 636.88,295.7 638.00,295.1 639.12,287.4 640.24,279.8 641.36,273.7 642.48,268.6 643.60,263.7 644.72,258.9 645.84,253.2 646.96,245.9 648.08,241.4 649.20,243.0 650.32,243.7 651.44,241.6 652.56,238.6 653.68,236.6 654.80,235.1 655.92,232.8 657.04,231.0 658.16,230.4 659.28,230.2 660.40,229.0 661.52,226.4 662.64,224.3 663.76,226.4 664.88,234.2 666.00,245.2 667.12,248.9 668.24,251.8 669.36,254.9 670.48,258.6 671.60,259.3 672.72,258.8 673.84,265.4 674.96,268.4 676.08,269.0 677.20,263.2 678.32,268.2 679.44,276.2 680.56,278.9 681.68,271.4 682.80,279.1" fill="none" stroke="#a4285a" stroke-width="3.4" stroke-linejoin="round"/><polyline points="50.00,510.1 51.12,510.1 52.24,509.4 53.36,508.3 54.48,507.5 55.60,507.8 56.72,507.2 57.84,505.4 58.96,505.1 60.08,505.4 61.20,504.7 62.32,504.0 63.44,503.9 64.56,503.5 65.68,502.9 66.80,500.2 67.92,496.6 69.04,493.1 70.16,490.4 71.28,488.9 72.40,491.0 73.52,493.8 74.64,495.5 75.76,496.6 76.88,496.3 78.00,494.7 79.12,494.1 80.24,494.5 81.36,494.8 82.48,495.0 83.60,495.5 84.72,495.4 85.84,496.0 86.96,498.0 88.08,499.5 89.20,500.1 90.32,501.3 91.44,502.6 92.56,502.9 93.68,501.5 94.80,500.1 95.92,498.9 97.04,497.3 98.16,497.8 99.28,498.5 100.40,497.6 101.52,496.5 102.64,495.8 103.76,495.5 104.88,495.5 106.00,496.8 107.12,498.3 108.24,498.4 109.36,498.1 110.48,498.1 111.60,497.7 112.72,496.7 113.84,496.1 114.96,496.0 116.08,495.9 117.20,495.6 118.32,494.6 119.44,493.0 120.56,491.9 121.68,491.4 122.80,490.9 123.92,490.8 125.04,490.1 126.16,488.5 127.28,488.3 128.40,489.0 129.52,488.0 130.64,487.0 131.76,487.0 132.88,486.9 134.00,486.3 135.12,487.1 136.24,488.6 137.36,489.9 138.48,490.4 139.60,489.1 140.72,488.2 141.84,489.3 142.96,490.8 144.08,490.2 145.20,487.3 146.32,485.1 147.44,483.7 148.56,481.5 149.68,479.6 150.80,478.6 151.92,477.4 153.04,478.8 154.16,479.6 155.28,480.4 156.40,482.1 157.52,482.2 158.64,481.5 159.76,481.9 160.88,483.2 162.00,484.1 163.12,485.7 164.24,487.9 165.36,488.8 166.48,488.6 167.60,488.9 168.72,489.3 169.84,490.1 170.96,489.2 172.08,486.1 173.20,481.9 174.32,478.9 175.44,479.7 176.56,480.8 177.68,481.2 178.80,481.7 179.92,482.0 181.04,482.5 182.16,483.6 183.28,484.7 184.40,484.8 185.52,485.2 186.64,484.8 187.76,483.3 188.88,482.5 190.00,481.6 191.12,479.0 192.24,478.5 193.36,480.0 194.48,480.8 195.60,481.1 196.72,480.4 197.84,478.6 198.96,477.8 200.08,477.9 201.20,477.2 202.32,476.5 203.44,476.1 204.56,475.6 205.68,474.8 206.80,474.0 207.92,472.6 209.04,470.9 210.16,469.9 211.28,470.0 212.40,471.1 213.52,472.0 214.64,471.2 215.76,472.2 216.88,473.7 218.00,474.9 219.12,477.1 220.24,477.9 221.36,477.3 222.48,475.4 223.60,473.8 224.72,472.0 225.84,470.8 226.96,471.0 228.08,471.5 229.20,472.5 230.32,472.9 231.44,473.0 232.56,474.0 233.68,475.2 234.80,475.7 235.92,475.8 237.04,476.2 238.16,476.5 239.28,475.7 240.40,473.9 241.52,471.4 242.64,470.5 243.76,471.8 244.88,473.5 246.00,474.9 247.12,475.2 248.24,473.3 249.36,472.3 250.48,471.1 251.60,469.3 252.72,467.3 253.84,465.1 254.96,463.3 256.08,461.5 257.20,460.8 258.32,461.2 259.44,461.1 260.56,460.6 261.68,460.5 262.80,459.9 263.92,459.9 265.04,460.7 266.16,461.9 267.28,462.0 268.40,463.6 269.52,465.1 270.64,464.6 271.76,462.8 272.88,460.1 274.00,457.5 275.12,456.1 276.24,455.2 277.36,453.7 278.48,451.7 279.60,450.8 280.72,450.0 281.84,448.6 282.96,447.0 284.08,446.3 285.20,447.0 286.32,448.3 287.44,447.9 288.56,446.1 289.68,444.3 290.80,441.6 291.92,438.8 293.04,437.5 294.16,435.5 295.28,433.8 296.40,433.4 297.52,432.2 298.64,430.1 299.76,428.4 300.88,427.3 302.00,427.2 303.12,426.1 304.24,425.1 305.36,423.6 306.48,420.3 307.60,417.2 308.72,413.3 309.84,408.4 310.96,404.5 312.08,399.7 313.20,396.5 314.32,396.2 315.44,396.1 316.56,394.9 317.68,392.3 318.80,389.5 319.92,388.1 321.04,387.3 322.16,385.7 323.28,380.2 324.40,370.6 325.52,367.0 326.64,367.9 327.76,367.6 328.88,367.0 330.00,366.7 331.12,365.6 332.24,363.5 333.36,361.6 334.48,359.4 335.60,357.0 336.72,353.3 337.84,349.5 338.96,346.0 340.08,341.1 341.20,338.1 342.32,341.4 343.44,344.6 344.56,347.4 345.68,351.8 346.80,352.4 347.92,349.8 349.04,347.0 350.16,343.9 351.28,341.7 352.40,339.9 353.52,339.6 354.64,342.2 355.76,344.7 356.88,346.7 358.00,350.4 359.12,353.4 360.24,353.0 361.36,351.1 362.48,350.0 363.60,349.0 364.72,347.6 365.84,345.6 366.96,344.1 368.08,344.7 369.20,345.4 370.32,347.3 371.44,351.1 372.56,355.1 373.68,357.4 374.80,357.8 375.92,358.4 377.04,359.8 378.16,360.8 379.28,362.0 380.40,362.8 381.52,362.2 382.64,361.8 383.76,363.0 384.88,364.5 386.00,364.3 387.12,363.2 388.24,364.3 389.36,367.2 390.48,374.8 391.60,384.7 392.72,393.3 393.84,400.4 394.96,403.0 396.08,405.6 397.20,408.1 398.32,409.6 399.44,408.9 400.56,409.3 401.68,412.0 402.80,414.0 403.92,414.4 405.04,414.2 406.16,413.6 407.28,412.4 408.40,411.2 409.52,410.5 410.64,410.3 411.76,410.5 412.88,410.0 414.00,409.6 415.12,412.1 416.24,414.5 417.36,416.6 418.48,418.3 419.60,418.5 420.72,418.4 421.84,420.2 422.96,421.6 424.08,421.6 425.20,423.4 426.32,425.5 427.44,425.4 428.56,425.6 429.68,427.1 430.80,429.4 431.92,432.1 433.04,433.6 434.16,432.7 435.28,431.4 436.40,430.0 437.52,428.2 438.64,426.9 439.76,426.2 440.88,425.3 442.00,423.8 443.12,423.5 444.24,423.7 445.36,423.8 446.48,423.8 447.60,424.4 448.72,424.7 449.84,424.8 450.96,424.7 452.08,424.4 453.20,425.2 454.32,426.4 455.44,426.4 456.56,425.8 457.68,425.3 458.80,425.6 459.92,426.9 461.04,428.7 462.16,429.9 463.28,430.0 464.40,433.5 465.52,440.1 466.64,443.0 467.76,445.6 468.88,449.3 470.00,451.4 471.12,450.8 472.24,450.7 473.36,450.9 474.48,450.9 475.60,449.9 476.72,448.2 477.84,448.8 478.96,452.5 480.08,455.7 481.20,458.2 482.32,461.6 483.44,465.6 484.56,468.9 485.68,471.7 486.80,473.2 487.92,473.4 489.04,474.4 490.16,475.7 491.28,475.1 492.40,472.6 493.52,470.3 494.64,470.2 495.76,470.1 496.88,468.5 498.00,468.3 499.12,468.7 500.24,467.3 501.36,465.1 502.48,463.7 503.60,464.9 504.72,466.9 505.84,469.3 506.96,469.9 508.08,469.9 509.20,470.6 510.32,470.9 511.44,469.9 512.56,468.1 513.68,466.2 514.80,465.4 515.92,465.8 517.04,466.0 518.16,466.6 519.28,468.2 520.40,469.6 521.52,470.8 522.64,472.4 523.76,475.1 524.88,476.1 526.00,474.6 527.12,472.9 528.24,471.0 529.36,468.1 530.48,465.1 531.60,462.1 532.72,459.5 533.84,456.4 534.96,451.9 536.08,451.9 537.20,446.9 538.32,442.1 539.44,442.1 540.56,441.7 541.68,433.5 542.80,424.6 543.92,415.8 545.04,411.7 546.16,411.2 547.28,410.2 548.40,408.5 549.52,406.6 550.64,404.9 551.76,403.5 552.88,402.5 554.00,401.6 555.12,400.7 556.24,399.5 557.36,396.2 558.48,390.6 559.60,386.8 560.72,386.0 561.84,386.8 562.96,389.1 564.08,391.8 565.20,393.9 566.32,392.4 567.44,389.0 568.56,384.7 569.68,378.6 570.80,369.9 571.92,358.7 573.04,347.3 574.16,335.3 575.28,326.8 576.40,320.9 577.52,316.8 578.64,313.7 579.76,311.5 580.88,310.2 582.00,308.0 583.12,306.0 584.24,304.8 585.36,303.7 586.48,300.4 587.60,294.1 588.72,288.9 589.84,286.0 590.96,285.7 592.08,290.9 593.20,295.0 594.32,296.8 595.44,293.1 596.56,286.7 597.68,280.2 598.80,273.6 599.92,268.2 601.04,263.9 602.16,261.0 603.28,258.1 604.40,256.8 605.52,258.9 606.64,262.1 607.76,265.5 608.88,268.6 610.00,271.8 611.12,273.8 612.24,275.0 613.36,276.9 614.48,276.5 615.60,275.2 616.72,276.2 617.84,278.2 618.96,281.0 620.08,286.5 621.20,295.2 622.32,300.1 623.44,303.6 624.56,305.2 625.68,305.2 626.80,303.6 627.92,301.6 629.04,299.2 630.16,295.0 631.28,291.8 632.40,290.3 633.52,288.8 634.64,287.8 635.76,285.4 636.88,283.1 638.00,281.6 639.12,275.1 640.24,268.9 641.36,264.9 642.48,260.2 643.60,253.7 644.72,248.2 645.84,241.5 646.96,230.8 648.08,224.1 649.20,226.0 650.32,226.6 651.44,224.5 652.56,220.7 653.68,217.1 654.80,215.6 655.92,213.9 657.04,212.6 658.16,211.5 659.28,209.8 660.40,206.3 661.52,203.4 662.64,203.7 663.76,212.3 664.88,222.0 666.00,228.9 667.12,232.8 668.24,233.6 669.36,234.5 670.48,235.2 671.60,236.3 672.72,238.3 673.84,240.0 674.96,240.2 676.08,239.2 677.20,239.2 678.32,242.3 679.44,246.9 680.56,252.0 681.68,258.0 682.80,260.9" fill="none" stroke="#f06ea0" stroke-width="3.6" stroke-linejoin="round"/><polyline points="50.00,504.9 51.12,504.1 52.24,503.2 53.36,502.6 54.48,502.8 55.60,503.8 56.72,503.4 57.84,501.9 58.96,501.9 60.08,501.8 61.20,499.8 62.32,497.2 63.44,496.4 64.56,496.5 65.68,495.5 66.80,491.9 67.92,487.1 69.04,481.5 70.16,478.3 71.28,477.3 72.40,480.0 73.52,483.0 74.64,485.9 75.76,489.8 76.88,492.0 78.00,490.2 79.12,489.0 80.24,489.9 81.36,489.9 82.48,489.8 83.60,490.6 84.72,490.6 85.84,490.7 86.96,491.6 88.08,492.6 89.20,493.1 90.32,494.8 91.44,496.9 92.56,497.0 93.68,495.7 94.80,494.1 95.92,492.1 97.04,490.5 98.16,491.2 99.28,492.6 100.40,492.4 101.52,491.8 102.64,491.3 103.76,490.2 104.88,490.1 106.00,490.8 107.12,491.5 108.24,492.1 109.36,492.7 110.48,493.2 111.60,492.8 112.72,491.3 113.84,490.8 114.96,490.4 116.08,489.0 117.20,489.0 118.32,488.4 119.44,485.5 120.56,484.8 121.68,484.9 122.80,484.4 123.92,484.6 125.04,483.8 126.16,483.8 127.28,484.7 128.40,484.2 129.52,482.6 130.64,480.9 131.76,479.9 132.88,479.5 134.00,478.6 135.12,479.9 136.24,481.6 137.36,482.6 138.48,483.7 139.60,483.2 140.72,483.0 141.84,484.9 142.96,485.4 144.08,483.2 145.20,479.9 146.32,477.4 147.44,475.4 148.56,473.2 149.68,471.5 150.80,470.4 151.92,469.0 153.04,470.0 154.16,471.0 155.28,472.0 156.40,473.4 157.52,473.6 158.64,473.1 159.76,474.0 160.88,475.5 162.00,477.9 163.12,479.9 164.24,481.3 165.36,481.4 166.48,481.2 167.60,481.7 168.72,482.2 169.84,481.0 170.96,477.9 172.08,475.9 173.20,474.9 174.32,473.1 175.44,472.4 176.56,474.2 177.68,475.3 178.80,476.1 179.92,476.6 181.04,475.4 182.16,477.0 183.28,477.9 184.40,478.1 185.52,479.1 186.64,478.9 187.76,477.0 188.88,475.3 190.00,473.6 191.12,471.2 192.24,471.0 193.36,473.0 194.48,474.4 195.60,475.0 196.72,475.3 197.84,473.8 198.96,472.5 200.08,472.0 201.20,471.5 202.32,471.3 203.44,470.4 204.56,469.1 205.68,469.2 206.80,468.8 207.92,466.8 209.04,463.9 210.16,460.8 211.28,461.0 212.40,464.1 213.52,465.2 214.64,464.6 215.76,466.0 216.88,466.8 218.00,467.0 219.12,468.7 220.24,469.5 221.36,469.8 222.48,468.8 223.60,467.3 224.72,466.0 225.84,464.5 226.96,463.1 228.08,462.8 229.20,463.5 230.32,464.0 231.44,464.8 232.56,466.1 233.68,466.8 234.80,467.0 235.92,468.3 237.04,469.8 238.16,468.1 239.28,465.2 240.40,463.6 241.52,461.6 242.64,460.2 243.76,461.1 244.88,463.0 246.00,464.0 247.12,464.2 248.24,463.6 249.36,463.7 250.48,463.5 251.60,461.8 252.72,459.8 253.84,458.1 254.96,456.5 256.08,454.1 257.20,452.1 258.32,451.9 259.44,452.4 260.56,451.7 261.68,450.7 262.80,449.5 263.92,449.6 265.04,452.9 266.16,454.0 267.28,453.9 268.40,456.4 269.52,457.0 270.64,454.6 271.76,453.3 272.88,452.7 274.00,451.0 275.12,448.6 276.24,447.4 277.36,446.3 278.48,444.8 279.60,443.3 280.72,441.2 281.84,438.6 282.96,436.5 284.08,436.1 285.20,437.2 286.32,439.0 287.44,438.6 288.56,436.4 289.68,434.8 290.80,431.1 291.92,427.5 293.04,426.5 294.16,424.2 295.28,422.4 296.40,421.7 297.52,420.4 298.64,418.3 299.76,416.3 300.88,415.8 302.00,416.3 303.12,414.8 304.24,414.9 305.36,414.0 306.48,409.3 307.60,405.9 308.72,402.5 309.84,395.0 310.96,386.9 312.08,381.8 313.20,382.5 314.32,386.9 315.44,389.7 316.56,387.6 317.68,383.4 318.80,379.2 319.92,376.9 321.04,375.9 322.16,373.3 323.28,367.2 324.40,357.7 325.52,353.0 326.64,351.8 327.76,350.5 328.88,351.2 330.00,353.5 331.12,355.6 332.24,353.1 333.36,349.8 334.48,346.2 335.60,343.1 336.72,340.9 337.84,337.8 338.96,331.4 340.08,323.4 341.20,318.5 342.32,323.0 343.44,326.7 344.56,329.5 345.68,333.4 346.80,335.1 347.92,333.0 349.04,329.3 350.16,327.1 351.28,326.5 352.40,325.0 353.52,323.9 354.64,324.7 355.76,325.6 356.88,329.2 358.00,333.6 359.12,337.1 360.24,337.6 361.36,335.9 362.48,333.7 363.60,331.1 364.72,329.8 365.84,329.4 366.96,328.9 368.08,327.8 369.20,327.5 370.32,330.1 371.44,333.6 372.56,336.0 373.68,338.6 374.80,340.9 375.92,340.5 377.04,339.7 378.16,340.8 379.28,343.8 380.40,346.5 381.52,346.2 382.64,345.3 383.76,345.6 384.88,345.3 386.00,344.5 387.12,345.2 388.24,347.0 389.36,351.5 390.48,359.4 391.60,368.5 392.72,377.9 393.84,384.6 394.96,388.8 396.08,391.7 397.20,395.7 398.32,398.0 399.44,398.2 400.56,399.5 401.68,401.9 402.80,403.3 403.92,403.8 405.04,403.2 406.16,402.4 407.28,401.2 408.40,400.4 409.52,400.6 410.64,399.6 411.76,397.8 412.88,397.1 414.00,397.9 415.12,402.2 416.24,406.1 417.36,408.7 418.48,409.8 419.60,410.1 420.72,409.4 421.84,409.6 422.96,410.5 424.08,411.1 425.20,413.7 426.32,417.1 427.44,417.9 428.56,418.3 429.68,419.8 430.80,421.0 431.92,423.3 433.04,425.6 434.16,424.6 435.28,422.7 436.40,421.4 437.52,420.7 438.64,419.9 439.76,417.8 440.88,414.1 442.00,410.4 443.12,412.5 444.24,415.8 445.36,418.3 446.48,419.1 447.60,419.9 448.72,418.9 449.84,416.7 450.96,414.8 452.08,416.1 453.20,418.4 454.32,420.2 455.44,420.2 456.56,421.1 457.68,420.9 458.80,418.4 459.92,416.1 461.04,415.6 462.16,416.9 463.28,419.2 464.40,424.7 465.52,431.9 466.64,436.3 467.76,438.2 468.88,439.5 470.00,441.3 471.12,440.6 472.24,439.5 473.36,438.8 474.48,438.9 475.60,438.7 476.72,437.5 477.84,437.8 478.96,440.5 480.08,443.0 481.20,445.2 482.32,449.1 483.44,453.7 484.56,456.5 485.68,457.8 486.80,458.8 487.92,458.8 489.04,459.5 490.16,460.9 491.28,460.1 492.40,457.5 493.52,456.6 494.64,457.0 495.76,456.0 496.88,454.7 498.00,454.8 499.12,453.0 500.24,450.1 501.36,449.1 502.48,451.4 503.60,454.4 504.72,456.1 505.84,455.6 506.96,454.6 508.08,454.4 509.20,454.7 510.32,453.7 511.44,452.4 512.56,452.0 513.68,452.0 514.80,452.1 515.92,452.1 517.04,450.4 518.16,448.6 519.28,449.3 520.40,453.1 521.52,455.7 522.64,457.8 523.76,460.8 524.88,461.2 526.00,459.3 527.12,456.6 528.24,453.7 529.36,450.4 530.48,446.4 531.60,443.5 532.72,442.1 533.84,441.4 534.96,436.8 536.08,433.0 537.20,430.0 538.32,427.1 539.44,423.1 540.56,417.5 541.68,411.0 542.80,403.0 543.92,397.6 545.04,394.9 546.16,394.8 547.28,395.4 548.40,394.6 549.52,392.6 550.64,389.9 551.76,388.4 552.88,388.4 554.00,388.5 555.12,386.5 556.24,383.3 557.36,379.1 558.48,373.1 559.60,368.5 560.72,366.9 561.84,367.8 562.96,372.0 564.08,376.1 565.20,377.9 566.32,375.9 567.44,372.4 568.56,366.3 569.68,358.2 570.80,347.5 571.92,333.6 573.04,320.1 574.16,303.1 575.28,300.4 576.40,298.9 577.52,297.8 578.64,295.9 579.76,293.5 580.88,292.2 582.00,290.8 583.12,288.2 584.24,286.1 585.36,284.3 586.48,280.8 587.60,276.6 588.72,273.1 589.84,269.2 590.96,266.4 592.08,271.6 593.20,276.7 594.32,278.0 595.44,274.1 596.56,268.2 597.68,262.2 598.80,254.8 599.92,247.7 601.04,242.0 602.16,239.7 603.28,239.1 604.40,239.3 605.52,240.8 606.64,243.0 607.76,245.5 608.88,248.7 610.00,253.3 611.12,256.6 612.24,257.7 613.36,258.2 614.48,257.0 615.60,255.6 616.72,256.4 617.84,258.6 618.96,260.9 620.08,266.7 621.20,276.2 622.32,282.6 623.44,286.5 624.56,288.6 625.68,289.6 626.80,288.9 627.92,286.9 629.04,284.4 630.16,280.2 631.28,274.9 632.40,274.1 633.52,273.0 634.64,270.2 635.76,268.5 636.88,268.4 638.00,262.8 639.12,253.5 640.24,246.2 641.36,241.0 642.48,235.5 643.60,230.2 644.72,225.5 645.84,219.2 646.96,209.8 648.08,205.1 649.20,205.9 650.32,210.0 651.44,214.9 652.56,212.9 653.68,204.6 654.80,199.9 655.92,197.9 657.04,195.1 658.16,192.4 659.28,191.3 660.40,190.2 661.52,188.1 662.64,186.3 663.76,188.3 664.88,197.9 666.00,213.1 667.12,218.5 668.24,220.3 669.36,221.2 670.48,222.9 671.60,224.8 672.72,226.8 673.84,227.9 674.96,225.7 676.08,223.1 677.20,223.7 678.32,226.5 679.44,233.7 680.56,240.2 681.68,244.6 682.80,247.2" fill="none" stroke="#a9ca72" stroke-width="3.4" stroke-linejoin="round"/>
</g>
<line x1="87.5" y1="534.5" x2="87.5" y2="541" stroke="#aaa097" stroke-width="1"/><line x1="145.5" y1="534.5" x2="145.5" y2="541" stroke="#aaa097" stroke-width="1"/><line x1="203.5" y1="534.5" x2="203.5" y2="541" stroke="#aaa097" stroke-width="1"/><line x1="262.5" y1="534.5" x2="262.5" y2="541" stroke="#aaa097" stroke-width="1"/><line x1="320.5" y1="534.5" x2="320.5" y2="541" stroke="#aaa097" stroke-width="1"/><line x1="379.5" y1="534.5" x2="379.5" y2="541" stroke="#aaa097" stroke-width="1"/><line x1="437.5" y1="534.5" x2="437.5" y2="541" stroke="#aaa097" stroke-width="1"/><line x1="495.5" y1="534.5" x2="495.5" y2="541" stroke="#aaa097" stroke-width="1"/><line x1="554.5" y1="534.5" x2="554.5" y2="541" stroke="#aaa097" stroke-width="1"/><line x1="612.5" y1="534.5" x2="612.5" y2="541" stroke="#aaa097" stroke-width="1"/><line x1="671.5" y1="534.5" x2="671.5" y2="541" stroke="#aaa097" stroke-width="1"/>
<g class="ax"><text x="87.2" y="556" text-anchor="middle">2015</text><text x="145.6" y="556" text-anchor="middle">2016</text><text x="204.0" y="556" text-anchor="middle">2017</text><text x="262.3" y="556" text-anchor="middle">2018</text><text x="320.7" y="556" text-anchor="middle">2019</text><text x="379.1" y="556" text-anchor="middle">2020</text><text x="437.5" y="556" text-anchor="middle">2021</text><text x="495.9" y="556" text-anchor="middle">2022</text><text x="554.2" y="556" text-anchor="middle">2023</text><text x="612.6" y="556" text-anchor="middle">2024</text><text x="671.0" y="556" text-anchor="middle">2025</text>
<text x="38" y="286.9" text-anchor="end">1000</text>
<text x="38" y="412.8" text-anchor="end">500</text>
<text x="38" y="539.5" text-anchor="end">0</text>
</g>
<line x1="389" y1="181.4" x2="389" y2="534" stroke="#1a1817" stroke-width="2" stroke-dasharray="2 2"/>
<g class="ann">
<text x="382" y="199" text-anchor="end">Covid-19</text>
<text x="382" y="216" text-anchor="end">rattles</text>
<text x="382" y="233" text-anchor="end">market</text>
</g>
</svg>
<h1 class="t">Hedge funds have continued to build large derivatives positions in<br>Treasuries</h1>
<div class="sub">By short futures contract ($bn)</div>
<div class="leg">
<i style="left:4px;background:#204f8a"></i><span style="left:28px">Two-year</span>
<i style="left:93px;background:#9dd3e6"></i><span style="left:117px">Five-year</span>
<i style="left:182px;background:#2f8bcf"></i><span style="left:205px">10-year</span>
<i style="left:261px;background:#a4285a"></i><span style="left:284px">Ultra 10-year</span>
<i style="left:374px;background:#f06ea0"></i><span style="left:397px">30-year</span>
<i style="left:454px;background:#a9ca72"></i><span style="left:477px">Ultra 30-year</span>
</div>
<div class="ft">FINANCIAL TIMES</div>
<div class="src">Sources: OFR, CFTC</div>
</body></html>
